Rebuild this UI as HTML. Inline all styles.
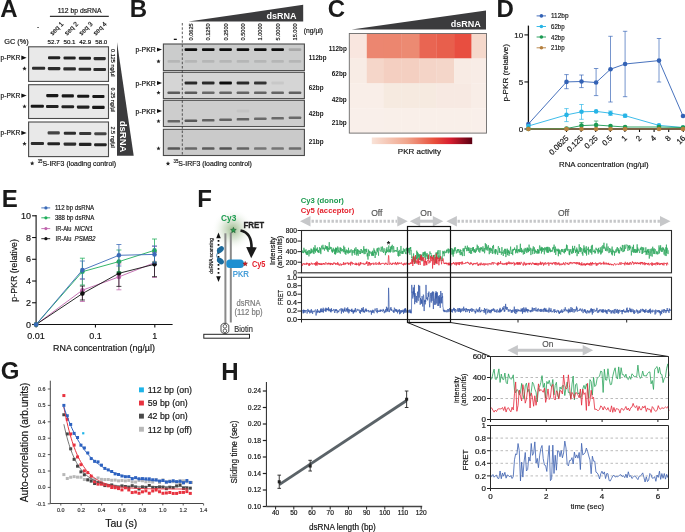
<!DOCTYPE html>
<html><head><meta charset="utf-8"><style>
html,body{margin:0;padding:0;background:#fff;}
svg{display:block;font-family:"Liberation Sans",sans-serif;will-change:transform;}
</style></head><body>
<svg width="685" height="532" viewBox="0 0 685 532">
<defs><filter id="bl" x="-20%" y="-100%" width="140%" height="300%"><feGaussianBlur stdDeviation="0.6"/></filter></defs>
<rect width="685" height="532" fill="#fff"/>
<text x="0.30" y="16.90" font-size="24" text-anchor="start" font-weight="bold" fill="#1a1a1a">A</text>
<text x="129.70" y="16.70" font-size="24" text-anchor="start" font-weight="bold" fill="#1a1a1a">B</text>
<text x="327.80" y="17.00" font-size="24" text-anchor="start" font-weight="bold" fill="#1a1a1a">C</text>
<text x="496.50" y="16.70" font-size="24" text-anchor="start" font-weight="bold" fill="#1a1a1a">D</text>
<text x="1.70" y="206.80" font-size="24" text-anchor="start" font-weight="bold" fill="#1a1a1a">E</text>
<text x="197.30" y="206.80" font-size="24" text-anchor="start" font-weight="bold" fill="#1a1a1a">F</text>
<text x="0.80" y="379.40" font-size="24" text-anchor="start" font-weight="bold" fill="#1a1a1a">G</text>
<text x="221.30" y="379.70" font-size="24" text-anchor="start" font-weight="bold" fill="#1a1a1a">H</text>
<text x="79.60" y="13.40" font-size="6.8" text-anchor="middle" font-weight="normal" fill="#151515" stroke="#151515" stroke-width="0.18">112 bp dsRNA</text>
<line x1="49.90" y1="16.40" x2="108.80" y2="16.40" stroke="#333" stroke-width="1.2"/>
<text x="38.10" y="28.50" font-size="6.5" text-anchor="middle" font-weight="normal" fill="#151515" stroke="#151515" stroke-width="0.18">-</text>
<text x="58.10" y="30.00" font-size="6.6" text-anchor="middle" font-weight="normal" fill="#151515" stroke="#151515" stroke-width="0.18" transform="rotate(-45 58.1 30.0)">seq 1</text>
<text x="72.80" y="30.00" font-size="6.6" text-anchor="middle" font-weight="normal" fill="#151515" stroke="#151515" stroke-width="0.18" transform="rotate(-45 72.8 30.0)">seq 2</text>
<text x="87.30" y="30.00" font-size="6.6" text-anchor="middle" font-weight="normal" fill="#151515" stroke="#151515" stroke-width="0.18" transform="rotate(-45 87.3 30.0)">seq 3</text>
<text x="101.50" y="30.00" font-size="6.6" text-anchor="middle" font-weight="normal" fill="#151515" stroke="#151515" stroke-width="0.18" transform="rotate(-45 101.5 30.0)">seq 4</text>
<text x="4.30" y="44.20" font-size="7.3" text-anchor="start" font-weight="normal" fill="#151515" stroke="#151515" stroke-width="0.18">GC (%)</text>
<text x="53.60" y="44.00" font-size="6.2" text-anchor="middle" font-weight="normal" fill="#151515" stroke="#151515" stroke-width="0.18">52.7</text>
<text x="69.50" y="44.00" font-size="6.2" text-anchor="middle" font-weight="normal" fill="#151515" stroke="#151515" stroke-width="0.18">50.1</text>
<text x="85.20" y="44.00" font-size="6.2" text-anchor="middle" font-weight="normal" fill="#151515" stroke="#151515" stroke-width="0.18">42.9</text>
<text x="101.30" y="44.00" font-size="6.2" text-anchor="middle" font-weight="normal" fill="#151515" stroke="#151515" stroke-width="0.18">58.0</text>
<rect x="28.60" y="46.80" width="79.90" height="34.60" fill="#e9e9e9" stroke="#4a4a4a" stroke-width="1.1"/>
<rect x="32.00" y="66.75" width="13.20" height="3.10" rx="1.03" fill="#111" opacity="0.85" filter="url(#bl)"/>
<rect x="48.00" y="56.15" width="12.20" height="3.10" rx="1.03" fill="#111" opacity="0.90" filter="url(#bl)"/>
<rect x="47.80" y="67.05" width="12.60" height="3.10" rx="1.03" fill="#111" opacity="0.85" filter="url(#bl)"/>
<rect x="63.50" y="56.45" width="12.20" height="3.10" rx="1.03" fill="#111" opacity="0.90" filter="url(#bl)"/>
<rect x="63.30" y="67.35" width="12.60" height="3.10" rx="1.03" fill="#111" opacity="0.85" filter="url(#bl)"/>
<rect x="78.80" y="56.75" width="12.20" height="3.10" rx="1.03" fill="#111" opacity="0.90" filter="url(#bl)"/>
<rect x="78.60" y="67.65" width="12.60" height="3.10" rx="1.03" fill="#111" opacity="0.85" filter="url(#bl)"/>
<rect x="93.60" y="57.05" width="12.20" height="3.10" rx="1.03" fill="#111" opacity="0.85" filter="url(#bl)"/>
<rect x="93.40" y="67.95" width="12.60" height="3.10" rx="1.03" fill="#111" opacity="0.85" filter="url(#bl)"/>
<text x="0.60" y="60.20" font-size="7.0" text-anchor="start" font-weight="normal" fill="#111" stroke="#111" stroke-width="0.18" textLength="19.6" lengthAdjust="spacingAndGlyphs">p-PKR</text>
<polygon points="21.30,55.50 21.30,59.90 26.60,57.70" fill="#111" stroke="none" stroke-width="1"/>
<polygon points="24.50,66.30 25.11,67.76 26.69,67.89 25.48,68.92 25.85,70.46 24.50,69.63 23.15,70.46 23.52,68.92 22.31,67.89 23.89,67.76" fill="#222" stroke="none" stroke-width="0.5"/>
<text x="111.10" y="62.80" font-size="5.5" text-anchor="middle" font-weight="normal" fill="#151515" stroke="#151515" stroke-width="0.18" transform="rotate(90 111.1 62.8)">0.125 ng/µl</text>
<rect x="28.60" y="84.70" width="79.90" height="33.80" fill="#e9e9e9" stroke="#4a4a4a" stroke-width="1.1"/>
<rect x="30.70" y="104.65" width="13.20" height="3.10" rx="1.03" fill="#111" opacity="0.95" filter="url(#bl)"/>
<rect x="46.20" y="94.05" width="12.20" height="3.10" rx="1.03" fill="#111" opacity="0.95" filter="url(#bl)"/>
<rect x="46.00" y="104.95" width="12.60" height="3.10" rx="1.03" fill="#111" opacity="0.90" filter="url(#bl)"/>
<rect x="61.70" y="94.35" width="12.20" height="3.10" rx="1.03" fill="#111" opacity="0.95" filter="url(#bl)"/>
<rect x="61.50" y="105.25" width="12.60" height="3.10" rx="1.03" fill="#111" opacity="0.90" filter="url(#bl)"/>
<rect x="77.10" y="94.65" width="12.20" height="3.10" rx="1.03" fill="#111" opacity="0.95" filter="url(#bl)"/>
<rect x="76.90" y="105.55" width="12.60" height="3.10" rx="1.03" fill="#111" opacity="0.90" filter="url(#bl)"/>
<rect x="92.30" y="94.95" width="12.20" height="3.10" rx="1.03" fill="#111" opacity="0.95" filter="url(#bl)"/>
<rect x="92.10" y="105.85" width="12.60" height="3.10" rx="1.03" fill="#111" opacity="0.95" filter="url(#bl)"/>
<text x="0.60" y="98.10" font-size="7.0" text-anchor="start" font-weight="normal" fill="#111" stroke="#111" stroke-width="0.18" textLength="19.6" lengthAdjust="spacingAndGlyphs">p-PKR</text>
<polygon points="21.30,93.40 21.30,97.80 26.60,95.60" fill="#111" stroke="none" stroke-width="1"/>
<polygon points="24.50,104.20 25.11,105.66 26.69,105.79 25.48,106.82 25.85,108.36 24.50,107.53 23.15,108.36 23.52,106.82 22.31,105.79 23.89,105.66" fill="#222" stroke="none" stroke-width="0.5"/>
<text x="111.10" y="99.70" font-size="5.5" text-anchor="middle" font-weight="normal" fill="#151515" stroke="#151515" stroke-width="0.18" transform="rotate(90 111.1 99.69999999999999)">0.25 ng/µl</text>
<rect x="28.60" y="122.00" width="79.90" height="34.60" fill="#e9e9e9" stroke="#4a4a4a" stroke-width="1.1"/>
<rect x="30.80" y="141.95" width="13.20" height="3.10" rx="1.03" fill="#111" opacity="0.85" filter="url(#bl)"/>
<rect x="47.60" y="131.35" width="12.20" height="3.10" rx="1.03" fill="#111" opacity="0.75" filter="url(#bl)"/>
<rect x="47.40" y="142.25" width="12.60" height="3.10" rx="1.03" fill="#111" opacity="0.90" filter="url(#bl)"/>
<rect x="63.80" y="131.65" width="12.20" height="3.10" rx="1.03" fill="#111" opacity="0.85" filter="url(#bl)"/>
<rect x="63.60" y="142.55" width="12.60" height="3.10" rx="1.03" fill="#111" opacity="0.85" filter="url(#bl)"/>
<rect x="79.10" y="131.95" width="12.20" height="3.10" rx="1.03" fill="#111" opacity="0.80" filter="url(#bl)"/>
<rect x="78.90" y="142.85" width="12.60" height="3.10" rx="1.03" fill="#111" opacity="0.90" filter="url(#bl)"/>
<rect x="94.30" y="132.25" width="12.20" height="3.10" rx="1.03" fill="#111" opacity="0.75" filter="url(#bl)"/>
<rect x="94.10" y="143.15" width="12.60" height="3.10" rx="1.03" fill="#111" opacity="0.90" filter="url(#bl)"/>
<text x="0.60" y="135.40" font-size="7.0" text-anchor="start" font-weight="normal" fill="#111" stroke="#111" stroke-width="0.18" textLength="19.6" lengthAdjust="spacingAndGlyphs">p-PKR</text>
<polygon points="21.30,130.70 21.30,135.10 26.60,132.90" fill="#111" stroke="none" stroke-width="1"/>
<polygon points="24.50,141.50 25.11,142.96 26.69,143.09 25.48,144.12 25.85,145.66 24.50,144.84 23.15,145.66 23.52,144.12 22.31,143.09 23.89,142.96" fill="#222" stroke="none" stroke-width="0.5"/>
<text x="111.10" y="137.10" font-size="5.5" text-anchor="middle" font-weight="normal" fill="#151515" stroke="#151515" stroke-width="0.18" transform="rotate(90 111.1 137.10000000000002)">2.5 ng/µl</text>
<polygon points="117.00,42.20 117.00,155.80 133.70,155.80" fill="#3b3b3d" stroke="none" stroke-width="1"/>
<text x="120.00" y="136.60" font-size="9.5" text-anchor="middle" font-weight="bold" fill="#fff" transform="rotate(90 120.0 136.6)">dsRNA</text>
<polygon points="32.20,161.10 32.81,162.56 34.39,162.69 33.18,163.72 33.55,165.26 32.20,164.44 30.85,165.26 31.22,163.72 30.01,162.69 31.59,162.56" fill="#222" stroke="none" stroke-width="0.5"/>
<text x="37.70" y="162.70" font-size="5.0" text-anchor="start" font-weight="normal" fill="#151515" stroke="#151515" stroke-width="0.18" textLength="4.8" lengthAdjust="spacingAndGlyphs">35</text>
<text x="42.50" y="166.00" font-size="6.9" text-anchor="start" font-weight="normal" fill="#151515" stroke="#151515" stroke-width="0.18" textLength="73.6" lengthAdjust="spacingAndGlyphs">S-IRF3 (loading control)</text>
<polygon points="188.40,21.40 303.20,4.80 303.20,21.40" fill="#3b3b3d" stroke="none" stroke-width="1"/>
<text x="296.50" y="18.50" font-size="9" text-anchor="end" font-weight="bold" fill="#fff">dsRNA</text>
<text x="192.90" y="23.30" font-size="5.6" text-anchor="end" font-weight="normal" fill="#151515" stroke="#151515" stroke-width="0.18" transform="rotate(-90 192.9 23.3)">0.0625</text>
<text x="210.25" y="23.30" font-size="5.6" text-anchor="end" font-weight="normal" fill="#151515" stroke="#151515" stroke-width="0.18" transform="rotate(-90 210.25 23.3)">0.1250</text>
<text x="227.60" y="23.30" font-size="5.6" text-anchor="end" font-weight="normal" fill="#151515" stroke="#151515" stroke-width="0.18" transform="rotate(-90 227.60000000000002 23.3)">0.2500</text>
<text x="244.95" y="23.30" font-size="5.6" text-anchor="end" font-weight="normal" fill="#151515" stroke="#151515" stroke-width="0.18" transform="rotate(-90 244.95000000000002 23.3)">0.5000</text>
<text x="262.30" y="23.30" font-size="5.6" text-anchor="end" font-weight="normal" fill="#151515" stroke="#151515" stroke-width="0.18" transform="rotate(-90 262.3 23.3)">1.0000</text>
<text x="279.65" y="23.30" font-size="5.6" text-anchor="end" font-weight="normal" fill="#151515" stroke="#151515" stroke-width="0.18" transform="rotate(-90 279.65 23.3)">5.0000</text>
<text x="297.00" y="23.30" font-size="5.6" text-anchor="end" font-weight="normal" fill="#151515" stroke="#151515" stroke-width="0.18" transform="rotate(-90 297.0 23.3)">15.000</text>
<text x="303.80" y="33.40" font-size="6.6" text-anchor="start" font-weight="normal" fill="#151515" stroke="#151515" stroke-width="0.18" textLength="19.3" lengthAdjust="spacingAndGlyphs">(ng/µl)</text>
<rect x="173.80" y="38.70" width="3.00" height="1.30" fill="#151515" stroke="none" stroke-width="1"/>
<rect x="163.40" y="44.00" width="141.00" height="26.60" fill="#cbcccc" stroke="#4a4a4a" stroke-width="1.1"/>
<rect x="167.55" y="60.10" width="12.50" height="2.60" rx="0.87" fill="#222" opacity="0.12" filter="url(#bl)"/>
<rect x="184.60" y="48.15" width="12.60" height="2.90" rx="0.97" fill="#111" opacity="1.00" filter="url(#bl)"/>
<rect x="184.65" y="60.10" width="12.50" height="2.60" rx="0.87" fill="#222" opacity="0.12" filter="url(#bl)"/>
<rect x="201.95" y="48.15" width="12.60" height="2.90" rx="0.97" fill="#111" opacity="1.00" filter="url(#bl)"/>
<rect x="202.00" y="60.10" width="12.50" height="2.60" rx="0.87" fill="#222" opacity="0.12" filter="url(#bl)"/>
<rect x="219.30" y="48.15" width="12.60" height="2.90" rx="0.97" fill="#111" opacity="1.00" filter="url(#bl)"/>
<rect x="219.35" y="60.10" width="12.50" height="2.60" rx="0.87" fill="#222" opacity="0.12" filter="url(#bl)"/>
<rect x="236.65" y="48.15" width="12.60" height="2.90" rx="0.97" fill="#111" opacity="1.00" filter="url(#bl)"/>
<rect x="236.70" y="60.10" width="12.50" height="2.60" rx="0.87" fill="#222" opacity="0.12" filter="url(#bl)"/>
<rect x="254.00" y="48.15" width="12.60" height="2.90" rx="0.97" fill="#111" opacity="1.00" filter="url(#bl)"/>
<rect x="254.05" y="60.10" width="12.50" height="2.60" rx="0.87" fill="#222" opacity="0.12" filter="url(#bl)"/>
<rect x="271.35" y="48.15" width="12.60" height="2.90" rx="0.97" fill="#111" opacity="1.00" filter="url(#bl)"/>
<rect x="271.40" y="60.10" width="12.50" height="2.60" rx="0.87" fill="#222" opacity="0.12" filter="url(#bl)"/>
<rect x="288.70" y="48.15" width="12.60" height="2.90" rx="0.97" fill="#111" opacity="0.18" filter="url(#bl)"/>
<rect x="288.75" y="60.10" width="12.50" height="2.60" rx="0.87" fill="#222" opacity="0.12" filter="url(#bl)"/>
<text x="135.50" y="52.10" font-size="7.0" text-anchor="start" font-weight="normal" fill="#111" stroke="#111" stroke-width="0.18" textLength="20.2" lengthAdjust="spacingAndGlyphs">p-PKR</text>
<polygon points="157.00,47.70 157.00,51.50 162.00,49.60" fill="#111" stroke="none" stroke-width="1"/>
<polygon points="158.50,59.20 159.08,60.60 160.59,60.72 159.44,61.71 159.79,63.18 158.50,62.39 157.21,63.18 157.56,61.71 156.41,60.72 157.92,60.60" fill="#222" stroke="none" stroke-width="0.5"/>
<text x="308.80" y="60.20" font-size="7.2" text-anchor="start" font-weight="bold" fill="#151515" textLength="17.7" lengthAdjust="spacingAndGlyphs">112bp</text>
<rect x="163.40" y="72.30" width="141.00" height="26.30" fill="#d5d5d5" stroke="#4a4a4a" stroke-width="1.1"/>
<rect x="167.55" y="91.40" width="12.50" height="2.60" rx="0.87" fill="#222" opacity="0.68" filter="url(#bl)"/>
<rect x="184.60" y="81.55" width="12.60" height="2.90" rx="0.97" fill="#111" opacity="0.85" filter="url(#bl)"/>
<rect x="184.65" y="91.40" width="12.50" height="2.60" rx="0.87" fill="#222" opacity="0.68" filter="url(#bl)"/>
<rect x="201.95" y="81.55" width="12.60" height="2.90" rx="0.97" fill="#111" opacity="0.85" filter="url(#bl)"/>
<rect x="202.00" y="91.40" width="12.50" height="2.60" rx="0.87" fill="#222" opacity="0.60" filter="url(#bl)"/>
<rect x="219.30" y="81.55" width="12.60" height="2.90" rx="0.97" fill="#111" opacity="1.00" filter="url(#bl)"/>
<rect x="219.35" y="91.40" width="12.50" height="2.60" rx="0.87" fill="#222" opacity="0.62" filter="url(#bl)"/>
<rect x="236.65" y="81.55" width="12.60" height="2.90" rx="0.97" fill="#111" opacity="0.85" filter="url(#bl)"/>
<rect x="236.70" y="91.40" width="12.50" height="2.60" rx="0.87" fill="#222" opacity="0.62" filter="url(#bl)"/>
<rect x="254.00" y="81.55" width="12.60" height="2.90" rx="0.97" fill="#111" opacity="0.80" filter="url(#bl)"/>
<rect x="254.05" y="91.40" width="12.50" height="2.60" rx="0.87" fill="#222" opacity="0.62" filter="url(#bl)"/>
<rect x="271.35" y="81.55" width="12.60" height="2.90" rx="0.97" fill="#111" opacity="0.06" filter="url(#bl)"/>
<rect x="271.40" y="91.40" width="12.50" height="2.60" rx="0.87" fill="#222" opacity="0.62" filter="url(#bl)"/>
<rect x="288.75" y="91.40" width="12.50" height="2.60" rx="0.87" fill="#222" opacity="0.65" filter="url(#bl)"/>
<text x="135.50" y="85.50" font-size="7.0" text-anchor="start" font-weight="normal" fill="#111" stroke="#111" stroke-width="0.18" textLength="20.2" lengthAdjust="spacingAndGlyphs">p-PKR</text>
<polygon points="157.00,81.10 157.00,84.90 162.00,83.00" fill="#111" stroke="none" stroke-width="1"/>
<polygon points="158.50,90.50 159.08,91.90 160.59,92.02 159.44,93.01 159.79,94.48 158.50,93.69 157.21,94.48 157.56,93.01 156.41,92.02 157.92,91.90" fill="#222" stroke="none" stroke-width="0.5"/>
<text x="308.80" y="89.50" font-size="7.2" text-anchor="start" font-weight="bold" fill="#151515" textLength="14.8" lengthAdjust="spacingAndGlyphs">62bp</text>
<rect x="163.40" y="100.30" width="141.00" height="26.30" fill="#cdcdcd" stroke="#4a4a4a" stroke-width="1.1"/>
<rect x="167.55" y="119.90" width="12.50" height="2.60" rx="0.87" fill="#222" opacity="0.60" filter="url(#bl)"/>
<rect x="184.65" y="119.40" width="12.50" height="2.60" rx="0.87" fill="#222" opacity="0.68" filter="url(#bl)"/>
<rect x="202.00" y="118.90" width="12.50" height="2.60" rx="0.87" fill="#222" opacity="0.62" filter="url(#bl)"/>
<rect x="219.35" y="118.40" width="12.50" height="2.60" rx="0.87" fill="#222" opacity="0.62" filter="url(#bl)"/>
<rect x="236.65" y="109.55" width="12.60" height="2.90" rx="0.97" fill="#111" opacity="0.04" filter="url(#bl)"/>
<rect x="236.70" y="117.90" width="12.50" height="2.60" rx="0.87" fill="#222" opacity="0.62" filter="url(#bl)"/>
<rect x="254.05" y="117.40" width="12.50" height="2.60" rx="0.87" fill="#222" opacity="0.58" filter="url(#bl)"/>
<rect x="271.40" y="116.90" width="12.50" height="2.60" rx="0.87" fill="#222" opacity="0.58" filter="url(#bl)"/>
<rect x="288.75" y="116.40" width="12.50" height="2.60" rx="0.87" fill="#222" opacity="0.58" filter="url(#bl)"/>
<text x="135.50" y="113.50" font-size="7.0" text-anchor="start" font-weight="normal" fill="#111" stroke="#111" stroke-width="0.18" textLength="20.2" lengthAdjust="spacingAndGlyphs">p-PKR</text>
<polygon points="157.00,109.10 157.00,112.90 162.00,111.00" fill="#111" stroke="none" stroke-width="1"/>
<polygon points="158.50,119.00 159.08,120.40 160.59,120.52 159.44,121.51 159.79,122.98 158.50,122.19 157.21,122.98 157.56,121.51 156.41,120.52 157.92,120.40" fill="#222" stroke="none" stroke-width="0.5"/>
<text x="308.80" y="115.70" font-size="7.2" text-anchor="start" font-weight="bold" fill="#151515" textLength="14.8" lengthAdjust="spacingAndGlyphs">42bp</text>
<rect x="163.40" y="129.30" width="141.00" height="26.20" fill="#cacaca" stroke="#4a4a4a" stroke-width="1.1"/>
<rect x="167.55" y="147.20" width="12.50" height="2.60" rx="0.87" fill="#222" opacity="0.68" filter="url(#bl)"/>
<rect x="184.65" y="147.20" width="12.50" height="2.60" rx="0.87" fill="#222" opacity="0.58" filter="url(#bl)"/>
<rect x="202.00" y="147.20" width="12.50" height="2.60" rx="0.87" fill="#222" opacity="0.66" filter="url(#bl)"/>
<rect x="219.35" y="147.20" width="12.50" height="2.60" rx="0.87" fill="#222" opacity="0.70" filter="url(#bl)"/>
<rect x="236.70" y="147.20" width="12.50" height="2.60" rx="0.87" fill="#222" opacity="0.60" filter="url(#bl)"/>
<rect x="254.05" y="147.20" width="12.50" height="2.60" rx="0.87" fill="#222" opacity="0.50" filter="url(#bl)"/>
<rect x="271.40" y="147.20" width="12.50" height="2.60" rx="0.87" fill="#222" opacity="0.50" filter="url(#bl)"/>
<rect x="288.75" y="147.20" width="12.50" height="2.60" rx="0.87" fill="#222" opacity="0.55" filter="url(#bl)"/>
<polygon points="158.50,146.30 159.08,147.70 160.59,147.82 159.44,148.81 159.79,150.28 158.50,149.49 157.21,150.28 157.56,148.81 156.41,147.82 157.92,147.70" fill="#222" stroke="none" stroke-width="0.5"/>
<text x="308.80" y="143.90" font-size="7.2" text-anchor="start" font-weight="bold" fill="#151515" textLength="14.8" lengthAdjust="spacingAndGlyphs">21bp</text>
<line x1="182.30" y1="23.00" x2="182.30" y2="156.00" stroke="#333" stroke-width="0.8" stroke-dasharray="2.5,1.8"/>
<polygon points="168.00,161.30 168.61,162.76 170.19,162.89 168.98,163.92 169.35,165.46 168.00,164.63 166.65,165.46 167.02,163.92 165.81,162.89 167.39,162.76" fill="#222" stroke="none" stroke-width="0.5"/>
<text x="173.50" y="162.90" font-size="5.0" text-anchor="start" font-weight="normal" fill="#151515" stroke="#151515" stroke-width="0.18" textLength="4.8" lengthAdjust="spacingAndGlyphs">35</text>
<text x="178.30" y="166.20" font-size="6.9" text-anchor="start" font-weight="normal" fill="#151515" stroke="#151515" stroke-width="0.18" textLength="73.6" lengthAdjust="spacingAndGlyphs">S-IRF3 (loading control)</text>
<polygon points="351.60,29.60 486.00,10.50 486.00,29.60" fill="#3b3b3d" stroke="none" stroke-width="1"/>
<text x="480.80" y="27.40" font-size="9" text-anchor="end" font-weight="bold" fill="#fff">dsRNA</text>
<rect x="349.30" y="33.50" width="17.80" height="25.20" fill="#f9e6df" stroke="none" stroke-width="1"/>
<rect x="366.80" y="33.50" width="17.30" height="25.20" fill="#ec8670" stroke="none" stroke-width="1"/>
<rect x="383.80" y="33.50" width="18.00" height="25.20" fill="#ec866f" stroke="none" stroke-width="1"/>
<rect x="401.50" y="33.50" width="18.00" height="25.20" fill="#ec8a72" stroke="none" stroke-width="1"/>
<rect x="419.20" y="33.50" width="17.40" height="25.20" fill="#e96552" stroke="none" stroke-width="1"/>
<rect x="436.30" y="33.50" width="18.10" height="25.20" fill="#e85f4c" stroke="none" stroke-width="1"/>
<rect x="454.10" y="33.50" width="17.70" height="25.20" fill="#e84e40" stroke="none" stroke-width="1"/>
<rect x="471.50" y="33.50" width="15.30" height="25.20" fill="#f5d8cb" stroke="none" stroke-width="1"/>
<rect x="349.30" y="58.40" width="17.80" height="25.20" fill="#f8ece5" stroke="none" stroke-width="1"/>
<rect x="366.80" y="58.40" width="17.30" height="25.20" fill="#f5d6c9" stroke="none" stroke-width="1"/>
<rect x="383.80" y="58.40" width="18.00" height="25.20" fill="#f4cfc1" stroke="none" stroke-width="1"/>
<rect x="401.50" y="58.40" width="18.00" height="25.20" fill="#f4cfc1" stroke="none" stroke-width="1"/>
<rect x="419.20" y="58.40" width="17.40" height="25.20" fill="#f4d4c7" stroke="none" stroke-width="1"/>
<rect x="436.30" y="58.40" width="18.10" height="25.20" fill="#f4d6c9" stroke="none" stroke-width="1"/>
<rect x="454.10" y="58.40" width="17.70" height="25.20" fill="#f8ebe4" stroke="none" stroke-width="1"/>
<rect x="471.50" y="58.40" width="15.30" height="25.20" fill="#f8ece6" stroke="none" stroke-width="1"/>
<rect x="349.30" y="83.30" width="17.80" height="25.20" fill="#f9eee8" stroke="none" stroke-width="1"/>
<rect x="366.80" y="83.30" width="17.30" height="25.20" fill="#f9eee8" stroke="none" stroke-width="1"/>
<rect x="383.80" y="83.30" width="18.00" height="25.20" fill="#f6eae0" stroke="none" stroke-width="1"/>
<rect x="401.50" y="83.30" width="18.00" height="25.20" fill="#f6eae0" stroke="none" stroke-width="1"/>
<rect x="419.20" y="83.30" width="17.40" height="25.20" fill="#f6eae0" stroke="none" stroke-width="1"/>
<rect x="436.30" y="83.30" width="18.10" height="25.20" fill="#f7e9e2" stroke="none" stroke-width="1"/>
<rect x="454.10" y="83.30" width="17.70" height="25.20" fill="#f7e9e2" stroke="none" stroke-width="1"/>
<rect x="471.50" y="83.30" width="15.30" height="25.20" fill="#f8ede7" stroke="none" stroke-width="1"/>
<rect x="349.30" y="108.20" width="17.80" height="25.20" fill="#f9efea" stroke="none" stroke-width="1"/>
<rect x="366.80" y="108.20" width="17.30" height="25.20" fill="#f9efea" stroke="none" stroke-width="1"/>
<rect x="383.80" y="108.20" width="18.00" height="25.20" fill="#f9efe9" stroke="none" stroke-width="1"/>
<rect x="401.50" y="108.20" width="18.00" height="25.20" fill="#f9efe9" stroke="none" stroke-width="1"/>
<rect x="419.20" y="108.20" width="17.40" height="25.20" fill="#f9efe9" stroke="none" stroke-width="1"/>
<rect x="436.30" y="108.20" width="18.10" height="25.20" fill="#f9efe9" stroke="none" stroke-width="1"/>
<rect x="454.10" y="108.20" width="17.70" height="25.20" fill="#f9efe9" stroke="none" stroke-width="1"/>
<rect x="471.50" y="108.20" width="15.30" height="25.20" fill="#f9efea" stroke="none" stroke-width="1"/>
<rect x="349.30" y="33.50" width="137.20" height="99.60" fill="none" stroke="#6a6a6a" stroke-width="0.9"/>
<text x="346.80" y="50.80" font-size="7.0" text-anchor="end" font-weight="bold" fill="#151515" textLength="18.1" lengthAdjust="spacingAndGlyphs">112bp</text>
<text x="346.80" y="75.70" font-size="7.0" text-anchor="end" font-weight="bold" fill="#151515" textLength="15.0" lengthAdjust="spacingAndGlyphs">62bp</text>
<text x="346.80" y="101.60" font-size="7.0" text-anchor="end" font-weight="bold" fill="#151515" textLength="15.0" lengthAdjust="spacingAndGlyphs">42bp</text>
<text x="346.80" y="124.90" font-size="7.0" text-anchor="end" font-weight="bold" fill="#151515" textLength="15.0" lengthAdjust="spacingAndGlyphs">21bp</text>
<defs><linearGradient id="cb" x1="0" x2="1" y1="0" y2="0"><stop offset="0" stop-color="#f9e3d8"/><stop offset="0.35" stop-color="#f0a58c"/><stop offset="0.62" stop-color="#e8503c"/><stop offset="0.78" stop-color="#d81e30"/><stop offset="1" stop-color="#5a0012"/></linearGradient></defs>
<rect x="371.80" y="137.50" width="100.40" height="6.60" fill="url(#cb)" stroke="none" stroke-width="1"/>
<text x="419.40" y="153.90" font-size="8" text-anchor="middle" font-weight="normal" fill="#151515" stroke="#151515" stroke-width="0.18">PKR activity</text>
<line x1="528.40" y1="25.60" x2="528.40" y2="129.60" stroke="#111" stroke-width="1.3"/>
<line x1="527.80" y1="129.00" x2="685.00" y2="129.00" stroke="#111" stroke-width="1.3"/>
<line x1="524.40" y1="129.00" x2="528.40" y2="129.00" stroke="#111" stroke-width="1.1"/>
<text x="523.10" y="131.90" font-size="8" text-anchor="end" font-weight="normal" fill="#151515" stroke="#151515" stroke-width="0.18">0</text>
<line x1="524.40" y1="81.95" x2="528.40" y2="81.95" stroke="#111" stroke-width="1.1"/>
<text x="523.10" y="84.85" font-size="8" text-anchor="end" font-weight="normal" fill="#151515" stroke="#151515" stroke-width="0.18">5</text>
<line x1="524.40" y1="34.90" x2="528.40" y2="34.90" stroke="#111" stroke-width="1.1"/>
<text x="523.10" y="37.80" font-size="8" text-anchor="end" font-weight="normal" fill="#151515" stroke="#151515" stroke-width="0.18">10</text>
<line x1="566.50" y1="129.00" x2="566.50" y2="132.00" stroke="#111" stroke-width="1.1"/>
<text x="569.10" y="138.60" font-size="7.8" text-anchor="end" font-weight="normal" fill="#151515" stroke="#151515" stroke-width="0.18" transform="rotate(-45 569.1 138.6)">0.0625</text>
<line x1="581.10" y1="129.00" x2="581.10" y2="132.00" stroke="#111" stroke-width="1.1"/>
<text x="583.70" y="138.60" font-size="7.8" text-anchor="end" font-weight="normal" fill="#151515" stroke="#151515" stroke-width="0.18" transform="rotate(-45 583.7 138.6)">0.125</text>
<line x1="595.70" y1="129.00" x2="595.70" y2="132.00" stroke="#111" stroke-width="1.1"/>
<text x="598.30" y="138.60" font-size="7.8" text-anchor="end" font-weight="normal" fill="#151515" stroke="#151515" stroke-width="0.18" transform="rotate(-45 598.3000000000001 138.6)">0.25</text>
<line x1="610.30" y1="129.00" x2="610.30" y2="132.00" stroke="#111" stroke-width="1.1"/>
<text x="612.90" y="138.60" font-size="7.8" text-anchor="end" font-weight="normal" fill="#151515" stroke="#151515" stroke-width="0.18" transform="rotate(-45 612.9 138.6)">0.5</text>
<line x1="624.90" y1="129.00" x2="624.90" y2="132.00" stroke="#111" stroke-width="1.1"/>
<text x="627.50" y="138.60" font-size="7.8" text-anchor="end" font-weight="normal" fill="#151515" stroke="#151515" stroke-width="0.18" transform="rotate(-45 627.5 138.6)">1</text>
<line x1="639.50" y1="129.00" x2="639.50" y2="132.00" stroke="#111" stroke-width="1.1"/>
<text x="642.10" y="138.60" font-size="7.8" text-anchor="end" font-weight="normal" fill="#151515" stroke="#151515" stroke-width="0.18" transform="rotate(-45 642.1 138.6)">2</text>
<line x1="654.10" y1="129.00" x2="654.10" y2="132.00" stroke="#111" stroke-width="1.1"/>
<text x="656.70" y="138.60" font-size="7.8" text-anchor="end" font-weight="normal" fill="#151515" stroke="#151515" stroke-width="0.18" transform="rotate(-45 656.7 138.6)">4</text>
<line x1="668.70" y1="129.00" x2="668.70" y2="132.00" stroke="#111" stroke-width="1.1"/>
<text x="671.30" y="138.60" font-size="7.8" text-anchor="end" font-weight="normal" fill="#151515" stroke="#151515" stroke-width="0.18" transform="rotate(-45 671.3000000000001 138.6)">8</text>
<line x1="683.30" y1="129.00" x2="683.30" y2="132.00" stroke="#111" stroke-width="1.1"/>
<text x="685.90" y="138.60" font-size="7.8" text-anchor="end" font-weight="normal" fill="#151515" stroke="#151515" stroke-width="0.18" transform="rotate(-45 685.9 138.6)">16</text>
<text x="603.80" y="166.70" font-size="7.8" text-anchor="middle" font-weight="normal" fill="#151515" stroke="#151515" stroke-width="0.18">RNA concentration (ng/µl)</text>
<text x="508.40" y="72.80" font-size="8" text-anchor="middle" font-weight="normal" fill="#151515" stroke="#151515" stroke-width="0.18" transform="rotate(-90 508.4 72.8)" textLength="57.6" lengthAdjust="spacingAndGlyphs">p-PKR (relative)</text>
<line x1="536.60" y1="15.90" x2="546.00" y2="15.90" stroke="#3362b5" stroke-width="0.9"/>
<circle cx="541.40" cy="15.90" r="1.8" fill="#3362b5"/>
<text x="551.00" y="18.40" font-size="7.2" text-anchor="start" font-weight="normal" fill="#151515" stroke="#151515" stroke-width="0.18" textLength="17.5" lengthAdjust="spacingAndGlyphs">112bp</text>
<line x1="536.60" y1="26.50" x2="546.00" y2="26.50" stroke="#27b4e6" stroke-width="0.9"/>
<circle cx="541.40" cy="26.50" r="1.8" fill="#27b4e6"/>
<text x="551.00" y="29.00" font-size="7.2" text-anchor="start" font-weight="normal" fill="#151515" stroke="#151515" stroke-width="0.18" textLength="13.6" lengthAdjust="spacingAndGlyphs">62bp</text>
<line x1="536.60" y1="37.00" x2="546.00" y2="37.00" stroke="#1b9a52" stroke-width="0.9"/>
<circle cx="541.40" cy="37.00" r="1.8" fill="#1b9a52"/>
<text x="551.00" y="39.50" font-size="7.2" text-anchor="start" font-weight="normal" fill="#151515" stroke="#151515" stroke-width="0.18" textLength="13.6" lengthAdjust="spacingAndGlyphs">42bp</text>
<line x1="536.60" y1="47.80" x2="546.00" y2="47.80" stroke="#b5803f" stroke-width="0.9"/>
<circle cx="541.40" cy="47.80" r="1.8" fill="#b5803f"/>
<text x="551.00" y="50.30" font-size="7.2" text-anchor="start" font-weight="normal" fill="#151515" stroke="#151515" stroke-width="0.18" textLength="13.6" lengthAdjust="spacingAndGlyphs">21bp</text>
<line x1="566.50" y1="74.60" x2="566.50" y2="88.70" stroke="#3362b5" stroke-width="0.9" opacity="0.75"/>
<line x1="564.30" y1="74.60" x2="568.70" y2="74.60" stroke="#3362b5" stroke-width="0.9" opacity="0.75"/>
<line x1="564.30" y1="88.70" x2="568.70" y2="88.70" stroke="#3362b5" stroke-width="0.9" opacity="0.75"/>
<line x1="581.50" y1="75.00" x2="581.50" y2="87.60" stroke="#3362b5" stroke-width="0.9" opacity="0.75"/>
<line x1="579.30" y1="75.00" x2="583.70" y2="75.00" stroke="#3362b5" stroke-width="0.9" opacity="0.75"/>
<line x1="579.30" y1="87.60" x2="583.70" y2="87.60" stroke="#3362b5" stroke-width="0.9" opacity="0.75"/>
<line x1="596.10" y1="68.50" x2="596.10" y2="95.60" stroke="#3362b5" stroke-width="0.9" opacity="0.75"/>
<line x1="593.90" y1="68.50" x2="598.30" y2="68.50" stroke="#3362b5" stroke-width="0.9" opacity="0.75"/>
<line x1="593.90" y1="95.60" x2="598.30" y2="95.60" stroke="#3362b5" stroke-width="0.9" opacity="0.75"/>
<line x1="610.50" y1="36.30" x2="610.50" y2="102.00" stroke="#3362b5" stroke-width="0.9" opacity="0.75"/>
<line x1="608.30" y1="36.30" x2="612.70" y2="36.30" stroke="#3362b5" stroke-width="0.9" opacity="0.75"/>
<line x1="608.30" y1="102.00" x2="612.70" y2="102.00" stroke="#3362b5" stroke-width="0.9" opacity="0.75"/>
<line x1="625.10" y1="31.30" x2="625.10" y2="96.70" stroke="#3362b5" stroke-width="0.9" opacity="0.75"/>
<line x1="622.90" y1="31.30" x2="627.30" y2="31.30" stroke="#3362b5" stroke-width="0.9" opacity="0.75"/>
<line x1="622.90" y1="96.70" x2="627.30" y2="96.70" stroke="#3362b5" stroke-width="0.9" opacity="0.75"/>
<line x1="659.00" y1="38.50" x2="659.00" y2="82.00" stroke="#3362b5" stroke-width="0.9" opacity="0.75"/>
<line x1="656.80" y1="38.50" x2="661.20" y2="38.50" stroke="#3362b5" stroke-width="0.9" opacity="0.75"/>
<line x1="656.80" y1="82.00" x2="661.20" y2="82.00" stroke="#3362b5" stroke-width="0.9" opacity="0.75"/>
<polyline points="528.40,124.00 566.50,81.90 581.50,81.50 596.10,82.50 610.50,69.20 625.10,64.00 659.00,60.60 683.00,116.00" fill="none" stroke="#3362b5" stroke-width="0.9" stroke-linejoin="round"/>
<circle cx="528.40" cy="124.00" r="2.3" fill="#3362b5"/>
<circle cx="566.50" cy="81.90" r="2.3" fill="#3362b5"/>
<circle cx="581.50" cy="81.50" r="2.3" fill="#3362b5"/>
<circle cx="596.10" cy="82.50" r="2.3" fill="#3362b5"/>
<circle cx="610.50" cy="69.20" r="2.3" fill="#3362b5"/>
<circle cx="625.10" cy="64.00" r="2.3" fill="#3362b5"/>
<circle cx="659.00" cy="60.60" r="2.3" fill="#3362b5"/>
<circle cx="683.00" cy="116.00" r="2.3" fill="#3362b5"/>
<line x1="566.50" y1="108.60" x2="566.50" y2="121.60" stroke="#27b4e6" stroke-width="0.9" opacity="0.75"/>
<line x1="564.30" y1="108.60" x2="568.70" y2="108.60" stroke="#27b4e6" stroke-width="0.9" opacity="0.75"/>
<line x1="564.30" y1="121.60" x2="568.70" y2="121.60" stroke="#27b4e6" stroke-width="0.9" opacity="0.75"/>
<line x1="581.50" y1="104.50" x2="581.50" y2="119.30" stroke="#27b4e6" stroke-width="0.9" opacity="0.75"/>
<line x1="579.30" y1="104.50" x2="583.70" y2="104.50" stroke="#27b4e6" stroke-width="0.9" opacity="0.75"/>
<line x1="579.30" y1="119.30" x2="583.70" y2="119.30" stroke="#27b4e6" stroke-width="0.9" opacity="0.75"/>
<line x1="610.50" y1="111.00" x2="610.50" y2="115.40" stroke="#27b4e6" stroke-width="0.9" opacity="0.75"/>
<line x1="608.30" y1="111.00" x2="612.70" y2="111.00" stroke="#27b4e6" stroke-width="0.9" opacity="0.75"/>
<line x1="608.30" y1="115.40" x2="612.70" y2="115.40" stroke="#27b4e6" stroke-width="0.9" opacity="0.75"/>
<line x1="625.10" y1="114.20" x2="625.10" y2="117.20" stroke="#27b4e6" stroke-width="0.9" opacity="0.75"/>
<line x1="622.90" y1="114.20" x2="627.30" y2="114.20" stroke="#27b4e6" stroke-width="0.9" opacity="0.75"/>
<line x1="622.90" y1="117.20" x2="627.30" y2="117.20" stroke="#27b4e6" stroke-width="0.9" opacity="0.75"/>
<polyline points="528.40,126.00 566.50,114.90 581.50,111.80 596.10,111.40 610.50,113.20 625.10,115.70 659.00,125.40 683.00,127.50" fill="none" stroke="#27b4e6" stroke-width="0.9" stroke-linejoin="round"/>
<circle cx="528.40" cy="126.00" r="2.3" fill="#27b4e6"/>
<circle cx="566.50" cy="114.90" r="2.3" fill="#27b4e6"/>
<circle cx="581.50" cy="111.80" r="2.3" fill="#27b4e6"/>
<circle cx="596.10" cy="111.40" r="2.3" fill="#27b4e6"/>
<circle cx="610.50" cy="113.20" r="2.3" fill="#27b4e6"/>
<circle cx="625.10" cy="115.70" r="2.3" fill="#27b4e6"/>
<circle cx="659.00" cy="125.40" r="2.3" fill="#27b4e6"/>
<circle cx="683.00" cy="127.50" r="2.3" fill="#27b4e6"/>
<line x1="581.50" y1="122.50" x2="581.50" y2="128.80" stroke="#1b9a52" stroke-width="0.9" opacity="0.75"/>
<line x1="579.30" y1="122.50" x2="583.70" y2="122.50" stroke="#1b9a52" stroke-width="0.9" opacity="0.75"/>
<line x1="579.30" y1="128.80" x2="583.70" y2="128.80" stroke="#1b9a52" stroke-width="0.9" opacity="0.75"/>
<line x1="596.10" y1="121.00" x2="596.10" y2="128.80" stroke="#1b9a52" stroke-width="0.9" opacity="0.75"/>
<line x1="593.90" y1="121.00" x2="598.30" y2="121.00" stroke="#1b9a52" stroke-width="0.9" opacity="0.75"/>
<line x1="593.90" y1="128.80" x2="598.30" y2="128.80" stroke="#1b9a52" stroke-width="0.9" opacity="0.75"/>
<polyline points="528.40,128.90 566.50,128.50 581.50,125.60 596.10,125.00 610.50,126.00 625.10,127.00 659.00,127.00 683.00,127.50" fill="none" stroke="#1b9a52" stroke-width="0.9" stroke-linejoin="round"/>
<circle cx="528.40" cy="128.90" r="2.3" fill="#1b9a52"/>
<circle cx="566.50" cy="128.50" r="2.3" fill="#1b9a52"/>
<circle cx="581.50" cy="125.60" r="2.3" fill="#1b9a52"/>
<circle cx="596.10" cy="125.00" r="2.3" fill="#1b9a52"/>
<circle cx="610.50" cy="126.00" r="2.3" fill="#1b9a52"/>
<circle cx="625.10" cy="127.00" r="2.3" fill="#1b9a52"/>
<circle cx="659.00" cy="127.00" r="2.3" fill="#1b9a52"/>
<circle cx="683.00" cy="127.50" r="2.3" fill="#1b9a52"/>
<polyline points="528.40,129.00 566.50,129.00 581.50,129.00 596.10,129.00 610.50,129.00 625.10,129.00 659.00,129.00 683.00,129.00" fill="none" stroke="#b5803f" stroke-width="0.9" stroke-linejoin="round"/>
<circle cx="528.40" cy="129.00" r="2.3" fill="#b5803f"/>
<circle cx="566.50" cy="129.00" r="2.3" fill="#b5803f"/>
<circle cx="581.50" cy="129.00" r="2.3" fill="#b5803f"/>
<circle cx="596.10" cy="129.00" r="2.3" fill="#b5803f"/>
<circle cx="610.50" cy="129.00" r="2.3" fill="#b5803f"/>
<circle cx="625.10" cy="129.00" r="2.3" fill="#b5803f"/>
<circle cx="659.00" cy="129.00" r="2.3" fill="#b5803f"/>
<circle cx="683.00" cy="129.00" r="2.3" fill="#b5803f"/>
<line x1="36.10" y1="215.00" x2="36.10" y2="325.00" stroke="#111" stroke-width="1.1"/>
<line x1="35.60" y1="324.50" x2="172.60" y2="324.50" stroke="#111" stroke-width="1.1"/>
<line x1="32.10" y1="324.50" x2="36.10" y2="324.50" stroke="#111" stroke-width="1.1"/>
<text x="30.90" y="327.70" font-size="9" text-anchor="end" font-weight="normal" fill="#151515" stroke="#151515" stroke-width="0.18">0</text>
<line x1="32.10" y1="302.76" x2="36.10" y2="302.76" stroke="#111" stroke-width="1.1"/>
<text x="30.90" y="305.96" font-size="9" text-anchor="end" font-weight="normal" fill="#151515" stroke="#151515" stroke-width="0.18">2</text>
<line x1="32.10" y1="281.02" x2="36.10" y2="281.02" stroke="#111" stroke-width="1.1"/>
<text x="30.90" y="284.22" font-size="9" text-anchor="end" font-weight="normal" fill="#151515" stroke="#151515" stroke-width="0.18">4</text>
<line x1="32.10" y1="259.28" x2="36.10" y2="259.28" stroke="#111" stroke-width="1.1"/>
<text x="30.90" y="262.48" font-size="9" text-anchor="end" font-weight="normal" fill="#151515" stroke="#151515" stroke-width="0.18">6</text>
<line x1="32.10" y1="237.54" x2="36.10" y2="237.54" stroke="#111" stroke-width="1.1"/>
<text x="30.90" y="240.74" font-size="9" text-anchor="end" font-weight="normal" fill="#151515" stroke="#151515" stroke-width="0.18">8</text>
<line x1="32.10" y1="215.80" x2="36.10" y2="215.80" stroke="#111" stroke-width="1.1"/>
<text x="30.90" y="219.00" font-size="9" text-anchor="end" font-weight="normal" fill="#151515" stroke="#151515" stroke-width="0.18">10</text>
<line x1="36.10" y1="324.50" x2="36.10" y2="327.50" stroke="#111" stroke-width="1.1"/>
<text x="36.10" y="338.80" font-size="9" text-anchor="middle" font-weight="normal" fill="#151515" stroke="#151515" stroke-width="0.18">0.01</text>
<line x1="95.45" y1="324.50" x2="95.45" y2="327.50" stroke="#111" stroke-width="1.1"/>
<text x="95.45" y="338.80" font-size="9" text-anchor="middle" font-weight="normal" fill="#151515" stroke="#151515" stroke-width="0.18">0.1</text>
<line x1="154.80" y1="324.50" x2="154.80" y2="327.50" stroke="#111" stroke-width="1.1"/>
<text x="154.80" y="338.80" font-size="9" text-anchor="middle" font-weight="normal" fill="#151515" stroke="#151515" stroke-width="0.18">1</text>
<text x="104.00" y="351.40" font-size="8.9" text-anchor="middle" font-weight="normal" fill="#151515" stroke="#151515" stroke-width="0.18">RNA concentration (ng/µl)</text>
<text x="16.90" y="270.40" font-size="8.8" text-anchor="middle" font-weight="normal" fill="#151515" stroke="#151515" stroke-width="0.18" transform="rotate(-90 16.9 270.4)">p-PKR (relative)</text>
<line x1="41.30" y1="207.90" x2="50.20" y2="207.90" stroke="#3a6ab8" stroke-width="0.9"/>
<circle cx="45.90" cy="207.90" r="1.6" fill="#3a6ab8"/>
<text x="54.90" y="210.40" font-size="7.0" text-anchor="start" font-weight="normal" fill="#151515" stroke="#151515" stroke-width="0.18" textLength="39.3" lengthAdjust="spacingAndGlyphs">112 bp dsRNA</text>
<line x1="41.30" y1="217.80" x2="50.20" y2="217.80" stroke="#1fae5a" stroke-width="0.9"/>
<circle cx="45.90" cy="217.80" r="1.6" fill="#1fae5a"/>
<text x="54.90" y="220.30" font-size="7.0" text-anchor="start" font-weight="normal" fill="#151515" stroke="#151515" stroke-width="0.18" textLength="39.3" lengthAdjust="spacingAndGlyphs">388 bp dsRNA</text>
<line x1="41.30" y1="228.60" x2="50.20" y2="228.60" stroke="#c065ad" stroke-width="0.9"/>
<circle cx="45.90" cy="228.60" r="1.6" fill="#c065ad"/>
<text x="55.60" y="231.10" font-size="7.0" text-anchor="start" font-weight="normal" fill="#151515" stroke="#151515" stroke-width="0.18" textLength="15.8" lengthAdjust="spacingAndGlyphs">IR-Alu</text>
<text x="74.50" y="231.10" font-size="7.0" text-anchor="start" font-weight="normal" fill="#151515" stroke="#151515" stroke-width="0.18" font-style="italic" textLength="18.3" lengthAdjust="spacingAndGlyphs">NICN1</text>
<line x1="41.30" y1="238.70" x2="50.20" y2="238.70" stroke="#111111" stroke-width="0.9"/>
<circle cx="45.90" cy="238.70" r="1.6" fill="#111111"/>
<text x="55.60" y="241.20" font-size="7.0" text-anchor="start" font-weight="normal" fill="#151515" stroke="#151515" stroke-width="0.18" textLength="15.8" lengthAdjust="spacingAndGlyphs">IR-Alu</text>
<text x="74.50" y="241.20" font-size="7.0" text-anchor="start" font-weight="normal" fill="#151515" stroke="#151515" stroke-width="0.18" font-style="italic" textLength="21.0" lengthAdjust="spacingAndGlyphs">PSMB2</text>
<line x1="82.40" y1="279.00" x2="82.40" y2="301.50" stroke="#c065ad" stroke-width="0.9" opacity="0.85"/>
<line x1="79.90" y1="279.00" x2="84.90" y2="279.00" stroke="#c065ad" stroke-width="0.9" opacity="0.85"/>
<line x1="79.90" y1="301.50" x2="84.90" y2="301.50" stroke="#c065ad" stroke-width="0.9" opacity="0.85"/>
<line x1="118.90" y1="264.00" x2="118.90" y2="289.80" stroke="#c065ad" stroke-width="0.9" opacity="0.85"/>
<line x1="116.40" y1="264.00" x2="121.40" y2="264.00" stroke="#c065ad" stroke-width="0.9" opacity="0.85"/>
<line x1="116.40" y1="289.80" x2="121.40" y2="289.80" stroke="#c065ad" stroke-width="0.9" opacity="0.85"/>
<line x1="154.50" y1="246.30" x2="154.50" y2="277.40" stroke="#c065ad" stroke-width="0.9" opacity="0.85"/>
<line x1="152.00" y1="246.30" x2="157.00" y2="246.30" stroke="#c065ad" stroke-width="0.9" opacity="0.85"/>
<line x1="152.00" y1="277.40" x2="157.00" y2="277.40" stroke="#c065ad" stroke-width="0.9" opacity="0.85"/>
<polyline points="36.10,324.50 82.40,290.20 118.90,276.90 154.50,262.70" fill="none" stroke="#c065ad" stroke-width="0.9" stroke-linejoin="round"/>
<circle cx="36.10" cy="324.50" r="2.3" fill="#c065ad"/>
<circle cx="82.40" cy="290.20" r="2.3" fill="#c065ad"/>
<circle cx="118.90" cy="276.90" r="2.3" fill="#c065ad"/>
<circle cx="154.50" cy="262.70" r="2.3" fill="#c065ad"/>
<line x1="82.40" y1="286.00" x2="82.40" y2="300.00" stroke="#111111" stroke-width="0.9" opacity="0.85"/>
<line x1="79.90" y1="286.00" x2="84.90" y2="286.00" stroke="#111111" stroke-width="0.9" opacity="0.85"/>
<line x1="79.90" y1="300.00" x2="84.90" y2="300.00" stroke="#111111" stroke-width="0.9" opacity="0.85"/>
<line x1="118.90" y1="262.00" x2="118.90" y2="286.40" stroke="#111111" stroke-width="0.9" opacity="0.85"/>
<line x1="116.40" y1="262.00" x2="121.40" y2="262.00" stroke="#111111" stroke-width="0.9" opacity="0.85"/>
<line x1="116.40" y1="286.40" x2="121.40" y2="286.40" stroke="#111111" stroke-width="0.9" opacity="0.85"/>
<line x1="154.50" y1="252.00" x2="154.50" y2="276.70" stroke="#111111" stroke-width="0.9" opacity="0.85"/>
<line x1="152.00" y1="252.00" x2="157.00" y2="252.00" stroke="#111111" stroke-width="0.9" opacity="0.85"/>
<line x1="152.00" y1="276.70" x2="157.00" y2="276.70" stroke="#111111" stroke-width="0.9" opacity="0.85"/>
<polyline points="36.10,324.50 82.40,293.60 118.90,273.30 154.50,264.30" fill="none" stroke="#111111" stroke-width="0.9" stroke-linejoin="round"/>
<circle cx="36.10" cy="324.50" r="2.3" fill="#111111"/>
<circle cx="82.40" cy="293.60" r="2.3" fill="#111111"/>
<circle cx="118.90" cy="273.30" r="2.3" fill="#111111"/>
<circle cx="154.50" cy="264.30" r="2.3" fill="#111111"/>
<line x1="82.40" y1="258.20" x2="82.40" y2="285.00" stroke="#1fae5a" stroke-width="0.9" opacity="0.85"/>
<line x1="79.90" y1="258.20" x2="84.90" y2="258.20" stroke="#1fae5a" stroke-width="0.9" opacity="0.85"/>
<line x1="79.90" y1="285.00" x2="84.90" y2="285.00" stroke="#1fae5a" stroke-width="0.9" opacity="0.85"/>
<line x1="118.90" y1="250.00" x2="118.90" y2="272.00" stroke="#1fae5a" stroke-width="0.9" opacity="0.85"/>
<line x1="116.40" y1="250.00" x2="121.40" y2="250.00" stroke="#1fae5a" stroke-width="0.9" opacity="0.85"/>
<line x1="116.40" y1="272.00" x2="121.40" y2="272.00" stroke="#1fae5a" stroke-width="0.9" opacity="0.85"/>
<line x1="154.50" y1="239.00" x2="154.50" y2="262.00" stroke="#1fae5a" stroke-width="0.9" opacity="0.85"/>
<line x1="152.00" y1="239.00" x2="157.00" y2="239.00" stroke="#1fae5a" stroke-width="0.9" opacity="0.85"/>
<line x1="152.00" y1="262.00" x2="157.00" y2="262.00" stroke="#1fae5a" stroke-width="0.9" opacity="0.85"/>
<polyline points="36.10,324.50 82.40,271.70 118.90,261.60 154.50,250.30" fill="none" stroke="#1fae5a" stroke-width="0.9" stroke-linejoin="round"/>
<circle cx="36.10" cy="324.50" r="2.3" fill="#1fae5a"/>
<circle cx="82.40" cy="271.70" r="2.3" fill="#1fae5a"/>
<circle cx="118.90" cy="261.60" r="2.3" fill="#1fae5a"/>
<circle cx="154.50" cy="250.30" r="2.3" fill="#1fae5a"/>
<line x1="82.40" y1="261.00" x2="82.40" y2="279.00" stroke="#3a6ab8" stroke-width="0.9" opacity="0.85"/>
<line x1="79.90" y1="261.00" x2="84.90" y2="261.00" stroke="#3a6ab8" stroke-width="0.9" opacity="0.85"/>
<line x1="79.90" y1="279.00" x2="84.90" y2="279.00" stroke="#3a6ab8" stroke-width="0.9" opacity="0.85"/>
<line x1="118.90" y1="244.50" x2="118.90" y2="266.00" stroke="#3a6ab8" stroke-width="0.9" opacity="0.85"/>
<line x1="116.40" y1="244.50" x2="121.40" y2="244.50" stroke="#3a6ab8" stroke-width="0.9" opacity="0.85"/>
<line x1="116.40" y1="266.00" x2="121.40" y2="266.00" stroke="#3a6ab8" stroke-width="0.9" opacity="0.85"/>
<line x1="154.50" y1="246.00" x2="154.50" y2="263.00" stroke="#3a6ab8" stroke-width="0.9" opacity="0.85"/>
<line x1="152.00" y1="246.00" x2="157.00" y2="246.00" stroke="#3a6ab8" stroke-width="0.9" opacity="0.85"/>
<line x1="152.00" y1="263.00" x2="157.00" y2="263.00" stroke="#3a6ab8" stroke-width="0.9" opacity="0.85"/>
<polyline points="36.10,324.50 82.40,270.00 118.90,255.30 154.50,254.40" fill="none" stroke="#3a6ab8" stroke-width="0.9" stroke-linejoin="round"/>
<circle cx="36.10" cy="324.50" r="2.3" fill="#3a6ab8"/>
<circle cx="82.40" cy="270.00" r="2.3" fill="#3a6ab8"/>
<circle cx="118.90" cy="255.30" r="2.3" fill="#3a6ab8"/>
<circle cx="154.50" cy="254.40" r="2.3" fill="#3a6ab8"/>
<defs><radialGradient id="glow"><stop offset="0" stop-color="#98b888" stop-opacity="0.95"/><stop offset="0.45" stop-color="#c4d6bb" stop-opacity="0.6"/><stop offset="1" stop-color="#ffffff" stop-opacity="0"/></radialGradient></defs>
<circle cx="232.80" cy="229.50" r="21" fill="url(#glow)"/>
<text x="228.70" y="221.20" font-size="8.3" text-anchor="middle" font-weight="bold" fill="#1a9a4e">Cy3</text>
<text x="243.40" y="227.50" font-size="9.0" text-anchor="start" font-weight="bold" fill="#222" stroke="#222" stroke-width="0.3" textLength="20.8" lengthAdjust="spacingAndGlyphs">FRET</text>
<line x1="225.40" y1="233.30" x2="225.40" y2="323.60" stroke="#8a8a8a" stroke-width="2.0"/>
<line x1="230.80" y1="232.50" x2="230.80" y2="322.50" stroke="#8a8a8a" stroke-width="2.0"/>
<path d="M240.5,230.5 C248,232 252,238 251.5,249" fill="none" stroke="#1a1a1a" stroke-width="2.6"/>
<polygon points="246.20,247.00 256.80,247.40 251.20,258.30" fill="#1a1a1a" stroke="none" stroke-width="1"/>
<polygon points="233.40,227.30 234.19,229.21 236.25,229.37 234.68,230.72 235.16,232.73 233.40,231.65 231.64,232.73 232.12,230.72 230.55,229.37 232.61,229.21" fill="#2aa050" stroke="#1a4a2a" stroke-width="0.5"/>
<rect x="226.3" y="259.6" width="17.5" height="8.4" rx="3.5" fill="#1e8fd0"/>
<polygon points="245.20,261.40 245.83,262.93 247.48,263.06 246.23,264.13 246.61,265.74 245.20,264.88 243.79,265.74 244.17,264.13 242.92,263.06 244.57,262.93" fill="#d8202a" stroke="#6a1010" stroke-width="0.5"/>
<text x="251.90" y="267.20" font-size="8.6" text-anchor="start" font-weight="bold" fill="#e4202c" textLength="13.5" lengthAdjust="spacingAndGlyphs">Cy5</text>
<text x="232.80" y="277.20" font-size="8.8" text-anchor="start" font-weight="normal" fill="#2a8fd2" stroke="#2a8fd2" stroke-width="0.18" textLength="16.1" lengthAdjust="spacingAndGlyphs">PKR</text>
<line x1="218.50" y1="240.00" x2="218.50" y2="275.50" stroke="#111" stroke-width="1.7" stroke-dasharray="1.7,2.3"/>
<polygon points="216.20,238.30 220.80,238.30 218.50,232.40" fill="#111" stroke="none" stroke-width="1"/>
<polygon points="216.20,276.30 220.80,276.30 218.50,282.00" fill="#111" stroke="none" stroke-width="1"/>
<path d="M218.0,251.5 Q215.2,255.5 218.0,259.5" fill="none" stroke="#1a6a9c" stroke-width="0.8"/>
<ellipse cx="220.4" cy="249.6" rx="4.0" ry="2.7" fill="#1a6a9c" transform="rotate(-45 220.4 249.6)"/>
<ellipse cx="220.4" cy="261.0" rx="4.0" ry="2.7" fill="#1a6a9c" transform="rotate(45 220.4 261.0)"/>
<text x="213.20" y="255.90" font-size="4.7" text-anchor="middle" font-weight="normal" fill="#151515" stroke="#151515" stroke-width="0.18" transform="rotate(-90 213.2 255.9)" textLength="35.5" lengthAdjust="spacingAndGlyphs">dsRNA scanning</text>
<text x="248.60" y="305.90" font-size="8.2" text-anchor="middle" font-weight="normal" fill="#7a7a7a" stroke="#7a7a7a" stroke-width="0.18" textLength="24.0" lengthAdjust="spacingAndGlyphs">dsRNA</text>
<text x="248.60" y="315.00" font-size="8.2" text-anchor="middle" font-weight="normal" fill="#7a7a7a" stroke="#7a7a7a" stroke-width="0.18" textLength="28.2" lengthAdjust="spacingAndGlyphs">(112 bp)</text>
<path d="M221.0,325.2 L223.2,323.4 L226.6,323.4 L228.8,325.2 L228.8,331.6 L226.6,333.4 L223.2,333.4 L221.0,331.6 Z" fill="#fff" stroke="#222" stroke-width="0.8"/>
<circle cx="224.9" cy="326.3" r="1.8" fill="#fff" stroke="#222" stroke-width="0.7"/>
<circle cx="224.9" cy="330.8" r="1.8" fill="#fff" stroke="#222" stroke-width="0.7"/>
<text x="234.20" y="332.40" font-size="8.6" text-anchor="start" font-weight="normal" fill="#333" stroke="#333" stroke-width="0.18" textLength="18.6" lengthAdjust="spacingAndGlyphs">Biotin</text>
<rect x="203.80" y="334.30" width="45.70" height="3.90" fill="#fff" stroke="#222" stroke-width="1.0"/>
<text x="300.80" y="203.00" font-size="7.7" text-anchor="start" font-weight="bold" fill="#1a9a4e">Cy3 (donor)</text>
<text x="300.80" y="212.90" font-size="7.7" text-anchor="start" font-weight="bold" fill="#e4202c">Cy5 (acceptor)</text>
<rect x="301.50" y="230.50" width="370.00" height="42.30" fill="none" stroke="#2a2a2a" stroke-width="1.1"/>
<rect x="301.50" y="277.30" width="370.00" height="42.20" fill="none" stroke="#2a2a2a" stroke-width="1.1"/>
<line x1="297.50" y1="272.80" x2="301.50" y2="272.80" stroke="#222" stroke-width="1.0"/>
<text x="296.90" y="275.10" font-size="6.4" text-anchor="end" font-weight="normal" fill="#151515" stroke="#151515" stroke-width="0.18">0</text>
<line x1="297.50" y1="262.23" x2="301.50" y2="262.23" stroke="#222" stroke-width="1.0"/>
<text x="296.90" y="264.53" font-size="6.4" text-anchor="end" font-weight="normal" fill="#151515" stroke="#151515" stroke-width="0.18" textLength="11.1" lengthAdjust="spacingAndGlyphs">200</text>
<line x1="297.50" y1="251.65" x2="301.50" y2="251.65" stroke="#222" stroke-width="1.0"/>
<text x="296.90" y="253.95" font-size="6.4" text-anchor="end" font-weight="normal" fill="#151515" stroke="#151515" stroke-width="0.18" textLength="11.1" lengthAdjust="spacingAndGlyphs">400</text>
<line x1="297.50" y1="241.07" x2="301.50" y2="241.07" stroke="#222" stroke-width="1.0"/>
<text x="296.90" y="243.38" font-size="6.4" text-anchor="end" font-weight="normal" fill="#151515" stroke="#151515" stroke-width="0.18" textLength="11.1" lengthAdjust="spacingAndGlyphs">600</text>
<line x1="297.50" y1="230.50" x2="301.50" y2="230.50" stroke="#222" stroke-width="1.0"/>
<text x="296.90" y="232.80" font-size="6.4" text-anchor="end" font-weight="normal" fill="#151515" stroke="#151515" stroke-width="0.18" textLength="11.1" lengthAdjust="spacingAndGlyphs">800</text>
<line x1="297.50" y1="319.50" x2="301.50" y2="319.50" stroke="#222" stroke-width="1.0"/>
<text x="296.90" y="321.80" font-size="6.4" text-anchor="end" font-weight="normal" fill="#151515" stroke="#151515" stroke-width="0.18" textLength="10.0" lengthAdjust="spacingAndGlyphs">0.0</text>
<line x1="297.50" y1="311.06" x2="301.50" y2="311.06" stroke="#222" stroke-width="1.0"/>
<text x="296.90" y="313.36" font-size="6.4" text-anchor="end" font-weight="normal" fill="#151515" stroke="#151515" stroke-width="0.18" textLength="10.0" lengthAdjust="spacingAndGlyphs">0.2</text>
<line x1="297.50" y1="302.62" x2="301.50" y2="302.62" stroke="#222" stroke-width="1.0"/>
<text x="296.90" y="304.92" font-size="6.4" text-anchor="end" font-weight="normal" fill="#151515" stroke="#151515" stroke-width="0.18" textLength="10.0" lengthAdjust="spacingAndGlyphs">0.4</text>
<line x1="297.50" y1="294.18" x2="301.50" y2="294.18" stroke="#222" stroke-width="1.0"/>
<text x="296.90" y="296.48" font-size="6.4" text-anchor="end" font-weight="normal" fill="#151515" stroke="#151515" stroke-width="0.18" textLength="10.0" lengthAdjust="spacingAndGlyphs">0.6</text>
<line x1="297.50" y1="285.74" x2="301.50" y2="285.74" stroke="#222" stroke-width="1.0"/>
<text x="296.90" y="288.04" font-size="6.4" text-anchor="end" font-weight="normal" fill="#151515" stroke="#151515" stroke-width="0.18" textLength="10.0" lengthAdjust="spacingAndGlyphs">0.8</text>
<line x1="297.50" y1="277.30" x2="301.50" y2="277.30" stroke="#222" stroke-width="1.0"/>
<text x="296.90" y="279.60" font-size="6.4" text-anchor="end" font-weight="normal" fill="#151515" stroke="#151515" stroke-width="0.18" textLength="10.0" lengthAdjust="spacingAndGlyphs">1.0</text>
<line x1="301.50" y1="319.50" x2="301.50" y2="322.50" stroke="#222" stroke-width="1.0"/>
<line x1="409.20" y1="319.50" x2="409.20" y2="322.50" stroke="#222" stroke-width="1.0"/>
<line x1="518.00" y1="319.50" x2="518.00" y2="322.50" stroke="#222" stroke-width="1.0"/>
<line x1="626.70" y1="319.50" x2="626.70" y2="322.50" stroke="#222" stroke-width="1.0"/>
<text x="275.10" y="251.00" font-size="7.5" text-anchor="middle" font-weight="normal" fill="#151515" stroke="#151515" stroke-width="0.18" transform="rotate(-90 275.1 251.0)" textLength="28.2" lengthAdjust="spacingAndGlyphs">Intensity</text>
<text x="282.40" y="252.00" font-size="7.5" text-anchor="middle" font-weight="normal" fill="#151515" stroke="#151515" stroke-width="0.18" transform="rotate(-90 282.4 252.0)" textLength="32.3" lengthAdjust="spacingAndGlyphs">(arb.units)</text>
<text x="282.90" y="297.40" font-size="8.0" text-anchor="middle" font-weight="normal" fill="#151515" stroke="#151515" stroke-width="0.18" transform="rotate(-90 282.9 297.4)" textLength="15.0" lengthAdjust="spacingAndGlyphs">FRET</text>
<polyline points="302.10,251.43 302.36,250.53 302.63,252.02 302.89,253.01 303.15,251.59 303.42,253.13 303.68,250.64 303.95,247.81 304.21,251.91 304.47,252.26 304.74,249.76 305.00,250.12 305.26,250.66 305.53,253.21 305.79,250.77 306.05,249.38 306.32,254.41 306.58,251.80 306.85,254.60 307.11,253.40 307.37,254.96 307.64,251.12 307.90,253.55 308.16,250.08 308.43,250.26 308.69,250.73 308.95,256.39 309.22,252.00 309.48,250.94 309.74,249.98 310.01,254.08 310.27,251.51 310.54,253.20 310.80,253.09 311.06,248.54 311.33,253.19 311.59,251.17 311.85,248.97 312.12,252.26 312.38,251.14 312.64,250.46 312.91,250.63 313.17,253.30 313.44,250.17 313.70,247.38 313.96,254.05 314.23,248.24 314.49,249.80 314.75,251.52 315.02,245.19 315.28,248.07 315.54,252.58 315.81,249.92 316.07,248.63 316.34,250.87 316.60,248.91 316.86,250.20 317.13,249.07 317.39,247.44 317.65,252.24 317.92,250.26 318.18,252.00 318.44,250.34 318.71,253.02 318.97,251.13 319.24,250.18 319.50,247.39 319.76,247.09 320.03,252.72 320.29,251.42 320.55,248.16 320.82,254.13 321.08,249.88 321.34,248.71 321.61,245.67 321.87,246.57 322.13,249.16 322.40,249.17 322.66,248.86 322.93,244.80 323.19,249.36 323.45,249.01 323.72,247.60 323.98,248.73 324.24,249.08 324.51,250.65 324.77,247.92 325.03,248.76 325.30,245.28 325.56,247.00 325.83,248.63 326.09,246.93 326.35,249.57 326.62,246.02 326.88,247.75 327.14,246.54 327.41,250.64 327.67,246.67 327.93,251.57 328.20,252.04 328.46,248.20 328.73,249.32 328.99,246.88 329.25,242.17 329.52,249.75 329.78,249.39 330.04,247.83 330.31,246.82 330.57,248.69 330.83,249.10 331.10,247.00 331.36,247.51 331.63,251.47 331.89,249.83 332.15,249.71 332.42,252.70 332.68,249.60 332.94,251.98 333.21,247.77 333.47,249.66 333.73,249.50 334.00,251.03 334.26,249.66 334.52,254.06 334.79,251.94 335.05,248.86 335.32,254.64 335.58,247.68 335.84,253.64 336.11,247.79 336.37,251.65 336.63,248.06 336.90,248.86 337.16,252.89 337.42,247.19 337.69,246.48 337.95,250.04 338.22,250.47 338.48,250.21 338.74,252.50 339.01,247.44 339.27,251.62 339.53,251.02 339.80,252.55 340.06,252.17 340.32,253.64 340.59,247.41 340.85,250.87 341.12,248.09 341.38,250.06 341.64,251.33 341.91,250.67 342.17,251.05 342.43,249.15 342.70,250.21 342.96,249.81 343.22,252.26 343.49,251.62 343.75,245.71 344.02,250.97 344.28,252.22 344.54,249.33 344.81,247.21 345.07,253.94 345.33,250.85 345.60,252.04 345.86,254.78 346.12,249.40 346.39,251.21 346.65,250.74 346.91,252.77 347.18,249.95 347.44,252.43 347.71,251.58 347.97,253.67 348.23,253.78 348.50,247.78 348.76,252.62 349.02,250.90 349.29,251.72 349.55,252.89 349.81,252.88 350.08,250.14 350.34,252.41 350.61,252.14 350.87,251.78 351.13,249.26 351.40,250.68 351.66,251.35 351.92,253.65 352.19,255.62 352.45,250.25 352.71,250.37 352.98,253.20 353.24,251.40 353.51,250.68 353.77,250.70 354.03,250.14 354.30,253.10 354.56,248.55 354.82,254.86 355.09,249.83 355.35,250.77 355.61,249.98 355.88,247.25 356.14,248.02 356.41,254.37 356.67,255.50 356.93,249.66 357.20,254.05 357.46,251.55 357.72,249.07 357.99,255.02 358.25,255.76 358.51,250.13 358.78,250.56 359.04,251.72 359.30,250.65 359.57,252.59 359.83,253.96 360.10,251.02 360.36,252.56 360.62,254.04 360.89,249.18 361.15,250.37 361.41,249.35 361.68,252.60 361.94,251.93 362.20,252.92 362.47,252.93 362.73,250.44 363.00,252.67 363.26,250.11 363.52,250.13 363.79,246.27 364.05,254.17 364.31,248.91 364.58,250.85 364.84,250.73 365.10,254.06 365.37,251.64 365.63,248.92 365.90,251.02 366.16,250.78 366.42,252.14 366.69,248.76 366.95,251.49 367.21,256.43 367.48,253.30 367.74,256.30 368.00,259.59 368.27,253.77 368.53,249.56 368.80,253.04 369.06,256.19 369.32,255.96 369.59,250.87 369.85,253.00 370.11,253.13 370.38,253.51 370.64,253.04 370.90,251.60 371.17,252.03 371.43,253.11 371.69,255.76 371.96,252.19 372.22,255.20 372.49,250.76 372.75,255.89 373.01,253.24 373.28,252.76 373.54,255.73 373.80,248.30 374.07,248.51 374.33,253.00 374.59,250.08 374.86,250.76 375.12,257.99 375.39,251.66 375.65,252.36 375.91,252.02 376.18,254.69 376.44,252.36 376.70,251.84 376.97,248.53 377.23,250.87 377.49,251.59 377.76,247.91 378.02,252.50 378.29,252.19 378.55,255.69 378.81,247.56 379.08,249.02 379.34,248.74 379.60,249.41 379.87,250.39 380.13,250.19 380.39,251.23 380.66,251.40 380.92,250.73 381.19,246.76 381.45,248.97 381.71,250.62 381.98,251.50 382.24,252.06 382.50,246.53 382.77,248.61 383.03,249.83 383.29,251.31 383.56,252.93 383.82,250.49 384.08,248.17 384.35,251.13 384.61,251.15 384.88,251.15 385.14,250.92 385.40,255.18 385.67,251.85 385.93,253.24 386.19,248.71 386.46,252.69 386.72,249.43 386.98,247.20 387.25,251.20 387.51,251.83 387.78,249.80 388.04,250.16 388.30,252.33 388.57,248.89 388.83,245.44 389.09,250.08 389.36,250.06 389.62,252.10 389.88,249.16 390.15,252.60 390.41,252.35 390.68,246.73 390.94,251.75 391.20,246.82 391.47,245.96 391.73,249.26 391.99,248.24 392.26,244.77 392.52,249.52 392.78,250.35 393.05,252.53 393.31,249.43 393.58,246.16 393.84,247.45 394.10,251.90 394.37,252.05 394.63,251.44 394.89,250.08 395.16,251.32 395.42,250.53 395.68,250.15 395.95,251.19 396.21,251.21 396.47,250.37 396.74,251.70 397.00,250.55 397.27,247.12 397.53,250.26 397.79,252.14 398.06,255.94 398.32,251.04 398.58,256.50 398.85,255.47 399.11,249.84 399.37,250.13 399.64,252.12 399.90,255.92 400.17,252.38 400.43,253.17 400.69,250.03 400.96,245.96 401.22,250.67 401.48,253.18 401.75,253.80 402.01,250.84 402.27,251.36 402.54,253.66 402.80,251.02 403.07,253.95 403.33,248.35 403.59,248.39 403.86,248.64 404.12,252.03 404.38,249.31 404.65,251.20 404.91,251.55 405.17,251.76 405.44,253.82 405.70,253.98 405.97,248.60 406.23,250.77 406.49,250.12 406.76,247.75 407.02,254.29 407.28,251.98 407.55,249.80 407.81,249.65 408.07,251.36 408.34,247.98 408.60,250.22 408.86,253.17 409.13,252.36 409.39,248.07 409.66,249.18 409.92,254.80 410.18,247.25 410.45,248.79 410.71,247.06 410.97,250.93 411.24,250.43 411.50,252.56 411.76,258.11 412.03,256.75 412.29,258.88 412.56,261.27 412.82,258.90 413.08,258.38 413.35,256.89 413.61,253.49 413.87,261.85 414.14,256.56 414.40,263.37 414.66,259.98 414.93,258.41 415.19,263.49 415.46,262.34 415.72,256.49 415.98,256.71 416.25,257.27 416.51,259.27 416.77,250.67 417.04,257.41 417.30,259.44 417.56,252.06 417.83,255.15 418.09,258.02 418.36,253.47 418.62,256.48 418.88,255.07 419.15,256.25 419.41,259.93 419.67,254.11 419.94,256.47 420.20,259.87 420.46,259.16 420.73,254.16 420.99,258.01 421.25,256.80 421.52,255.03 421.78,256.56 422.05,261.38 422.31,255.08 422.57,254.21 422.84,254.42 423.10,252.24 423.36,255.88 423.63,254.68 423.89,252.32 424.15,257.78 424.42,251.89 424.68,251.89 424.95,254.66 425.21,251.59 425.47,254.46 425.74,259.50 426.00,253.63 426.26,255.99 426.53,255.74 426.79,256.49 427.05,252.98 427.32,255.33 427.58,258.96 427.85,255.52 428.11,254.82 428.37,259.05 428.64,258.20 428.90,258.05 429.16,258.70 429.43,255.92 429.69,253.98 429.95,251.43 430.22,253.46 430.48,253.97 430.75,253.61 431.01,253.05 431.27,258.03 431.54,254.92 431.80,256.00 432.06,257.31 432.33,258.26 432.59,258.41 432.85,257.72 433.12,260.53 433.38,255.42 433.64,257.00 433.91,256.63 434.17,255.95 434.44,254.83 434.70,258.66 434.96,257.25 435.23,261.62 435.49,263.39 435.75,262.58 436.02,252.47 436.28,262.25 436.54,255.56 436.81,252.64 437.07,258.27 437.34,252.20 437.60,251.57 437.86,254.19 438.13,250.04 438.39,255.13 438.65,259.06 438.92,255.41 439.18,258.22 439.44,260.72 439.71,260.64 439.97,250.20 440.24,258.50 440.50,256.99 440.76,258.85 441.03,256.52 441.29,257.61 441.55,258.10 441.82,260.43 442.08,261.02 442.34,259.07 442.61,256.05 442.87,250.86 443.14,253.84 443.40,251.60 443.66,252.93 443.93,252.11 444.19,256.18 444.45,251.15 444.72,250.78 444.98,251.66 445.24,252.13 445.51,251.98 445.77,253.17 446.03,251.53 446.30,251.66 446.56,249.87 446.83,252.79 447.09,249.59 447.35,250.07 447.62,250.65 447.88,251.39 448.14,248.52 448.41,253.37 448.67,248.93 448.93,249.62 449.20,249.48 449.46,249.67 449.73,252.48 449.99,251.42 450.25,249.12 450.52,249.93 450.78,250.89 451.04,254.60 451.31,249.71 451.57,248.21 451.83,248.75 452.10,250.40 452.36,254.45 452.63,248.70 452.89,251.02 453.15,256.61 453.42,249.78 453.68,254.07 453.94,253.95 454.21,252.31 454.47,247.60 454.73,251.39 455.00,250.07 455.26,247.17 455.53,247.46 455.79,250.88 456.05,251.14 456.32,253.41 456.58,252.30 456.84,250.08 457.11,250.41 457.37,250.89 457.63,249.10 457.90,252.79 458.16,250.92 458.42,249.34 458.69,250.45 458.95,249.27 459.22,250.57 459.48,252.53 459.74,250.84 460.01,253.74 460.27,255.15 460.53,249.52 460.80,251.03 461.06,250.30 461.32,254.78 461.59,252.03 461.85,252.61 462.12,253.06 462.38,256.14 462.64,251.61 462.91,248.55 463.17,249.28 463.43,251.40 463.70,250.07 463.96,248.11 464.22,256.06 464.49,249.72 464.75,248.07 465.02,248.13 465.28,245.86 465.54,247.10 465.81,248.88 466.07,248.99 466.33,247.91 466.60,251.18 466.86,250.26 467.12,248.01 467.39,245.67 467.65,250.82 467.92,250.63 468.18,250.09 468.44,247.59 468.71,251.03 468.97,247.45 469.23,253.05 469.50,251.56 469.76,251.11 470.02,248.62 470.29,247.88 470.55,253.74 470.81,252.34 471.08,250.04 471.34,252.19 471.61,253.73 471.87,247.96 472.13,249.09 472.40,248.75 472.66,251.01 472.92,247.03 473.19,250.00 473.45,247.11 473.71,252.18 473.98,251.80 474.24,249.58 474.51,252.20 474.77,249.29 475.03,250.28 475.30,253.02 475.56,250.59 475.82,251.53 476.09,248.21 476.35,251.44 476.61,251.10 476.88,247.34 477.14,244.73 477.41,245.34 477.67,249.76 477.93,249.25 478.20,246.14 478.46,249.78 478.72,251.70 478.99,248.95 479.25,248.00 479.51,250.87 479.78,252.73 480.04,252.02 480.31,247.39 480.57,250.31 480.83,249.12 481.10,248.22 481.36,247.31 481.62,249.26 481.89,247.82 482.15,251.23 482.41,249.80 482.68,251.36 482.94,246.33 483.20,248.95 483.47,251.53 483.73,250.51 484.00,250.58 484.26,248.00 484.52,253.27 484.79,251.93 485.05,249.96 485.31,243.21 485.58,246.79 485.84,249.51 486.10,247.29 486.37,244.34 486.63,249.49 486.90,250.27 487.16,246.54 487.42,248.18 487.69,247.74 487.95,250.60 488.21,245.09 488.48,245.68 488.74,248.18 489.00,247.92 489.27,254.21 489.53,248.14 489.80,250.14 490.06,248.56 490.32,247.74 490.59,249.80 490.85,252.93 491.11,248.12 491.38,250.65 491.64,249.54 491.90,250.43 492.17,249.62 492.43,253.95 492.69,245.95 492.96,248.40 493.22,246.68 493.49,244.95 493.75,249.77 494.01,253.39 494.28,251.56 494.54,251.74 494.80,250.25 495.07,249.42 495.33,254.30 495.59,249.01 495.86,253.48 496.12,249.45 496.39,250.52 496.65,251.27 496.91,250.79 497.18,252.22 497.44,252.39 497.70,254.90 497.97,250.92 498.23,246.57 498.49,246.14 498.76,247.85 499.02,249.46 499.29,252.99 499.55,248.14 499.81,251.52 500.08,251.63 500.34,252.38 500.60,251.58 500.87,252.63 501.13,252.23 501.39,254.71 501.66,253.38 501.92,247.14 502.19,253.14 502.45,253.39 502.71,252.10 502.98,251.91 503.24,256.01 503.50,253.23 503.77,250.44 504.03,251.70 504.29,251.87 504.56,248.84 504.82,253.80 505.08,252.35 505.35,253.93 505.61,248.84 505.88,257.08 506.14,253.88 506.40,253.27 506.67,250.50 506.93,250.61 507.19,248.57 507.46,255.18 507.72,249.65 507.98,251.77 508.25,253.05 508.51,250.32 508.78,253.41 509.04,255.85 509.30,251.38 509.57,254.00 509.83,251.73 510.09,249.65 510.36,249.75 510.62,246.62 510.88,250.81 511.15,253.95 511.41,252.77 511.68,253.05 511.94,253.66 512.20,249.80 512.47,252.61 512.73,255.16 512.99,248.95 513.26,250.77 513.52,249.57 513.78,250.01 514.05,248.88 514.31,250.01 514.58,247.54 514.84,249.55 515.10,249.22 515.37,249.30 515.63,253.32 515.89,249.91 516.16,250.49 516.42,248.92 516.68,252.49 516.95,245.30 517.21,248.94 517.47,251.81 517.74,253.21 518.00,250.06 518.27,249.67 518.53,251.31 518.79,249.22 519.06,251.51 519.32,249.35 519.58,252.23 519.85,250.45 520.11,247.70 520.37,243.74 520.64,252.01 520.90,250.65 521.17,251.66 521.43,247.93 521.69,252.59 521.96,250.66 522.22,249.64 522.48,252.06 522.75,251.81 523.01,250.60 523.27,254.54 523.54,252.79 523.80,250.25 524.07,248.76 524.33,249.80 524.59,254.02 524.86,251.11 525.12,247.90 525.38,248.26 525.65,249.69 525.91,251.72 526.17,248.54 526.44,251.70 526.70,253.06 526.97,252.41 527.23,247.41 527.49,250.42 527.76,248.00 528.02,252.26 528.28,248.64 528.55,251.88 528.81,250.98 529.07,244.63 529.34,248.58 529.60,251.01 529.86,249.91 530.13,249.38 530.39,247.77 530.66,251.99 530.92,255.09 531.18,251.56 531.45,250.85 531.71,250.79 531.97,248.47 532.24,250.59 532.50,249.82 532.76,254.16 533.03,249.17 533.29,246.33 533.56,249.43 533.82,250.87 534.08,251.12 534.35,247.37 534.61,253.82 534.87,252.07 535.14,250.38 535.40,249.65 535.66,252.36 535.93,250.80 536.19,252.39 536.46,251.17 536.72,251.60 536.98,253.71 537.25,251.09 537.51,249.04 537.77,253.39 538.04,251.53 538.30,249.51 538.56,253.38 538.83,250.44 539.09,253.32 539.36,248.00 539.62,245.49 539.88,245.58 540.15,250.93 540.41,248.56 540.67,249.88 540.94,250.12 541.20,246.86 541.46,253.49 541.73,247.93 541.99,250.55 542.25,247.28 542.52,249.70 542.78,251.78 543.05,249.48 543.31,248.29 543.57,249.92 543.84,248.38 544.10,250.49 544.36,254.32 544.63,247.40 544.89,248.42 545.15,249.70 545.42,249.74 545.68,247.53 545.95,250.89 546.21,251.54 546.47,250.25 546.74,246.93 547.00,252.62 547.26,246.91 547.53,251.41 547.79,252.79 548.05,246.87 548.32,249.63 548.58,252.60 548.85,250.58 549.11,247.50 549.37,247.21 549.64,251.17 549.90,249.37 550.16,248.48 550.43,252.16 550.69,249.75 550.95,250.70 551.22,251.90 551.48,251.55 551.75,250.08 552.01,250.09 552.27,251.60 552.54,251.17 552.80,247.44 553.06,249.55 553.33,247.75 553.59,246.94 553.85,248.41 554.12,244.63 554.38,252.69 554.64,249.23 554.91,251.84 555.17,246.77 555.44,246.70 555.70,254.95 555.96,252.67 556.23,248.98 556.49,248.89 556.75,249.06 557.02,251.12 557.28,250.03 557.54,249.73 557.81,251.22 558.07,248.65 558.34,256.24 558.60,249.79 558.86,253.85 559.13,249.40 559.39,252.08 559.65,253.55 559.92,250.10 560.18,253.16 560.44,253.06 560.71,254.61 560.97,251.44 561.24,250.36 561.50,249.32 561.76,251.71 562.03,248.97 562.29,251.43 562.55,251.88 562.82,250.25 563.08,249.28 563.34,252.48 563.61,252.22 563.87,252.24 564.14,251.33 564.40,253.37 564.66,248.83 564.93,251.79 565.19,249.38 565.45,252.08 565.72,248.86 565.98,248.35 566.24,250.40 566.51,244.63 566.77,248.51 567.03,245.10 567.30,247.02 567.56,250.80 567.83,250.54 568.09,248.87 568.35,250.14 568.62,250.07 568.88,250.64 569.14,254.53 569.41,250.78 569.67,255.21 569.93,249.02 570.20,251.36 570.46,251.45 570.73,250.47 570.99,249.19 571.25,253.14 571.52,253.31 571.78,251.57 572.04,253.84 572.31,251.72 572.57,245.87 572.83,252.03 573.10,248.03 573.36,253.05 573.63,249.25 573.89,250.57 574.15,249.72 574.42,248.15 574.68,245.89 574.94,250.04 575.21,250.45 575.47,253.05 575.73,249.76 576.00,251.71 576.26,249.53 576.53,251.77 576.79,247.59 577.05,256.17 577.32,252.37 577.58,249.47 577.84,252.29 578.11,253.14 578.37,251.51 578.63,253.87 578.90,249.81 579.16,244.24 579.42,247.18 579.69,251.94 579.95,251.50 580.22,250.34 580.48,247.08 580.74,252.04 581.01,251.84 581.27,247.92 581.53,248.39 581.80,251.39 582.06,253.37 582.32,254.15 582.59,251.94 582.85,255.69 583.12,248.50 583.38,251.64 583.64,248.67 583.91,245.37 584.17,247.22 584.43,252.72 584.70,248.07 584.96,247.55 585.22,252.03 585.49,252.28 585.75,249.90 586.02,253.74 586.28,246.26 586.54,255.56 586.81,252.08 587.07,250.05 587.33,249.99 587.60,249.00 587.86,248.57 588.12,250.02 588.39,246.83 588.65,254.58 588.92,249.95 589.18,251.33 589.44,249.61 589.71,249.70 589.97,252.35 590.23,252.18 590.50,249.12 590.76,250.49 591.02,252.98 591.29,246.24 591.55,245.65 591.81,254.54 592.08,250.12 592.34,244.83 592.61,248.88 592.87,250.55 593.13,251.82 593.40,252.09 593.66,251.35 593.92,252.06 594.19,249.66 594.45,252.10 594.71,251.92 594.98,253.56 595.24,250.84 595.51,252.88 595.77,250.64 596.03,247.74 596.30,249.74 596.56,248.84 596.82,249.46 597.09,250.10 597.35,250.96 597.61,251.60 597.88,249.17 598.14,253.70 598.41,247.87 598.67,250.51 598.93,252.51 599.20,251.51 599.46,251.61 599.72,249.98 599.99,251.79 600.25,247.29 600.51,251.37 600.78,254.50 601.04,250.88 601.31,253.51 601.57,248.91 601.83,246.42 602.10,248.16 602.36,252.50 602.62,251.10 602.89,245.15 603.15,248.16 603.41,248.61 603.68,245.99 603.94,242.77 604.20,245.69 604.47,248.45 604.73,247.49 605.00,246.83 605.26,249.80 605.52,250.90 605.79,248.33 606.05,250.66 606.31,248.69 606.58,248.54 606.84,243.50 607.10,251.36 607.37,249.27 607.63,249.59 607.90,248.18 608.16,246.50 608.42,249.87 608.69,250.84 608.95,253.10 609.21,251.70 609.48,248.09 609.74,249.66 610.00,252.34 610.27,250.73 610.53,249.75 610.80,248.63 611.06,251.76 611.32,250.93 611.59,254.33 611.85,252.87 612.11,246.58 612.38,255.36 612.64,250.52 612.90,249.62 613.17,251.12 613.43,252.27 613.70,250.80 613.96,250.91 614.22,251.35 614.49,255.72 614.75,251.47 615.01,252.99 615.28,252.28 615.54,250.78 615.80,249.85 616.07,249.27 616.33,252.39 616.59,248.53 616.86,247.92 617.12,248.09 617.39,247.05 617.65,250.57 617.91,251.26 618.18,248.15 618.44,253.23 618.70,249.54 618.97,251.28 619.23,250.33 619.49,253.40 619.76,251.22 620.02,249.54 620.29,247.57 620.55,246.84 620.81,249.24 621.08,249.61 621.34,251.13 621.60,248.11 621.87,249.83 622.13,247.58 622.39,244.94 622.66,248.76 622.92,252.12 623.19,250.41 623.45,251.49 623.71,250.79 623.98,245.19 624.24,247.53 624.50,251.25 624.77,246.02 625.03,244.63 625.29,248.31 625.56,248.92 625.82,248.21 626.09,246.85 626.35,245.64 626.61,244.65 626.88,244.82 627.14,245.18 627.40,244.94 627.67,246.25 627.93,250.91 628.19,247.34 628.46,245.89 628.72,248.18 628.98,245.35 629.25,248.64 629.51,250.17 629.78,245.21 630.04,247.19 630.30,248.50 630.57,246.85 630.83,246.54 631.09,248.75 631.36,255.46 631.62,251.40 631.88,250.73 632.15,251.79 632.41,248.98 632.68,246.83 632.94,251.13 633.20,252.31 633.47,244.79 633.73,250.80 633.99,252.93 634.26,249.58 634.52,249.28 634.78,252.15 635.05,248.95 635.31,251.81 635.58,252.89 635.84,250.32 636.10,249.32 636.37,252.65 636.63,250.19 636.89,251.43 637.16,244.33 637.42,252.59 637.68,247.46 637.95,250.86 638.21,250.81 638.48,249.64 638.74,249.27 639.00,248.77 639.27,251.03 639.53,253.04 639.79,252.57 640.06,250.27 640.32,249.67 640.58,247.80 640.85,250.01 641.11,248.26 641.37,246.81 641.64,250.04 641.90,253.66 642.17,252.85 642.43,253.73 642.69,247.07 642.96,253.00 643.22,248.55 643.48,249.68 643.75,247.55 644.01,249.65 644.27,252.28 644.54,251.99 644.80,251.46 645.07,251.01 645.33,252.24 645.59,251.14 645.86,247.33 646.12,255.05 646.38,250.97 646.65,253.70 646.91,251.30 647.17,249.73 647.44,251.59 647.70,249.64 647.97,254.91 648.23,248.95 648.49,253.01 648.76,250.95 649.02,251.86 649.28,258.60 649.55,254.24 649.81,251.76 650.07,248.93 650.34,252.21 650.60,252.06 650.87,256.15 651.13,249.50 651.39,248.56 651.66,252.81 651.92,253.70 652.18,256.60 652.45,250.73 652.71,246.73 652.97,251.05 653.24,249.32 653.50,250.40 653.76,253.85 654.03,248.17 654.29,254.06 654.56,251.51 654.82,250.32 655.08,249.09 655.35,250.11 655.61,250.10 655.87,252.78 656.14,254.24 656.40,251.30 656.66,252.83 656.93,253.79 657.19,253.26 657.46,251.57 657.72,254.49 657.98,253.29 658.25,253.73 658.51,249.79 658.77,249.26 659.04,245.40 659.30,253.45 659.56,251.58 659.83,247.48 660.09,250.08 660.36,250.42 660.62,245.28 660.88,249.64 661.15,251.34 661.41,251.89 661.67,247.93 661.94,247.90 662.20,251.88 662.46,250.93 662.73,247.25 662.99,247.21 663.26,250.14 663.52,247.91 663.78,248.56 664.05,254.52 664.31,250.96 664.57,249.54 664.84,251.89 665.10,255.62 665.36,251.22 665.63,249.11 665.89,247.20 666.15,256.07 666.42,244.62 666.68,253.03 666.95,248.15 667.21,247.84 667.47,248.64 667.74,251.10 668.00,254.09 668.26,250.27" fill="none" stroke="#2aa55a" stroke-width="0.7" stroke-linejoin="round"/>
<polyline points="302.10,264.09 302.36,265.74 302.63,265.28 302.89,263.63 303.15,263.18 303.42,264.02 303.68,263.58 303.95,264.46 304.21,264.42 304.47,264.75 304.74,263.36 305.00,263.82 305.26,264.22 305.53,264.36 305.79,263.64 306.05,263.95 306.32,264.85 306.58,262.80 306.85,263.90 307.11,264.09 307.37,262.89 307.64,263.23 307.90,264.19 308.16,263.64 308.43,264.88 308.69,264.61 308.95,265.88 309.22,263.07 309.48,265.51 309.74,263.46 310.01,264.64 310.27,264.71 310.54,264.11 310.80,263.87 311.06,263.64 311.33,262.66 311.59,263.73 311.85,263.34 312.12,264.56 312.38,263.47 312.64,263.91 312.91,264.38 313.17,263.92 313.44,263.83 313.70,263.57 313.96,263.41 314.23,264.13 314.49,264.27 314.75,263.04 315.02,264.91 315.28,264.12 315.54,262.38 315.81,265.79 316.07,264.12 316.34,262.96 316.60,264.72 316.86,261.40 317.13,265.54 317.39,262.45 317.65,262.40 317.92,262.88 318.18,263.80 318.44,263.38 318.71,264.39 318.97,263.11 319.24,264.71 319.50,264.09 319.76,263.14 320.03,264.72 320.29,264.21 320.55,263.79 320.82,264.96 321.08,262.96 321.34,263.56 321.61,265.06 321.87,263.89 322.13,264.49 322.40,264.37 322.66,263.73 322.93,264.33 323.19,262.97 323.45,264.27 323.72,263.02 323.98,263.89 324.24,263.26 324.51,264.36 324.77,264.27 325.03,264.85 325.30,263.38 325.56,263.15 325.83,262.23 326.09,262.88 326.35,263.79 326.62,264.21 326.88,263.87 327.14,264.27 327.41,263.01 327.67,263.36 327.93,264.65 328.20,264.45 328.46,262.79 328.73,263.62 328.99,264.04 329.25,262.88 329.52,264.11 329.78,263.99 330.04,263.99 330.31,265.10 330.57,262.92 330.83,264.46 331.10,263.97 331.36,264.24 331.63,263.07 331.89,263.76 332.15,263.66 332.42,265.03 332.68,263.74 332.94,264.81 333.21,263.49 333.47,263.50 333.73,263.88 334.00,262.26 334.26,263.43 334.52,263.38 334.79,263.78 335.05,264.08 335.32,263.15 335.58,262.98 335.84,264.94 336.11,263.09 336.37,263.45 336.63,263.14 336.90,263.43 337.16,264.73 337.42,264.56 337.69,262.17 337.95,263.40 338.22,264.80 338.48,263.52 338.74,264.09 339.01,265.33 339.27,265.79 339.53,265.26 339.80,263.83 340.06,263.98 340.32,264.06 340.59,263.67 340.85,263.55 341.12,265.71 341.38,264.29 341.64,264.73 341.91,264.97 342.17,264.43 342.43,263.95 342.70,264.00 342.96,264.92 343.22,264.26 343.49,262.20 343.75,264.63 344.02,265.07 344.28,263.36 344.54,263.16 344.81,263.27 345.07,264.56 345.33,262.76 345.60,264.14 345.86,264.35 346.12,263.92 346.39,263.58 346.65,262.81 346.91,262.92 347.18,263.42 347.44,262.57 347.71,263.30 347.97,262.71 348.23,264.51 348.50,264.70 348.76,262.88 349.02,264.48 349.29,263.68 349.55,263.54 349.81,263.79 350.08,263.77 350.34,262.36 350.61,265.54 350.87,262.77 351.13,261.65 351.40,263.33 351.66,263.43 351.92,262.86 352.19,262.07 352.45,264.44 352.71,263.43 352.98,263.73 353.24,263.21 353.51,263.56 353.77,263.19 354.03,264.11 354.30,263.78 354.56,264.47 354.82,264.57 355.09,264.14 355.35,264.14 355.61,264.90 355.88,262.73 356.14,264.09 356.41,265.18 356.67,263.19 356.93,264.75 357.20,263.79 357.46,264.24 357.72,264.07 357.99,264.24 358.25,264.81 358.51,264.27 358.78,262.64 359.04,266.08 359.30,264.16 359.57,263.82 359.83,264.92 360.10,265.08 360.36,262.26 360.62,264.29 360.89,262.34 361.15,263.54 361.41,263.98 361.68,263.73 361.94,263.65 362.20,263.14 362.47,263.81 362.73,264.00 363.00,263.93 363.26,262.88 363.52,263.32 363.79,264.67 364.05,264.37 364.31,263.57 364.58,264.46 364.84,264.16 365.10,264.58 365.37,263.90 365.63,263.30 365.90,262.85 366.16,263.77 366.42,262.07 366.69,263.81 366.95,261.22 367.21,263.11 367.48,263.38 367.74,264.13 368.00,265.96 368.27,263.78 368.53,263.50 368.80,262.05 369.06,264.69 369.32,262.06 369.59,263.67 369.85,262.92 370.11,265.62 370.38,263.66 370.64,264.16 370.90,263.30 371.17,263.68 371.43,264.65 371.69,263.01 371.96,263.35 372.22,263.41 372.49,263.04 372.75,262.95 373.01,263.79 373.28,264.79 373.54,264.80 373.80,262.76 374.07,263.22 374.33,263.87 374.59,264.36 374.86,263.92 375.12,263.82 375.39,264.14 375.65,264.44 375.91,262.29 376.18,263.81 376.44,264.39 376.70,264.87 376.97,264.56 377.23,263.34 377.49,263.27 377.76,263.91 378.02,263.73 378.29,263.94 378.55,264.55 378.81,262.62 379.08,263.46 379.34,261.87 379.60,264.47 379.87,264.06 380.13,263.22 380.39,264.13 380.66,264.93 380.92,264.51 381.19,263.66 381.45,263.50 381.71,263.92 381.98,262.98 382.24,262.98 382.50,263.43 382.77,263.55 383.03,263.80 383.29,263.18 383.56,262.90 383.82,263.70 384.08,263.51 384.35,264.12 384.61,265.04 384.88,264.60 385.14,263.22 385.40,263.56 385.67,262.74 385.93,263.91 386.19,263.26 386.46,262.91 386.72,263.26 386.98,264.57 387.25,264.25 387.51,263.91 387.78,264.95 388.04,263.77 388.30,259.05 388.57,255.35 388.83,256.41 389.09,260.64 389.36,264.40 389.62,264.30 389.88,264.63 390.15,263.71 390.41,264.02 390.68,262.76 390.94,263.53 391.20,263.62 391.47,264.17 391.73,265.00 391.99,264.04 392.26,264.59 392.52,263.11 392.78,263.94 393.05,262.66 393.31,263.42 393.58,263.32 393.84,263.87 394.10,263.80 394.37,263.42 394.63,263.24 394.89,264.53 395.16,263.57 395.42,261.97 395.68,264.03 395.95,264.15 396.21,264.41 396.47,265.07 396.74,262.92 397.00,263.81 397.27,263.63 397.53,262.51 397.79,261.98 398.06,264.61 398.32,262.93 398.58,263.36 398.85,263.51 399.11,263.53 399.37,263.93 399.64,262.66 399.90,263.39 400.17,263.61 400.43,262.93 400.69,263.18 400.96,263.58 401.22,263.66 401.48,262.51 401.75,263.35 402.01,263.79 402.27,264.48 402.54,264.05 402.80,264.55 403.07,263.79 403.33,263.69 403.59,265.43 403.86,263.91 404.12,263.36 404.38,263.64 404.65,264.59 404.91,262.80 405.17,264.36 405.44,264.84 405.70,264.68 405.97,263.75 406.23,262.93 406.49,262.72 406.76,263.51 407.02,264.60 407.28,264.29 407.55,264.45 407.81,263.75 408.07,264.89 408.34,263.40 408.60,263.07 408.86,263.67 409.13,263.07 409.39,264.30 409.66,264.67 409.92,264.06 410.18,262.56 410.45,262.74 410.71,263.92 410.97,262.60 411.24,263.71 411.50,262.19 411.76,259.05 412.03,260.57 412.29,263.84 412.56,260.33 412.82,266.00 413.08,261.12 413.35,256.02 413.61,259.46 413.87,257.34 414.14,261.33 414.40,263.96 414.66,261.59 414.93,261.37 415.19,257.13 415.46,255.10 415.72,262.27 415.98,261.27 416.25,260.70 416.51,261.24 416.77,263.60 417.04,260.07 417.30,259.35 417.56,259.29 417.83,263.50 418.09,260.61 418.36,264.91 418.62,257.89 418.88,263.00 419.15,261.03 419.41,261.49 419.67,261.84 419.94,263.10 420.20,264.97 420.46,255.72 420.73,259.62 420.99,259.60 421.25,254.75 421.52,260.56 421.78,258.83 422.05,260.24 422.31,257.16 422.57,258.97 422.84,259.46 423.10,260.97 423.36,259.55 423.63,257.21 423.89,265.78 424.15,260.63 424.42,261.39 424.68,261.08 424.95,265.51 425.21,258.36 425.47,262.52 425.74,260.89 426.00,261.62 426.26,264.70 426.53,261.47 426.79,265.16 427.05,262.78 427.32,261.12 427.58,260.30 427.85,260.14 428.11,260.65 428.37,254.64 428.64,259.14 428.90,263.52 429.16,261.91 429.43,262.02 429.69,260.76 429.95,261.88 430.22,262.55 430.48,255.93 430.75,260.17 431.01,261.18 431.27,260.95 431.54,260.86 431.80,256.60 432.06,259.02 432.33,257.32 432.59,268.53 432.85,259.42 433.12,257.48 433.38,255.07 433.64,260.21 433.91,264.82 434.17,258.73 434.44,261.87 434.70,265.02 434.96,261.92 435.23,257.49 435.49,257.10 435.75,258.37 436.02,263.05 436.28,253.63 436.54,263.37 436.81,260.48 437.07,264.10 437.34,256.79 437.60,259.10 437.86,257.93 438.13,260.04 438.39,260.45 438.65,259.81 438.92,265.26 439.18,257.64 439.44,257.86 439.71,261.31 439.97,260.30 440.24,259.48 440.50,256.12 440.76,259.13 441.03,260.15 441.29,261.61 441.55,264.24 441.82,261.84 442.08,260.07 442.34,260.93 442.61,260.06 442.87,258.29 443.14,259.11 443.40,259.53 443.66,263.15 443.93,263.47 444.19,263.08 444.45,264.05 444.72,262.76 444.98,263.87 445.24,263.02 445.51,263.44 445.77,262.68 446.03,263.63 446.30,262.77 446.56,264.28 446.83,263.12 447.09,263.71 447.35,263.49 447.62,263.49 447.88,262.85 448.14,265.28 448.41,263.33 448.67,264.73 448.93,262.69 449.20,265.32 449.46,264.47 449.73,265.15 449.99,262.60 450.25,264.97 450.52,263.92 450.78,264.44 451.04,265.43 451.31,264.28 451.57,263.44 451.83,264.08 452.10,263.22 452.36,264.23 452.63,263.77 452.89,264.03 453.15,263.41 453.42,262.08 453.68,263.31 453.94,263.39 454.21,264.11 454.47,264.35 454.73,262.69 455.00,264.72 455.26,264.47 455.53,263.92 455.79,264.01 456.05,262.01 456.32,265.48 456.58,263.23 456.84,262.90 457.11,264.33 457.37,263.97 457.63,263.15 457.90,262.20 458.16,264.23 458.42,264.70 458.69,262.66 458.95,262.20 459.22,263.66 459.48,265.10 459.74,262.12 460.01,263.50 460.27,262.38 460.53,263.25 460.80,263.52 461.06,263.39 461.32,261.88 461.59,261.91 461.85,264.65 462.12,263.75 462.38,261.63 462.64,263.40 462.91,264.17 463.17,263.09 463.43,263.18 463.70,263.24 463.96,263.64 464.22,263.45 464.49,263.54 464.75,263.06 465.02,263.85 465.28,263.40 465.54,263.30 465.81,262.17 466.07,262.84 466.33,263.24 466.60,262.80 466.86,262.88 467.12,262.32 467.39,262.90 467.65,261.88 467.92,262.12 468.18,263.27 468.44,263.66 468.71,262.59 468.97,262.91 469.23,263.37 469.50,264.47 469.76,264.76 470.02,263.11 470.29,262.76 470.55,262.67 470.81,264.32 471.08,262.50 471.34,263.72 471.61,263.14 471.87,263.13 472.13,264.07 472.40,264.00 472.66,265.27 472.92,264.29 473.19,264.99 473.45,263.24 473.71,263.59 473.98,262.94 474.24,263.37 474.51,264.17 474.77,263.48 475.03,264.05 475.30,263.14 475.56,263.28 475.82,264.37 476.09,263.63 476.35,263.55 476.61,263.89 476.88,262.99 477.14,262.32 477.41,264.02 477.67,264.09 477.93,265.67 478.20,264.03 478.46,264.38 478.72,265.74 478.99,263.65 479.25,263.47 479.51,264.43 479.78,264.17 480.04,264.79 480.31,263.55 480.57,265.27 480.83,264.37 481.10,262.62 481.36,264.17 481.62,263.91 481.89,264.34 482.15,265.14 482.41,264.13 482.68,263.79 482.94,264.99 483.20,263.81 483.47,263.17 483.73,263.31 484.00,265.34 484.26,264.86 484.52,265.32 484.79,263.19 485.05,263.59 485.31,263.46 485.58,264.78 485.84,264.92 486.10,263.94 486.37,263.82 486.63,264.50 486.90,263.73 487.16,263.34 487.42,263.59 487.69,264.63 487.95,265.40 488.21,263.98 488.48,263.53 488.74,263.82 489.00,263.96 489.27,264.22 489.53,263.17 489.80,263.70 490.06,263.68 490.32,264.49 490.59,264.04 490.85,263.29 491.11,264.37 491.38,264.56 491.64,263.74 491.90,262.50 492.17,263.20 492.43,262.23 492.69,263.46 492.96,263.70 493.22,264.58 493.49,263.83 493.75,262.27 494.01,263.11 494.28,262.75 494.54,262.86 494.80,263.41 495.07,263.61 495.33,263.43 495.59,262.99 495.86,263.22 496.12,263.17 496.39,263.51 496.65,264.30 496.91,263.95 497.18,264.48 497.44,262.95 497.70,265.48 497.97,264.03 498.23,262.01 498.49,264.12 498.76,264.72 499.02,263.86 499.29,262.84 499.55,263.96 499.81,263.33 500.08,263.63 500.34,264.03 500.60,261.16 500.87,263.57 501.13,264.17 501.39,264.07 501.66,263.27 501.92,263.20 502.19,263.01 502.45,263.45 502.71,264.73 502.98,263.23 503.24,263.81 503.50,263.75 503.77,264.68 504.03,263.94 504.29,264.02 504.56,263.44 504.82,264.56 505.08,263.29 505.35,263.17 505.61,264.23 505.88,263.78 506.14,263.98 506.40,262.53 506.67,265.18 506.93,263.40 507.19,264.48 507.46,263.48 507.72,262.45 507.98,263.66 508.25,262.97 508.51,263.74 508.78,261.56 509.04,262.42 509.30,262.21 509.57,264.11 509.83,263.98 510.09,262.28 510.36,263.32 510.62,263.43 510.88,262.97 511.15,264.26 511.41,262.62 511.68,263.11 511.94,262.86 512.20,263.84 512.47,262.86 512.73,263.80 512.99,262.46 513.26,262.26 513.52,262.43 513.78,262.87 514.05,262.80 514.31,265.48 514.58,262.73 514.84,263.67 515.10,263.39 515.37,263.74 515.63,264.69 515.89,264.11 516.16,263.16 516.42,262.47 516.68,264.15 516.95,264.41 517.21,262.59 517.47,264.54 517.74,262.11 518.00,263.64 518.27,264.47 518.53,262.96 518.79,262.44 519.06,264.91 519.32,262.45 519.58,263.93 519.85,262.48 520.11,263.97 520.37,264.81 520.64,263.09 520.90,262.78 521.17,261.85 521.43,262.13 521.69,263.02 521.96,263.78 522.22,264.07 522.48,263.83 522.75,264.27 523.01,263.91 523.27,265.68 523.54,263.60 523.80,263.84 524.07,261.86 524.33,263.21 524.59,264.25 524.86,263.49 525.12,264.91 525.38,264.44 525.65,265.45 525.91,262.86 526.17,263.50 526.44,264.93 526.70,263.87 526.97,263.12 527.23,263.27 527.49,263.38 527.76,264.35 528.02,264.16 528.28,263.58 528.55,262.95 528.81,264.37 529.07,264.67 529.34,262.88 529.60,264.62 529.86,263.07 530.13,263.79 530.39,263.42 530.66,262.75 530.92,263.63 531.18,263.65 531.45,264.96 531.71,264.80 531.97,263.77 532.24,263.03 532.50,263.17 532.76,262.40 533.03,263.97 533.29,264.03 533.56,263.30 533.82,264.01 534.08,264.08 534.35,264.87 534.61,263.10 534.87,264.84 535.14,263.51 535.40,264.93 535.66,262.92 535.93,264.58 536.19,263.20 536.46,265.11 536.72,264.31 536.98,262.87 537.25,264.48 537.51,263.75 537.77,264.27 538.04,265.62 538.30,263.52 538.56,263.32 538.83,264.53 539.09,263.27 539.36,264.26 539.62,264.40 539.88,263.60 540.15,264.13 540.41,261.71 540.67,264.67 540.94,262.84 541.20,262.57 541.46,264.88 541.73,264.64 541.99,262.81 542.25,263.64 542.52,262.90 542.78,262.29 543.05,263.58 543.31,264.15 543.57,265.61 543.84,263.26 544.10,264.20 544.36,263.29 544.63,263.29 544.89,264.55 545.15,262.10 545.42,262.57 545.68,262.81 545.95,264.44 546.21,263.79 546.47,263.83 546.74,263.57 547.00,264.09 547.26,262.79 547.53,263.10 547.79,263.08 548.05,263.76 548.32,262.34 548.58,263.26 548.85,265.68 549.11,264.02 549.37,263.59 549.64,262.74 549.90,263.76 550.16,263.61 550.43,263.89 550.69,262.70 550.95,263.55 551.22,263.72 551.48,263.72 551.75,262.78 552.01,263.76 552.27,264.66 552.54,262.85 552.80,263.88 553.06,263.08 553.33,263.03 553.59,262.27 553.85,262.57 554.12,263.74 554.38,263.51 554.64,264.45 554.91,262.15 555.17,263.16 555.44,262.37 555.70,263.84 555.96,265.21 556.23,262.34 556.49,263.56 556.75,263.49 557.02,263.61 557.28,263.25 557.54,263.39 557.81,264.88 558.07,262.74 558.34,264.10 558.60,264.17 558.86,262.46 559.13,263.12 559.39,264.08 559.65,265.38 559.92,263.77 560.18,263.49 560.44,264.05 560.71,265.09 560.97,264.74 561.24,265.15 561.50,264.02 561.76,263.56 562.03,263.44 562.29,264.82 562.55,263.91 562.82,263.68 563.08,264.46 563.34,264.16 563.61,262.40 563.87,263.94 564.14,263.44 564.40,264.35 564.66,263.96 564.93,265.22 565.19,263.83 565.45,262.83 565.72,262.11 565.98,262.78 566.24,263.15 566.51,263.66 566.77,264.13 567.03,263.68 567.30,263.07 567.56,264.17 567.83,262.74 568.09,264.17 568.35,264.96 568.62,264.33 568.88,264.76 569.14,264.50 569.41,262.50 569.67,263.59 569.93,263.22 570.20,262.34 570.46,262.21 570.73,263.52 570.99,262.05 571.25,262.68 571.52,263.00 571.78,262.70 572.04,264.11 572.31,263.64 572.57,263.06 572.83,262.49 573.10,263.38 573.36,263.19 573.63,262.33 573.89,262.03 574.15,262.45 574.42,262.00 574.68,263.40 574.94,263.33 575.21,262.87 575.47,263.47 575.73,263.74 576.00,262.02 576.26,263.51 576.53,264.31 576.79,263.13 577.05,262.04 577.32,263.54 577.58,262.67 577.84,263.95 578.11,263.94 578.37,264.21 578.63,263.91 578.90,262.31 579.16,264.75 579.42,262.54 579.69,264.64 579.95,264.00 580.22,263.22 580.48,263.53 580.74,263.94 581.01,265.51 581.27,263.98 581.53,265.12 581.80,262.32 582.06,264.46 582.32,264.15 582.59,265.31 582.85,264.71 583.12,265.33 583.38,263.54 583.64,264.49 583.91,263.80 584.17,264.82 584.43,264.70 584.70,263.32 584.96,265.19 585.22,265.79 585.49,263.97 585.75,265.16 586.02,264.50 586.28,263.45 586.54,264.80 586.81,263.47 587.07,264.67 587.33,262.96 587.60,263.06 587.86,264.39 588.12,264.17 588.39,264.79 588.65,264.04 588.92,263.23 589.18,265.14 589.44,263.36 589.71,265.17 589.97,264.80 590.23,265.51 590.50,262.45 590.76,263.91 591.02,263.56 591.29,264.24 591.55,262.94 591.81,265.53 592.08,263.74 592.34,262.00 592.61,264.10 592.87,263.71 593.13,263.18 593.40,264.30 593.66,263.68 593.92,262.99 594.19,263.66 594.45,263.59 594.71,264.23 594.98,263.64 595.24,263.82 595.51,262.60 595.77,263.17 596.03,264.00 596.30,265.82 596.56,263.31 596.82,263.18 597.09,264.56 597.35,265.36 597.61,264.61 597.88,263.02 598.14,264.62 598.41,264.18 598.67,263.62 598.93,262.79 599.20,263.69 599.46,263.66 599.72,264.01 599.99,262.26 600.25,262.66 600.51,263.52 600.78,264.61 601.04,264.17 601.31,263.21 601.57,264.25 601.83,262.90 602.10,263.28 602.36,263.24 602.62,262.98 602.89,263.16 603.15,264.20 603.41,263.87 603.68,261.70 603.94,264.61 604.20,264.08 604.47,262.75 604.73,263.70 605.00,264.11 605.26,264.45 605.52,263.10 605.79,262.73 606.05,262.59 606.31,263.60 606.58,262.88 606.84,264.57 607.10,263.65 607.37,264.31 607.63,263.61 607.90,263.24 608.16,262.97 608.42,264.58 608.69,262.85 608.95,264.28 609.21,264.72 609.48,263.98 609.74,265.12 610.00,264.00 610.27,263.83 610.53,264.24 610.80,263.68 611.06,264.42 611.32,264.14 611.59,265.23 611.85,264.06 612.11,264.83 612.38,264.53 612.64,264.27 612.90,264.12 613.17,265.56 613.43,265.50 613.70,264.50 613.96,263.86 614.22,263.97 614.49,263.55 614.75,263.11 615.01,263.92 615.28,264.38 615.54,265.18 615.80,265.17 616.07,264.64 616.33,264.14 616.59,264.11 616.86,264.38 617.12,264.45 617.39,263.73 617.65,264.09 617.91,264.05 618.18,263.95 618.44,264.57 618.70,265.04 618.97,263.72 619.23,263.71 619.49,264.12 619.76,264.17 620.02,262.12 620.29,264.45 620.55,263.99 620.81,263.64 621.08,264.67 621.34,263.75 621.60,262.43 621.87,263.00 622.13,263.34 622.39,263.31 622.66,263.71 622.92,263.04 623.19,263.84 623.45,264.07 623.71,263.65 623.98,262.95 624.24,263.50 624.50,263.22 624.77,265.30 625.03,262.67 625.29,261.80 625.56,262.61 625.82,263.88 626.09,264.31 626.35,263.36 626.61,264.40 626.88,262.83 627.14,263.84 627.40,262.66 627.67,262.31 627.93,265.03 628.19,263.19 628.46,263.97 628.72,264.60 628.98,263.96 629.25,263.65 629.51,262.71 629.78,264.75 630.04,262.80 630.30,262.06 630.57,263.10 630.83,263.24 631.09,263.73 631.36,264.55 631.62,263.13 631.88,263.11 632.15,262.76 632.41,261.42 632.68,262.87 632.94,263.05 633.20,262.16 633.47,264.46 633.73,264.38 633.99,263.67 634.26,263.92 634.52,262.87 634.78,263.57 635.05,261.94 635.31,262.17 635.58,262.91 635.84,263.89 636.10,262.90 636.37,262.65 636.63,264.15 636.89,263.02 637.16,262.79 637.42,263.31 637.68,262.19 637.95,262.50 638.21,264.10 638.48,263.31 638.74,264.03 639.00,262.96 639.27,264.12 639.53,262.78 639.79,263.08 640.06,262.60 640.32,263.57 640.58,264.52 640.85,261.96 641.11,263.57 641.37,262.19 641.64,263.00 641.90,262.89 642.17,261.99 642.43,263.28 642.69,262.43 642.96,264.69 643.22,262.75 643.48,263.71 643.75,263.62 644.01,263.59 644.27,263.37 644.54,262.37 644.80,265.18 645.07,263.63 645.33,264.33 645.59,262.87 645.86,264.19 646.12,263.41 646.38,264.01 646.65,263.19 646.91,263.02 647.17,264.17 647.44,263.81 647.70,264.87 647.97,263.49 648.23,263.11 648.49,264.26 648.76,262.85 649.02,265.37 649.28,265.20 649.55,264.76 649.81,264.09 650.07,263.67 650.34,263.84 650.60,263.84 650.87,263.19 651.13,264.27 651.39,264.97 651.66,264.90 651.92,262.37 652.18,265.86 652.45,264.25 652.71,263.02 652.97,263.69 653.24,264.84 653.50,264.26 653.76,263.55 654.03,263.27 654.29,264.93 654.56,263.58 654.82,263.91 655.08,263.23 655.35,263.01 655.61,264.47 655.87,265.30 656.14,263.77 656.40,262.68 656.66,263.56 656.93,263.92 657.19,262.18 657.46,264.86 657.72,263.25 657.98,264.40 658.25,263.91 658.51,263.87 658.77,262.69 659.04,264.53 659.30,264.31 659.56,265.08 659.83,263.44 660.09,264.22 660.36,263.52 660.62,264.66 660.88,264.06 661.15,263.00 661.41,264.02 661.67,263.30 661.94,263.44 662.20,264.16 662.46,265.08 662.73,263.01 662.99,263.48 663.26,262.80 663.52,265.20 663.78,264.92 664.05,265.26 664.31,264.27 664.57,262.81 664.84,263.21 665.10,263.66 665.36,263.53 665.63,263.03 665.89,263.80 666.15,263.28 666.42,263.48 666.68,265.45 666.95,263.99 667.21,262.51 667.47,263.94 667.74,263.78 668.00,264.23 668.26,264.11" fill="none" stroke="#e6283a" stroke-width="0.7" stroke-linejoin="round"/>
<polyline points="302.10,310.15 302.36,310.82 302.63,311.12 302.89,310.36 303.15,313.35 303.42,309.69 303.68,313.09 303.95,310.38 304.21,311.34 304.47,309.95 304.74,311.51 305.00,312.86 305.26,310.14 305.53,311.22 305.79,311.44 306.05,311.36 306.32,310.06 306.58,310.37 306.85,311.15 307.11,313.55 307.37,311.90 307.64,311.28 307.90,308.95 308.16,310.89 308.43,311.72 308.69,310.15 308.95,311.76 309.22,311.44 309.48,311.15 309.74,313.34 310.01,310.08 310.27,310.77 310.54,311.76 310.80,312.82 311.06,310.94 311.33,309.15 311.59,311.92 311.85,312.48 312.12,310.58 312.38,313.26 312.64,313.96 312.91,311.66 313.17,311.97 313.44,311.39 313.70,311.70 313.96,310.71 314.23,311.42 314.49,312.13 314.75,311.73 315.02,310.12 315.28,309.61 315.54,309.69 315.81,310.09 316.07,315.47 316.34,312.17 316.60,311.30 316.86,310.71 317.13,313.14 317.39,309.03 317.65,310.68 317.92,312.07 318.18,310.90 318.44,311.71 318.71,312.33 318.97,310.52 319.24,311.71 319.50,313.01 319.76,311.86 320.03,311.04 320.29,312.34 320.55,309.18 320.82,312.19 321.08,308.29 321.34,309.55 321.61,312.07 321.87,310.40 322.13,309.05 322.40,310.63 322.66,312.18 322.93,310.35 323.19,307.76 323.45,312.51 323.72,309.55 323.98,310.30 324.24,310.36 324.51,310.61 324.77,310.53 325.03,308.70 325.30,309.39 325.56,311.42 325.83,307.74 326.09,311.61 326.35,308.87 326.62,309.64 326.88,308.36 327.14,309.75 327.41,308.78 327.67,310.29 327.93,309.02 328.20,309.92 328.46,307.24 328.73,311.18 328.99,308.60 329.25,309.61 329.52,309.81 329.78,310.85 330.04,309.33 330.31,312.08 330.57,311.88 330.83,309.23 331.10,312.31 331.36,308.19 331.63,310.67 331.89,309.88 332.15,310.34 332.42,310.00 332.68,310.87 332.94,311.21 333.21,310.77 333.47,309.24 333.73,309.24 334.00,309.01 334.26,310.21 334.52,310.94 334.79,313.00 335.05,309.68 335.32,309.40 335.58,311.13 335.84,309.62 336.11,309.00 336.37,310.93 336.63,309.55 336.90,310.52 337.16,313.18 337.42,311.48 337.69,311.38 337.95,310.23 338.22,312.06 338.48,311.34 338.74,312.19 339.01,311.00 339.27,310.79 339.53,309.48 339.80,309.55 340.06,310.20 340.32,309.94 340.59,310.27 340.85,310.05 341.12,308.21 341.38,313.62 341.64,310.40 341.91,309.80 342.17,308.69 342.43,311.50 342.70,309.45 342.96,308.80 343.22,310.80 343.49,312.67 343.75,310.42 344.02,311.48 344.28,308.97 344.54,311.00 344.81,307.56 345.07,309.73 345.33,311.22 345.60,310.87 345.86,311.63 346.12,309.71 346.39,308.39 346.65,310.47 346.91,309.07 347.18,311.54 347.44,309.91 347.71,307.37 347.97,312.46 348.23,309.00 348.50,309.04 348.76,313.36 349.02,312.78 349.29,312.23 349.55,309.48 349.81,311.23 350.08,311.05 350.34,309.94 350.61,310.81 350.87,310.71 351.13,311.24 351.40,309.31 351.66,312.02 351.92,308.72 352.19,311.38 352.45,312.14 352.71,310.10 352.98,310.44 353.24,313.69 353.51,310.71 353.77,312.81 354.03,311.90 354.30,309.69 354.56,312.03 354.82,310.21 355.09,311.27 355.35,308.05 355.61,310.73 355.88,312.29 356.14,312.16 356.41,311.90 356.67,310.43 356.93,310.38 357.20,308.92 357.46,310.29 357.72,310.40 357.99,310.06 358.25,310.65 358.51,310.09 358.78,309.41 359.04,309.44 359.30,311.26 359.57,312.86 359.83,311.56 360.10,310.12 360.36,313.73 360.62,311.12 360.89,309.87 361.15,311.19 361.41,311.91 361.68,307.99 361.94,308.68 362.20,310.96 362.47,308.82 362.73,308.87 363.00,312.21 363.26,307.11 363.52,312.06 363.79,311.21 364.05,312.28 364.31,310.71 364.58,312.54 364.84,310.96 365.10,309.50 365.37,310.46 365.63,310.99 365.90,308.48 366.16,311.92 366.42,309.45 366.69,311.10 366.95,310.27 367.21,310.52 367.48,310.45 367.74,310.65 368.00,311.60 368.27,311.35 368.53,309.96 368.80,310.92 369.06,312.38 369.32,311.63 369.59,311.66 369.85,310.88 370.11,310.53 370.38,310.74 370.64,311.62 370.90,310.66 371.17,312.64 371.43,314.65 371.69,310.76 371.96,312.91 372.22,311.89 372.49,312.32 372.75,309.78 373.01,312.45 373.28,310.39 373.54,311.57 373.80,312.69 374.07,313.26 374.33,310.33 374.59,310.36 374.86,310.09 375.12,308.55 375.39,310.59 375.65,310.62 375.91,311.20 376.18,310.92 376.44,311.35 376.70,311.85 376.97,308.07 377.23,313.18 377.49,310.27 377.76,309.92 378.02,310.35 378.29,311.77 378.55,310.90 378.81,311.25 379.08,311.95 379.34,310.69 379.60,311.18 379.87,311.35 380.13,309.69 380.39,311.75 380.66,309.86 380.92,311.09 381.19,309.80 381.45,310.36 381.71,309.92 381.98,311.40 382.24,311.35 382.50,311.61 382.77,310.02 383.03,309.50 383.29,308.95 383.56,311.00 383.82,310.23 384.08,312.39 384.35,313.17 384.61,311.31 384.88,310.87 385.14,312.08 385.40,312.33 385.67,309.21 385.93,311.00 386.19,312.12 386.46,306.77 386.72,309.83 386.98,310.43 387.25,309.03 387.51,310.89 387.78,307.68 388.04,311.94 388.30,306.84 388.57,287.85 388.83,294.18 389.09,306.84 389.36,312.12 389.62,311.07 389.88,309.66 390.15,309.21 390.41,308.58 390.68,309.68 390.94,307.08 391.20,310.86 391.47,309.93 391.73,308.93 391.99,310.58 392.26,310.54 392.52,310.70 392.78,310.89 393.05,311.77 393.31,311.25 393.58,312.51 393.84,309.93 394.10,312.62 394.37,307.69 394.63,308.20 394.89,308.95 395.16,310.82 395.42,311.40 395.68,309.03 395.95,310.53 396.21,309.94 396.47,311.60 396.74,309.19 397.00,311.78 397.27,310.67 397.53,313.31 397.79,311.85 398.06,310.23 398.32,311.59 398.58,311.54 398.85,309.82 399.11,310.79 399.37,309.25 399.64,314.29 399.90,310.47 400.17,310.65 400.43,313.52 400.69,313.06 400.96,310.08 401.22,312.61 401.48,312.09 401.75,310.33 402.01,311.66 402.27,310.49 402.54,312.13 402.80,310.74 403.07,309.66 403.33,310.53 403.59,313.80 403.86,309.87 404.12,310.71 404.38,311.93 404.65,308.87 404.91,313.01 405.17,308.21 405.44,311.44 405.70,308.60 405.97,310.82 406.23,312.55 406.49,310.69 406.76,310.54 407.02,310.47 407.28,309.61 407.55,312.23 407.81,310.29 408.07,309.96 408.34,311.28 408.60,312.44 408.86,312.51 409.13,310.12 409.39,309.96 409.66,312.30 409.92,312.82 410.18,309.42 410.45,313.10 410.71,310.83 410.97,311.97 411.24,313.30 411.50,311.03 411.76,284.90 412.03,292.60 412.29,291.72 412.56,294.95 412.82,298.52 413.08,293.71 413.35,287.48 413.61,294.36 413.87,290.94 414.14,296.74 414.40,284.90 414.66,304.19 414.93,292.99 415.19,293.33 415.46,294.83 415.72,301.93 415.98,302.14 416.25,297.67 416.51,296.06 416.77,302.80 417.04,302.14 417.30,293.98 417.56,291.67 417.83,299.81 418.09,300.58 418.36,300.79 418.62,284.90 418.88,294.75 419.15,297.62 419.41,292.25 419.67,285.77 419.94,291.52 420.20,304.73 420.46,297.98 420.73,299.64 420.99,299.38 421.25,303.85 421.52,299.71 421.78,303.26 422.05,296.08 422.31,297.61 422.57,305.04 422.84,306.56 423.10,300.36 423.36,294.66 423.63,295.48 423.89,298.35 424.15,311.06 424.42,300.58 424.68,301.85 424.95,299.81 425.21,304.33 425.47,300.35 425.74,301.55 426.00,284.90 426.26,294.64 426.53,299.21 426.79,298.49 427.05,298.86 427.32,297.32 427.58,300.35 427.85,298.39 428.11,293.10 428.37,294.11 428.64,296.77 428.90,291.59 429.16,297.22 429.43,303.36 429.69,307.26 429.95,301.92 430.22,298.72 430.48,296.39 430.75,292.95 431.01,301.34 431.27,302.52 431.54,294.52 431.80,292.47 432.06,300.88 432.33,296.75 432.59,291.48 432.85,296.84 433.12,298.76 433.38,309.04 433.64,291.76 433.91,295.22 434.17,297.86 434.44,300.86 434.70,304.84 434.96,299.02 435.23,299.06 435.49,292.95 435.75,304.68 436.02,291.21 436.28,298.35 436.54,292.51 436.81,303.46 437.07,296.78 437.34,292.34 437.60,297.96 437.86,306.01 438.13,300.22 438.39,295.83 438.65,305.66 438.92,305.89 439.18,297.36 439.44,303.38 439.71,295.11 439.97,304.53 440.24,307.88 440.50,302.51 440.76,290.99 441.03,302.95 441.29,298.60 441.55,297.32 441.82,303.39 442.08,293.03 442.34,297.67 442.61,296.31 442.87,307.11 443.14,307.45 443.40,311.06 443.66,311.16 443.93,309.70 444.19,312.10 444.45,310.44 444.72,310.01 444.98,311.85 445.24,311.96 445.51,310.62 445.77,311.10 446.03,311.41 446.30,310.54 446.56,310.57 446.83,312.27 447.09,312.12 447.35,310.24 447.62,309.43 447.88,309.18 448.14,312.15 448.41,309.24 448.67,309.71 448.93,310.67 449.20,309.86 449.46,309.48 449.73,308.04 449.99,312.01 450.25,309.85 450.52,310.76 450.78,310.69 451.04,308.89 451.31,309.30 451.57,311.95 451.83,310.97 452.10,310.40 452.36,312.46 452.63,309.12 452.89,310.36 453.15,310.11 453.42,310.03 453.68,307.87 453.94,310.33 454.21,311.06 454.47,308.32 454.73,311.16 455.00,311.20 455.26,312.48 455.53,309.07 455.79,310.06 456.05,309.79 456.32,310.24 456.58,310.67 456.84,311.51 457.11,311.47 457.37,309.82 457.63,310.25 457.90,308.17 458.16,311.41 458.42,310.90 458.69,311.56 458.95,308.39 459.22,311.83 459.48,309.03 459.74,308.04 460.01,310.09 460.27,308.82 460.53,312.55 460.80,310.13 461.06,311.93 461.32,309.22 461.59,309.53 461.85,310.62 462.12,308.24 462.38,309.07 462.64,310.26 462.91,310.00 463.17,311.37 463.43,309.68 463.70,306.71 463.96,310.54 464.22,309.20 464.49,310.33 464.75,308.63 465.02,309.15 465.28,310.13 465.54,312.17 465.81,310.45 466.07,308.06 466.33,309.95 466.60,308.89 466.86,310.18 467.12,312.09 467.39,309.01 467.65,309.27 467.92,310.43 468.18,310.14 468.44,309.36 468.71,310.54 468.97,309.12 469.23,310.03 469.50,312.87 469.76,309.69 470.02,310.41 470.29,310.76 470.55,309.17 470.81,310.57 471.08,308.98 471.34,308.33 471.61,309.63 471.87,312.01 472.13,310.77 472.40,308.68 472.66,310.33 472.92,311.14 473.19,310.25 473.45,309.44 473.71,309.90 473.98,309.45 474.24,311.60 474.51,311.00 474.77,310.91 475.03,310.82 475.30,313.50 475.56,311.10 475.82,312.63 476.09,308.89 476.35,308.85 476.61,308.88 476.88,309.97 477.14,311.58 477.41,309.73 477.67,311.40 477.93,310.36 478.20,312.21 478.46,311.67 478.72,310.24 478.99,308.65 479.25,310.94 479.51,307.72 479.78,307.04 480.04,312.43 480.31,310.75 480.57,311.96 480.83,310.91 481.10,311.42 481.36,311.07 481.62,309.77 481.89,309.86 482.15,310.69 482.41,310.80 482.68,310.84 482.94,310.66 483.20,310.13 483.47,310.70 483.73,310.05 484.00,312.68 484.26,309.51 484.52,308.14 484.79,310.39 485.05,312.69 485.31,308.91 485.58,311.17 485.84,314.46 486.10,310.80 486.37,309.77 486.63,309.94 486.90,308.66 487.16,309.72 487.42,310.42 487.69,313.17 487.95,312.05 488.21,310.30 488.48,309.62 488.74,311.89 489.00,311.49 489.27,309.84 489.53,312.83 489.80,312.90 490.06,310.63 490.32,309.88 490.59,310.78 490.85,313.22 491.11,310.03 491.38,311.98 491.64,309.33 491.90,310.39 492.17,310.09 492.43,309.49 492.69,310.95 492.96,309.06 493.22,308.56 493.49,309.66 493.75,308.62 494.01,311.21 494.28,309.28 494.54,310.30 494.80,312.12 495.07,310.88 495.33,311.59 495.59,311.64 495.86,310.86 496.12,309.58 496.39,311.43 496.65,310.83 496.91,312.73 497.18,310.69 497.44,309.38 497.70,309.62 497.97,309.99 498.23,311.52 498.49,312.07 498.76,310.83 499.02,312.67 499.29,312.45 499.55,309.29 499.81,311.64 500.08,307.90 500.34,312.31 500.60,309.82 500.87,311.70 501.13,309.85 501.39,311.38 501.66,309.79 501.92,309.99 502.19,310.18 502.45,308.81 502.71,307.43 502.98,310.21 503.24,308.03 503.50,309.06 503.77,309.12 504.03,305.97 504.29,311.81 504.56,309.80 504.82,311.39 505.08,309.37 505.35,309.21 505.61,303.89 505.88,308.62 506.14,306.74 506.40,307.52 506.67,309.88 506.93,308.68 507.19,307.01 507.46,309.19 507.72,309.22 507.98,309.02 508.25,311.63 508.51,310.87 508.78,309.52 509.04,309.27 509.30,311.38 509.57,310.77 509.83,310.62 510.09,310.62 510.36,309.53 510.62,310.38 510.88,310.16 511.15,312.48 511.41,311.93 511.68,310.21 511.94,312.99 512.20,310.16 512.47,311.41 512.73,311.57 512.99,309.60 513.26,311.25 513.52,311.65 513.78,311.37 514.05,310.34 514.31,306.65 514.58,313.14 514.84,310.33 515.10,310.79 515.37,309.47 515.63,311.17 515.89,314.01 516.16,309.00 516.42,311.98 516.68,310.65 516.95,312.36 517.21,311.96 517.47,311.02 517.74,309.14 518.00,309.39 518.27,311.18 518.53,309.71 518.79,311.09 519.06,310.50 519.32,310.49 519.58,309.86 519.85,311.35 520.11,310.93 520.37,310.27 520.64,310.47 520.90,311.62 521.17,308.48 521.43,311.34 521.69,309.72 521.96,310.42 522.22,309.12 522.48,313.71 522.75,308.04 523.01,311.04 523.27,312.16 523.54,310.38 523.80,307.33 524.07,309.56 524.33,311.93 524.59,311.03 524.86,308.71 525.12,312.38 525.38,310.86 525.65,310.93 525.91,307.51 526.17,310.94 526.44,308.75 526.70,311.19 526.97,311.36 527.23,309.01 527.49,309.35 527.76,312.53 528.02,309.30 528.28,309.45 528.55,311.01 528.81,310.00 529.07,309.87 529.34,310.85 529.60,311.22 529.86,311.34 530.13,310.71 530.39,312.12 530.66,310.36 530.92,312.17 531.18,310.09 531.45,310.27 531.71,311.41 531.97,308.90 532.24,307.47 532.50,308.09 532.76,311.63 533.03,308.05 533.29,309.40 533.56,309.76 533.82,310.70 534.08,309.92 534.35,308.01 534.61,309.32 534.87,310.59 535.14,310.96 535.40,310.66 535.66,309.29 535.93,307.57 536.19,311.48 536.46,310.19 536.72,310.63 536.98,310.99 537.25,309.33 537.51,309.07 537.77,311.72 538.04,311.45 538.30,308.41 538.56,309.52 538.83,309.30 539.09,310.59 539.36,310.48 539.62,309.61 539.88,310.92 540.15,311.72 540.41,310.28 540.67,309.09 540.94,311.82 541.20,308.92 541.46,309.54 541.73,311.56 541.99,310.41 542.25,310.61 542.52,309.65 542.78,309.49 543.05,311.99 543.31,311.96 543.57,308.73 543.84,310.16 544.10,309.76 544.36,309.67 544.63,307.89 544.89,311.73 545.15,308.91 545.42,311.23 545.68,309.22 545.95,308.33 546.21,312.00 546.47,309.72 546.74,310.88 547.00,310.97 547.26,310.55 547.53,311.90 547.79,311.73 548.05,309.65 548.32,309.41 548.58,311.36 548.85,312.59 549.11,307.69 549.37,309.18 549.64,310.05 549.90,311.69 550.16,311.03 550.43,310.06 550.69,311.71 550.95,308.26 551.22,310.45 551.48,310.38 551.75,312.19 552.01,312.00 552.27,312.08 552.54,310.89 552.80,311.55 553.06,311.56 553.33,310.92 553.59,311.00 553.85,309.27 554.12,311.60 554.38,312.84 554.64,311.16 554.91,309.28 555.17,311.98 555.44,311.34 555.70,311.93 555.96,311.07 556.23,311.23 556.49,312.61 556.75,311.61 557.02,310.12 557.28,310.06 557.54,310.37 557.81,310.44 558.07,312.15 558.34,312.01 558.60,310.42 558.86,313.28 559.13,311.64 559.39,313.87 559.65,311.90 559.92,312.37 560.18,312.99 560.44,310.61 560.71,312.43 560.97,311.87 561.24,311.68 561.50,312.35 561.76,309.39 562.03,311.84 562.29,310.65 562.55,312.71 562.82,311.73 563.08,311.48 563.34,311.36 563.61,311.77 563.87,310.79 564.14,308.87 564.40,311.00 564.66,311.00 564.93,311.24 565.19,307.25 565.45,308.37 565.72,309.80 565.98,309.37 566.24,311.26 566.51,310.45 566.77,309.98 567.03,310.14 567.30,311.49 567.56,311.35 567.83,309.72 568.09,310.01 568.35,313.16 568.62,310.15 568.88,308.58 569.14,311.24 569.41,309.97 569.67,312.28 569.93,309.30 570.20,311.88 570.46,312.14 570.73,310.75 570.99,307.06 571.25,311.04 571.52,311.81 571.78,309.25 572.04,309.66 572.31,307.86 572.57,311.90 572.83,312.23 573.10,310.63 573.36,309.89 573.63,309.96 573.89,309.02 574.15,312.53 574.42,311.55 574.68,310.63 574.94,309.12 575.21,309.41 575.47,310.71 575.73,311.47 576.00,308.96 576.26,308.89 576.53,306.50 576.79,310.24 577.05,307.67 577.32,311.62 577.58,310.81 577.84,310.85 578.11,310.50 578.37,311.08 578.63,310.59 578.90,310.14 579.16,310.62 579.42,309.38 579.69,310.45 579.95,310.35 580.22,308.39 580.48,310.07 580.74,310.36 581.01,310.44 581.27,310.43 581.53,309.74 581.80,311.60 582.06,309.01 582.32,308.69 582.59,309.15 582.85,311.55 583.12,313.10 583.38,311.55 583.64,310.81 583.91,309.77 584.17,311.20 584.43,311.29 584.70,309.08 584.96,312.07 585.22,309.77 585.49,309.80 585.75,313.04 586.02,311.11 586.28,312.14 586.54,312.63 586.81,313.61 587.07,313.08 587.33,310.26 587.60,311.34 587.86,310.56 588.12,312.42 588.39,311.25 588.65,311.22 588.92,313.14 589.18,313.18 589.44,310.61 589.71,310.94 589.97,312.27 590.23,311.06 590.50,310.18 590.76,308.63 591.02,312.34 591.29,310.35 591.55,308.44 591.81,311.18 592.08,309.15 592.34,314.56 592.61,309.04 592.87,310.85 593.13,313.02 593.40,309.60 593.66,309.20 593.92,308.99 594.19,308.99 594.45,310.55 594.71,311.62 594.98,311.33 595.24,310.80 595.51,310.41 595.77,311.49 596.03,310.87 596.30,309.78 596.56,310.61 596.82,307.88 597.09,307.99 597.35,312.47 597.61,311.73 597.88,312.68 598.14,312.58 598.41,310.28 598.67,312.28 598.93,312.32 599.20,311.19 599.46,309.60 599.72,311.10 599.99,311.17 600.25,309.53 600.51,310.12 600.78,310.10 601.04,309.61 601.31,312.26 601.57,310.59 601.83,311.66 602.10,309.57 602.36,309.93 602.62,312.45 602.89,309.37 603.15,312.71 603.41,309.46 603.68,310.54 603.94,311.71 604.20,312.05 604.47,310.82 604.73,310.48 605.00,311.39 605.26,309.55 605.52,312.28 605.79,310.62 606.05,310.70 606.31,313.18 606.58,310.25 606.84,312.39 607.10,314.06 607.37,311.61 607.63,311.17 607.90,309.76 608.16,311.61 608.42,309.06 608.69,309.39 608.95,309.85 609.21,309.52 609.48,310.97 609.74,312.08 610.00,310.43 610.27,310.01 610.53,310.96 610.80,311.64 611.06,313.49 611.32,310.56 611.59,311.17 611.85,313.28 612.11,311.20 612.38,310.46 612.64,311.57 612.90,310.35 613.17,310.31 613.43,313.29 613.70,311.70 613.96,310.26 614.22,309.61 614.49,309.20 614.75,313.71 615.01,311.36 615.28,310.26 615.54,309.56 615.80,308.91 616.07,312.52 616.33,311.75 616.59,312.39 616.86,309.92 617.12,312.80 617.39,309.19 617.65,309.58 617.91,310.28 618.18,313.84 618.44,311.99 618.70,309.97 618.97,312.72 619.23,311.20 619.49,310.96 619.76,309.72 620.02,310.89 620.29,310.87 620.55,311.64 620.81,311.22 621.08,311.47 621.34,310.38 621.60,311.51 621.87,310.28 622.13,314.17 622.39,310.21 622.66,311.87 622.92,310.03 623.19,311.41 623.45,310.32 623.71,309.38 623.98,311.90 624.24,311.16 624.50,311.56 624.77,310.77 625.03,312.96 625.29,311.01 625.56,311.04 625.82,311.57 626.09,310.82 626.35,312.33 626.61,308.53 626.88,309.85 627.14,307.64 627.40,311.53 627.67,312.00 627.93,310.03 628.19,312.68 628.46,310.31 628.72,311.44 628.98,310.92 629.25,310.08 629.51,310.36 629.78,307.83 630.04,309.36 630.30,312.00 630.57,308.92 630.83,312.17 631.09,310.24 631.36,312.16 631.62,311.69 631.88,308.79 632.15,311.19 632.41,311.47 632.68,311.60 632.94,311.73 633.20,309.45 633.47,313.04 633.73,313.34 633.99,310.87 634.26,313.98 634.52,312.12 634.78,310.16 635.05,311.69 635.31,312.01 635.58,312.41 635.84,312.61 636.10,311.99 636.37,311.03 636.63,309.50 636.89,309.91 637.16,312.00 637.42,312.25 637.68,310.32 637.95,313.78 638.21,311.84 638.48,311.59 638.74,312.37 639.00,312.29 639.27,310.45 639.53,313.05 639.79,312.04 640.06,311.67 640.32,310.57 640.58,312.59 640.85,308.94 641.11,310.59 641.37,310.55 641.64,310.75 641.90,311.10 642.17,311.49 642.43,308.82 642.69,309.93 642.96,310.52 643.22,309.29 643.48,311.69 643.75,309.84 644.01,310.87 644.27,312.05 644.54,309.98 644.80,313.00 645.07,310.16 645.33,312.21 645.59,310.44 645.86,308.95 646.12,309.89 646.38,311.63 646.65,311.09 646.91,311.36 647.17,312.41 647.44,312.31 647.70,310.85 647.97,310.09 648.23,313.02 648.49,310.67 648.76,309.93 649.02,310.78 649.28,312.26 649.55,309.37 649.81,312.43 650.07,309.94 650.34,308.66 650.60,313.61 650.87,310.61 651.13,310.56 651.39,310.42 651.66,311.68 651.92,311.05 652.18,312.47 652.45,310.29 652.71,309.72 652.97,311.35 653.24,311.77 653.50,311.18 653.76,310.47 654.03,310.58 654.29,310.82 654.56,310.61 654.82,312.67 655.08,314.55 655.35,310.36 655.61,309.61 655.87,313.45 656.14,312.54 656.40,311.38 656.66,310.49 656.93,310.73 657.19,310.03 657.46,311.80 657.72,311.09 657.98,311.16 658.25,312.33 658.51,310.08 658.77,310.84 659.04,310.33 659.30,312.28 659.56,310.57 659.83,313.20 660.09,311.49 660.36,315.42 660.62,313.45 660.88,310.97 661.15,312.56 661.41,311.71 661.67,314.14 661.94,309.77 662.20,310.87 662.46,311.60 662.73,310.96 662.99,311.09 663.26,309.41 663.52,310.77 663.78,312.96 664.05,311.32 664.31,309.13 664.57,310.12 664.84,311.45 665.10,309.97 665.36,310.64 665.63,310.21 665.89,313.08 666.15,312.15 666.42,310.10 666.68,311.37 666.95,310.20 667.21,308.02 667.47,310.78 667.74,310.01 668.00,311.14 668.26,311.34 668.53,310.33 668.79,312.38 669.05,313.03 669.32,308.51 669.58,310.58 669.85,309.04 670.11,310.66 670.37,310.60 670.64,309.98 670.90,310.01" fill="none" stroke="#3558a8" stroke-width="0.7" stroke-linejoin="round"/>
<text x="388.50" y="247.00" font-size="9" text-anchor="middle" font-weight="bold" fill="#151515">*</text>
<line x1="311.50" y1="221.20" x2="397.00" y2="221.20" stroke="#c6c7c9" stroke-width="3.0" stroke-dasharray="2.4,1.6"/>
<polygon points="300.00,221.20 310.50,215.90 310.50,226.50" fill="#c6c7c9" stroke="none" stroke-width="1"/>
<polygon points="407.80,221.20 397.30,215.90 397.30,226.50" fill="#c6c7c9" stroke="none" stroke-width="1"/>
<line x1="419.50" y1="221.20" x2="433.50" y2="221.20" stroke="#c6c7c9" stroke-width="3.0"/>
<polygon points="409.70,221.20 420.20,215.90 420.20,226.50" fill="#c6c7c9" stroke="none" stroke-width="1"/>
<polygon points="443.30,221.20 432.80,215.90 432.80,226.50" fill="#c6c7c9" stroke="none" stroke-width="1"/>
<line x1="457.50" y1="221.20" x2="660.00" y2="221.20" stroke="#c6c7c9" stroke-width="3.0" stroke-dasharray="2.4,1.6"/>
<polygon points="446.40,221.20 456.90,215.90 456.90,226.50" fill="#c6c7c9" stroke="none" stroke-width="1"/>
<polygon points="670.50,221.20 660.00,215.90 660.00,226.50" fill="#c6c7c9" stroke="none" stroke-width="1"/>
<text x="376.80" y="215.70" font-size="8.5" text-anchor="middle" font-weight="normal" fill="#555" stroke="#555" stroke-width="0.18">Off</text>
<text x="426.00" y="215.70" font-size="8.5" text-anchor="middle" font-weight="normal" fill="#555" stroke="#555" stroke-width="0.18">On</text>
<text x="563.50" y="215.70" font-size="8.5" text-anchor="middle" font-weight="normal" fill="#555" stroke="#555" stroke-width="0.18">Off</text>
<rect x="407.50" y="226.50" width="43.00" height="96.00" fill="none" stroke="#111" stroke-width="1.2"/>
<line x1="407.50" y1="322.50" x2="490.50" y2="356.50" stroke="#222" stroke-width="1.0"/>
<line x1="450.50" y1="322.50" x2="668.50" y2="356.50" stroke="#222" stroke-width="1.0"/>
<line x1="490.50" y1="398.50" x2="668.50" y2="398.50" stroke="#aaa" stroke-width="0.8" stroke-dasharray="2.5,2.5"/>
<line x1="490.50" y1="377.50" x2="668.50" y2="377.50" stroke="#aaa" stroke-width="0.8" stroke-dasharray="2.5,2.5"/>
<line x1="490.50" y1="475.90" x2="668.50" y2="475.90" stroke="#aaa" stroke-width="0.8" stroke-dasharray="2.5,2.5"/>
<line x1="490.50" y1="463.30" x2="668.50" y2="463.30" stroke="#aaa" stroke-width="0.8" stroke-dasharray="2.5,2.5"/>
<line x1="490.50" y1="450.70" x2="668.50" y2="450.70" stroke="#aaa" stroke-width="0.8" stroke-dasharray="2.5,2.5"/>
<line x1="490.50" y1="438.10" x2="668.50" y2="438.10" stroke="#aaa" stroke-width="0.8" stroke-dasharray="2.5,2.5"/>
<polyline points="490.50,378.82 491.70,379.05 492.90,373.54 494.10,369.13 495.29,379.19 496.49,379.27 497.69,375.11 498.89,368.88 500.09,382.48 501.29,374.10 502.48,379.15 503.68,379.65 504.88,373.00 506.08,382.29 507.28,383.89 508.48,373.87 509.67,377.86 510.87,379.24 512.07,378.48 513.27,374.84 514.47,389.76 515.67,392.78 516.86,389.44 518.06,390.49 519.26,394.79 520.46,392.72 521.66,383.35 522.86,394.18 524.05,399.17 525.25,385.89 526.45,383.16 527.65,392.12 528.85,389.25 530.05,396.21 531.25,391.62 532.44,382.17 533.64,384.37 534.84,389.08 536.04,392.13 537.24,401.88 538.44,387.87 539.63,386.83 540.83,382.53 542.03,375.61 543.23,387.41 544.43,383.23 545.63,398.16 546.82,381.44 548.02,383.87 549.22,380.30 550.42,385.25 551.62,386.85 552.82,379.47 554.01,394.87 555.21,385.46 556.41,382.30 557.61,395.73 558.81,398.36 560.01,386.96 561.20,389.18 562.40,385.70 563.60,385.44 564.80,395.56 566.00,387.63 567.20,381.96 568.40,392.59 569.59,392.08 570.79,398.12 571.99,384.17 573.19,376.04 574.39,399.84 575.59,384.56 576.78,383.55 577.98,394.03 579.18,392.68 580.38,397.50 581.58,395.62 582.78,388.82 583.97,385.33 585.17,389.16 586.37,383.87 587.57,388.52 588.77,398.36 589.97,379.59 591.16,381.50 592.36,395.07 593.56,377.28 594.76,386.61 595.96,385.11 597.16,378.18 598.36,377.29 599.55,376.25 600.75,371.03 601.95,371.74 603.15,392.48 604.35,369.22 605.55,379.91 606.74,380.20 607.94,368.72 609.14,378.37 610.34,384.67 611.54,384.34 612.74,376.29 613.93,371.31 615.13,367.81 616.33,377.40 617.53,379.04 618.73,366.90 619.93,378.84 621.12,367.71 622.32,374.71 623.52,374.62 624.72,377.28 625.92,374.14 627.12,378.46 628.31,379.63 629.51,376.42 630.71,379.33 631.91,373.75 633.11,374.94 634.31,376.88 635.51,376.45 636.70,376.54 637.90,365.11 639.10,375.14 640.30,378.45 641.50,376.66 642.70,371.05 643.89,375.97 645.09,375.61 646.29,376.15 647.49,373.65 648.69,372.28 649.89,371.90 651.08,383.84 652.28,380.49 653.48,389.43 654.68,369.56 655.88,367.72 657.08,366.54 658.27,373.15 659.47,367.28 660.67,374.06 661.87,374.47 663.07,382.60 664.27,378.15 665.46,376.98 666.66,368.20 667.86,363.85 669.06,376.06" fill="none" stroke="#2aa35a" stroke-width="0.8" stroke-linejoin="round"/>
<polyline points="490.50,407.74 491.70,407.95 492.90,410.15 494.10,412.14 495.29,410.11 496.49,411.54 497.69,409.19 498.89,408.82 500.09,408.91 501.29,408.88 502.48,407.51 503.68,410.48 504.88,406.67 506.08,412.04 507.28,408.40 508.48,407.71 509.67,410.19 510.87,411.87 512.07,407.19 513.27,409.94 514.47,393.82 515.67,381.94 516.86,411.32 518.06,405.38 519.26,389.96 520.46,396.32 521.66,400.98 522.86,384.65 524.05,391.44 525.25,403.17 526.45,399.06 527.65,389.04 528.85,382.79 530.05,407.99 531.25,392.99 532.44,397.19 533.64,406.28 534.84,395.76 536.04,405.31 537.24,398.22 538.44,383.87 539.63,391.22 540.83,389.44 542.03,390.64 543.23,392.27 544.43,388.15 545.63,402.38 546.82,397.01 548.02,388.94 549.22,399.46 550.42,397.52 551.62,386.57 552.82,384.39 554.01,398.63 555.21,400.02 556.41,390.70 557.61,392.78 558.81,399.06 560.01,390.61 561.20,390.89 562.40,394.03 563.60,375.00 564.80,385.52 566.00,389.14 567.20,387.74 568.40,374.83 569.59,387.25 570.79,399.35 571.99,392.42 573.19,394.06 574.39,398.33 575.59,392.82 576.78,392.87 577.98,394.92 579.18,397.79 580.38,389.02 581.58,405.18 582.78,389.05 583.97,394.48 585.17,392.71 586.37,410.38 587.57,383.33 588.77,406.08 589.97,400.31 591.16,390.24 592.36,398.58 593.56,397.26 594.76,409.44 595.96,409.01 597.16,410.23 598.36,410.45 599.55,409.36 600.75,405.83 601.95,406.84 603.15,410.01 604.35,406.46 605.55,408.80 606.74,409.97 607.94,407.64 609.14,410.43 610.34,411.80 611.54,405.84 612.74,412.33 613.93,407.41 615.13,411.70 616.33,408.60 617.53,408.95 618.73,409.45 619.93,413.08 621.12,408.76 622.32,408.61 623.52,410.40 624.72,408.67 625.92,406.47 627.12,410.02 628.31,408.00 629.51,410.92 630.71,407.74 631.91,407.20 633.11,403.38 634.31,406.65 635.51,407.63 636.70,405.61 637.90,410.59 639.10,406.31 640.30,409.66 641.50,409.81 642.70,406.26 643.89,408.04 645.09,405.78 646.29,411.53 647.49,407.96 648.69,409.61 649.89,409.08 651.08,412.47 652.28,406.58 653.48,408.09 654.68,410.56 655.88,411.31 657.08,410.32 658.27,405.63 659.47,408.73 660.67,409.21 661.87,407.50 663.07,408.49 664.27,408.03 665.46,406.98 666.66,407.83 667.86,406.70 669.06,410.97" fill="none" stroke="#e3283a" stroke-width="0.8" stroke-linejoin="round"/>
<polyline points="490.50,477.62 491.70,475.82 492.90,474.53 494.10,477.20 495.29,475.80 496.49,475.19 497.69,478.28 498.89,478.49 500.09,470.97 501.29,478.77 502.48,472.99 503.68,476.21 504.88,472.32 506.08,478.18 507.28,474.97 508.48,475.48 509.67,477.03 510.87,475.54 512.07,478.54 513.27,476.63 514.47,459.78 515.67,453.89 516.86,454.56 518.06,443.52 519.26,450.64 520.46,480.94 521.66,462.13 522.86,477.10 524.05,461.97 525.25,452.49 526.45,470.94 527.65,469.47 528.85,457.00 530.05,461.07 531.25,443.46 532.44,455.32 533.64,453.35 534.84,441.89 536.04,463.07 537.24,458.37 538.44,467.69 539.63,455.92 540.83,448.61 542.03,445.46 543.23,458.69 544.43,465.04 545.63,465.56 546.82,471.48 548.02,457.20 549.22,445.53 550.42,480.67 551.62,478.84 552.82,445.12 554.01,473.50 555.21,455.21 556.41,470.19 557.61,450.95 558.81,450.94 560.01,456.72 561.20,450.53 562.40,457.83 563.60,452.99 564.80,441.10 566.00,447.94 567.20,464.50 568.40,465.87 569.59,460.54 570.79,460.44 571.99,457.61 573.19,463.98 574.39,452.12 575.59,457.91 576.78,454.85 577.98,458.20 579.18,452.46 580.38,469.55 581.58,443.33 582.78,454.98 583.97,454.00 585.17,452.47 586.37,448.02 587.57,451.28 588.77,455.99 589.97,459.93 591.16,473.74 592.36,456.19 593.56,461.16 594.76,461.17 595.96,472.11 597.16,472.88 598.36,474.86 599.55,478.89 600.75,473.77 601.95,471.19 603.15,474.11 604.35,471.91 605.55,478.56 606.74,473.53 607.94,473.76 609.14,480.57 610.34,480.95 611.54,478.41 612.74,476.16 613.93,475.12 615.13,477.02 616.33,476.57 617.53,476.70 618.73,476.14 619.93,474.74 621.12,474.99 622.32,476.54 623.52,475.66 624.72,477.65 625.92,474.14 627.12,477.80 628.31,471.77 629.51,476.45 630.71,475.61 631.91,478.52 633.11,477.35 634.31,475.92 635.51,476.33 636.70,478.13 637.90,479.65 639.10,476.27 640.30,475.95 641.50,474.83 642.70,472.87 643.89,477.26 645.09,481.99 646.29,476.78 647.49,481.57 648.69,480.00 649.89,473.48 651.08,474.78 652.28,478.19 653.48,478.17 654.68,476.63 655.88,481.32 657.08,475.02 658.27,477.36 659.47,471.19 660.67,479.36 661.87,473.55 663.07,478.29 664.27,473.50 665.46,479.13 666.66,474.30 667.86,477.61 669.06,478.70" fill="none" stroke="#3b60b0" stroke-width="0.8" stroke-linejoin="round"/>
<path d="M490.50,356.50 L668.50,356.50 L668.50,419.50 L490.50,419.50 Z" fill="none" stroke="#2a2a2a" stroke-width="1.0"/>
<path d="M490.50,425.50 L668.50,425.50 L668.50,488.50 L490.50,488.50 Z" fill="none" stroke="#2a2a2a" stroke-width="1.0"/>
<line x1="487.00" y1="419.50" x2="490.50" y2="419.50" stroke="#222" stroke-width="1.0"/>
<text x="486.00" y="422.40" font-size="8" text-anchor="end" font-weight="normal" fill="#151515" stroke="#151515" stroke-width="0.18">0</text>
<line x1="487.00" y1="398.50" x2="490.50" y2="398.50" stroke="#222" stroke-width="1.0"/>
<text x="486.00" y="401.40" font-size="8" text-anchor="end" font-weight="normal" fill="#151515" stroke="#151515" stroke-width="0.18">200</text>
<line x1="487.00" y1="377.50" x2="490.50" y2="377.50" stroke="#222" stroke-width="1.0"/>
<text x="486.00" y="380.40" font-size="8" text-anchor="end" font-weight="normal" fill="#151515" stroke="#151515" stroke-width="0.18">400</text>
<line x1="487.00" y1="356.50" x2="490.50" y2="356.50" stroke="#222" stroke-width="1.0"/>
<text x="486.00" y="359.40" font-size="8" text-anchor="end" font-weight="normal" fill="#151515" stroke="#151515" stroke-width="0.18">600</text>
<line x1="487.00" y1="488.50" x2="490.50" y2="488.50" stroke="#222" stroke-width="1.0"/>
<text x="486.00" y="491.40" font-size="8" text-anchor="end" font-weight="normal" fill="#151515" stroke="#151515" stroke-width="0.18">0</text>
<line x1="487.00" y1="475.90" x2="490.50" y2="475.90" stroke="#222" stroke-width="1.0"/>
<text x="486.00" y="478.80" font-size="8" text-anchor="end" font-weight="normal" fill="#151515" stroke="#151515" stroke-width="0.18">0.2</text>
<line x1="487.00" y1="463.30" x2="490.50" y2="463.30" stroke="#222" stroke-width="1.0"/>
<text x="486.00" y="466.20" font-size="8" text-anchor="end" font-weight="normal" fill="#151515" stroke="#151515" stroke-width="0.18">0.4</text>
<line x1="487.00" y1="450.70" x2="490.50" y2="450.70" stroke="#222" stroke-width="1.0"/>
<text x="486.00" y="453.60" font-size="8" text-anchor="end" font-weight="normal" fill="#151515" stroke="#151515" stroke-width="0.18">0.6</text>
<line x1="487.00" y1="438.10" x2="490.50" y2="438.10" stroke="#222" stroke-width="1.0"/>
<text x="486.00" y="441.00" font-size="8" text-anchor="end" font-weight="normal" fill="#151515" stroke="#151515" stroke-width="0.18">0.8</text>
<line x1="487.00" y1="425.50" x2="490.50" y2="425.50" stroke="#222" stroke-width="1.0"/>
<text x="486.00" y="428.40" font-size="8" text-anchor="end" font-weight="normal" fill="#151515" stroke="#151515" stroke-width="0.18">1</text>
<line x1="490.50" y1="419.50" x2="490.50" y2="422.00" stroke="#222" stroke-width="1.0"/>
<line x1="490.50" y1="488.50" x2="490.50" y2="491.00" stroke="#222" stroke-width="1.0"/>
<text x="490.50" y="499.10" font-size="8" text-anchor="middle" font-weight="normal" fill="#151515" stroke="#151515" stroke-width="0.18">0</text>
<line x1="546.30" y1="419.50" x2="546.30" y2="422.00" stroke="#222" stroke-width="1.0"/>
<line x1="546.30" y1="488.50" x2="546.30" y2="491.00" stroke="#222" stroke-width="1.0"/>
<text x="546.30" y="499.10" font-size="8" text-anchor="middle" font-weight="normal" fill="#151515" stroke="#151515" stroke-width="0.18">2</text>
<line x1="602.10" y1="419.50" x2="602.10" y2="422.00" stroke="#222" stroke-width="1.0"/>
<line x1="602.10" y1="488.50" x2="602.10" y2="491.00" stroke="#222" stroke-width="1.0"/>
<text x="602.10" y="499.10" font-size="8" text-anchor="middle" font-weight="normal" fill="#151515" stroke="#151515" stroke-width="0.18">4</text>
<line x1="657.90" y1="419.50" x2="657.90" y2="422.00" stroke="#222" stroke-width="1.0"/>
<line x1="657.90" y1="488.50" x2="657.90" y2="491.00" stroke="#222" stroke-width="1.0"/>
<text x="657.90" y="499.10" font-size="8" text-anchor="middle" font-weight="normal" fill="#151515" stroke="#151515" stroke-width="0.18">6</text>
<text x="587.30" y="509.00" font-size="7.6" text-anchor="middle" font-weight="normal" fill="#151515" stroke="#151515" stroke-width="0.18">time (sec)</text>
<text x="459.00" y="389.80" font-size="7.2" text-anchor="middle" font-weight="normal" fill="#151515" stroke="#151515" stroke-width="0.18" transform="rotate(-90 459.0 389.8)">intensity</text>
<text x="466.50" y="389.80" font-size="7.2" text-anchor="middle" font-weight="normal" fill="#151515" stroke="#151515" stroke-width="0.18" transform="rotate(-90 466.5 389.8)">(arb.units)</text>
<text x="468.00" y="460.00" font-size="8" text-anchor="middle" font-weight="normal" fill="#151515" stroke="#151515" stroke-width="0.18" transform="rotate(-90 468.0 460.0)">FRET</text>
<line x1="517.00" y1="350.30" x2="584.00" y2="350.30" stroke="#c6c7c9" stroke-width="3.0"/>
<polygon points="507.40,350.30 517.90,345.00 517.90,355.60" fill="#c6c7c9" stroke="none" stroke-width="1"/>
<polygon points="593.20,350.30 582.70,345.00 582.70,355.60" fill="#c6c7c9" stroke="none" stroke-width="1"/>
<text x="547.80" y="346.60" font-size="8.3" text-anchor="middle" font-weight="normal" fill="#555" stroke="#555" stroke-width="0.18">On</text>
<line x1="50.30" y1="380.70" x2="50.30" y2="503.50" stroke="#333" stroke-width="0.9"/>
<line x1="50.30" y1="503.50" x2="203.30" y2="503.50" stroke="#333" stroke-width="0.9"/>
<line x1="47.80" y1="503.80" x2="50.30" y2="503.80" stroke="#333" stroke-width="0.8"/>
<text x="45.60" y="505.70" font-size="5.4" text-anchor="end" font-weight="normal" fill="#333" stroke="#333" stroke-width="0.18">-0.1</text>
<line x1="47.80" y1="487.40" x2="50.30" y2="487.40" stroke="#333" stroke-width="0.8"/>
<text x="45.60" y="489.30" font-size="5.4" text-anchor="end" font-weight="normal" fill="#333" stroke="#333" stroke-width="0.18">0.0</text>
<line x1="47.80" y1="471.00" x2="50.30" y2="471.00" stroke="#333" stroke-width="0.8"/>
<text x="45.60" y="472.90" font-size="5.4" text-anchor="end" font-weight="normal" fill="#333" stroke="#333" stroke-width="0.18">0.1</text>
<line x1="47.80" y1="454.60" x2="50.30" y2="454.60" stroke="#333" stroke-width="0.8"/>
<text x="45.60" y="456.50" font-size="5.4" text-anchor="end" font-weight="normal" fill="#333" stroke="#333" stroke-width="0.18">0.2</text>
<line x1="47.80" y1="438.20" x2="50.30" y2="438.20" stroke="#333" stroke-width="0.8"/>
<text x="45.60" y="440.10" font-size="5.4" text-anchor="end" font-weight="normal" fill="#333" stroke="#333" stroke-width="0.18">0.3</text>
<line x1="47.80" y1="421.80" x2="50.30" y2="421.80" stroke="#333" stroke-width="0.8"/>
<text x="45.60" y="423.70" font-size="5.4" text-anchor="end" font-weight="normal" fill="#333" stroke="#333" stroke-width="0.18">0.4</text>
<line x1="47.80" y1="405.40" x2="50.30" y2="405.40" stroke="#333" stroke-width="0.8"/>
<text x="45.60" y="407.30" font-size="5.4" text-anchor="end" font-weight="normal" fill="#333" stroke="#333" stroke-width="0.18">0.5</text>
<line x1="47.80" y1="389.00" x2="50.30" y2="389.00" stroke="#333" stroke-width="0.8"/>
<text x="45.60" y="390.90" font-size="5.4" text-anchor="end" font-weight="normal" fill="#333" stroke="#333" stroke-width="0.18">0.6</text>
<line x1="60.80" y1="503.50" x2="60.80" y2="505.50" stroke="#333" stroke-width="0.8"/>
<text x="60.80" y="511.60" font-size="5.4" text-anchor="middle" font-weight="normal" fill="#333" stroke="#333" stroke-width="0.18">0.0</text>
<line x1="81.20" y1="503.50" x2="81.20" y2="505.50" stroke="#333" stroke-width="0.8"/>
<text x="81.20" y="511.60" font-size="5.4" text-anchor="middle" font-weight="normal" fill="#333" stroke="#333" stroke-width="0.18">0.2</text>
<line x1="101.60" y1="503.50" x2="101.60" y2="505.50" stroke="#333" stroke-width="0.8"/>
<text x="101.60" y="511.60" font-size="5.4" text-anchor="middle" font-weight="normal" fill="#333" stroke="#333" stroke-width="0.18">0.4</text>
<line x1="122.00" y1="503.50" x2="122.00" y2="505.50" stroke="#333" stroke-width="0.8"/>
<text x="122.00" y="511.60" font-size="5.4" text-anchor="middle" font-weight="normal" fill="#333" stroke="#333" stroke-width="0.18">0.6</text>
<line x1="142.40" y1="503.50" x2="142.40" y2="505.50" stroke="#333" stroke-width="0.8"/>
<text x="142.40" y="511.60" font-size="5.4" text-anchor="middle" font-weight="normal" fill="#333" stroke="#333" stroke-width="0.18">0.8</text>
<line x1="162.80" y1="503.50" x2="162.80" y2="505.50" stroke="#333" stroke-width="0.8"/>
<text x="162.80" y="511.60" font-size="5.4" text-anchor="middle" font-weight="normal" fill="#333" stroke="#333" stroke-width="0.18">1.0</text>
<line x1="183.20" y1="503.50" x2="183.20" y2="505.50" stroke="#333" stroke-width="0.8"/>
<text x="183.20" y="511.60" font-size="5.4" text-anchor="middle" font-weight="normal" fill="#333" stroke="#333" stroke-width="0.18">1.2</text>
<line x1="203.60" y1="503.50" x2="203.60" y2="505.50" stroke="#333" stroke-width="0.8"/>
<text x="203.60" y="511.60" font-size="5.4" text-anchor="middle" font-weight="normal" fill="#333" stroke="#333" stroke-width="0.18">1.4</text>
<text x="121.20" y="527.00" font-size="10.5" text-anchor="middle" font-weight="normal" fill="#151515" stroke="#151515" stroke-width="0.18">Tau (s)</text>
<text x="28.00" y="442.40" font-size="10.1" text-anchor="middle" font-weight="normal" fill="#151515" stroke="#151515" stroke-width="0.18" transform="rotate(-90 28.0 442.4)">Auto-correlation (arb.units)</text>
<rect x="139.00" y="387.40" width="4.90" height="4.90" fill="#1eb4e8" stroke="none" stroke-width="1"/>
<text x="147.70" y="393.10" font-size="8.8" text-anchor="start" font-weight="normal" fill="#151515" stroke="#151515" stroke-width="0.18">112 bp (on)</text>
<rect x="139.00" y="400.60" width="4.90" height="4.90" fill="#e8323f" stroke="none" stroke-width="1"/>
<text x="147.70" y="406.30" font-size="8.8" text-anchor="start" font-weight="normal" fill="#151515" stroke="#151515" stroke-width="0.18">59 bp (on)</text>
<rect x="139.00" y="413.70" width="4.90" height="4.90" fill="#4a4a4a" stroke="none" stroke-width="1"/>
<text x="147.70" y="419.40" font-size="8.8" text-anchor="start" font-weight="normal" fill="#151515" stroke="#151515" stroke-width="0.18">42 bp (on)</text>
<rect x="139.00" y="426.80" width="4.90" height="4.90" fill="#b9b9b9" stroke="none" stroke-width="1"/>
<text x="147.70" y="432.50" font-size="8.8" text-anchor="start" font-weight="normal" fill="#151515" stroke="#151515" stroke-width="0.18">112 bp (off)</text>
<rect x="62.36" y="473.09" width="3.00" height="3.00" fill="#b8b8b8" stroke="none" stroke-width="1"/>
<rect x="65.78" y="476.97" width="3.00" height="3.00" fill="#b8b8b8" stroke="none" stroke-width="1"/>
<rect x="69.19" y="475.75" width="3.00" height="3.00" fill="#b8b8b8" stroke="none" stroke-width="1"/>
<rect x="72.61" y="475.14" width="3.00" height="3.00" fill="#b8b8b8" stroke="none" stroke-width="1"/>
<rect x="76.03" y="475.65" width="3.00" height="3.00" fill="#b8b8b8" stroke="none" stroke-width="1"/>
<rect x="79.44" y="475.71" width="3.00" height="3.00" fill="#b8b8b8" stroke="none" stroke-width="1"/>
<rect x="82.86" y="478.03" width="3.00" height="3.00" fill="#b8b8b8" stroke="none" stroke-width="1"/>
<rect x="86.28" y="478.02" width="3.00" height="3.00" fill="#b8b8b8" stroke="none" stroke-width="1"/>
<rect x="89.70" y="476.96" width="3.00" height="3.00" fill="#b8b8b8" stroke="none" stroke-width="1"/>
<rect x="93.11" y="477.92" width="3.00" height="3.00" fill="#b8b8b8" stroke="none" stroke-width="1"/>
<rect x="96.53" y="476.47" width="3.00" height="3.00" fill="#b8b8b8" stroke="none" stroke-width="1"/>
<rect x="99.95" y="477.87" width="3.00" height="3.00" fill="#b8b8b8" stroke="none" stroke-width="1"/>
<rect x="103.36" y="478.07" width="3.00" height="3.00" fill="#b8b8b8" stroke="none" stroke-width="1"/>
<rect x="106.78" y="478.02" width="3.00" height="3.00" fill="#b8b8b8" stroke="none" stroke-width="1"/>
<rect x="110.20" y="478.75" width="3.00" height="3.00" fill="#b8b8b8" stroke="none" stroke-width="1"/>
<rect x="113.62" y="478.57" width="3.00" height="3.00" fill="#b8b8b8" stroke="none" stroke-width="1"/>
<rect x="117.03" y="479.34" width="3.00" height="3.00" fill="#b8b8b8" stroke="none" stroke-width="1"/>
<rect x="120.45" y="478.94" width="3.00" height="3.00" fill="#b8b8b8" stroke="none" stroke-width="1"/>
<rect x="123.87" y="479.41" width="3.00" height="3.00" fill="#b8b8b8" stroke="none" stroke-width="1"/>
<rect x="127.28" y="478.91" width="3.00" height="3.00" fill="#b8b8b8" stroke="none" stroke-width="1"/>
<rect x="130.70" y="480.37" width="3.00" height="3.00" fill="#b8b8b8" stroke="none" stroke-width="1"/>
<rect x="134.12" y="480.52" width="3.00" height="3.00" fill="#b8b8b8" stroke="none" stroke-width="1"/>
<rect x="137.53" y="479.00" width="3.00" height="3.00" fill="#b8b8b8" stroke="none" stroke-width="1"/>
<rect x="140.95" y="479.27" width="3.00" height="3.00" fill="#b8b8b8" stroke="none" stroke-width="1"/>
<rect x="144.37" y="480.31" width="3.00" height="3.00" fill="#b8b8b8" stroke="none" stroke-width="1"/>
<rect x="147.78" y="479.77" width="3.00" height="3.00" fill="#b8b8b8" stroke="none" stroke-width="1"/>
<rect x="151.20" y="480.50" width="3.00" height="3.00" fill="#b8b8b8" stroke="none" stroke-width="1"/>
<rect x="154.62" y="478.03" width="3.00" height="3.00" fill="#b8b8b8" stroke="none" stroke-width="1"/>
<rect x="158.04" y="481.03" width="3.00" height="3.00" fill="#b8b8b8" stroke="none" stroke-width="1"/>
<rect x="161.45" y="478.39" width="3.00" height="3.00" fill="#b8b8b8" stroke="none" stroke-width="1"/>
<rect x="164.87" y="480.52" width="3.00" height="3.00" fill="#b8b8b8" stroke="none" stroke-width="1"/>
<rect x="168.29" y="479.54" width="3.00" height="3.00" fill="#b8b8b8" stroke="none" stroke-width="1"/>
<rect x="171.70" y="480.14" width="3.00" height="3.00" fill="#b8b8b8" stroke="none" stroke-width="1"/>
<rect x="175.12" y="480.27" width="3.00" height="3.00" fill="#b8b8b8" stroke="none" stroke-width="1"/>
<rect x="178.54" y="479.22" width="3.00" height="3.00" fill="#b8b8b8" stroke="none" stroke-width="1"/>
<rect x="181.96" y="479.35" width="3.00" height="3.00" fill="#b8b8b8" stroke="none" stroke-width="1"/>
<rect x="185.37" y="480.29" width="3.00" height="3.00" fill="#b8b8b8" stroke="none" stroke-width="1"/>
<rect x="188.79" y="480.82" width="3.00" height="3.00" fill="#b8b8b8" stroke="none" stroke-width="1"/>
<rect x="189.86" y="480.98" width="3.00" height="3.00" fill="#b8b8b8" stroke="none" stroke-width="1"/>
<rect x="62.36" y="413.26" width="3.00" height="3.00" fill="#444" stroke="none" stroke-width="1"/>
<rect x="65.78" y="432.43" width="3.00" height="3.00" fill="#444" stroke="none" stroke-width="1"/>
<rect x="69.19" y="447.32" width="3.00" height="3.00" fill="#444" stroke="none" stroke-width="1"/>
<rect x="72.61" y="457.82" width="3.00" height="3.00" fill="#444" stroke="none" stroke-width="1"/>
<rect x="76.03" y="464.67" width="3.00" height="3.00" fill="#444" stroke="none" stroke-width="1"/>
<rect x="79.44" y="470.35" width="3.00" height="3.00" fill="#444" stroke="none" stroke-width="1"/>
<rect x="82.86" y="473.29" width="3.00" height="3.00" fill="#444" stroke="none" stroke-width="1"/>
<rect x="86.28" y="478.40" width="3.00" height="3.00" fill="#444" stroke="none" stroke-width="1"/>
<rect x="89.70" y="479.62" width="3.00" height="3.00" fill="#444" stroke="none" stroke-width="1"/>
<rect x="93.11" y="482.03" width="3.00" height="3.00" fill="#444" stroke="none" stroke-width="1"/>
<rect x="96.53" y="481.17" width="3.00" height="3.00" fill="#444" stroke="none" stroke-width="1"/>
<rect x="99.95" y="481.56" width="3.00" height="3.00" fill="#444" stroke="none" stroke-width="1"/>
<rect x="103.36" y="484.08" width="3.00" height="3.00" fill="#444" stroke="none" stroke-width="1"/>
<rect x="106.78" y="483.94" width="3.00" height="3.00" fill="#444" stroke="none" stroke-width="1"/>
<rect x="110.20" y="483.44" width="3.00" height="3.00" fill="#444" stroke="none" stroke-width="1"/>
<rect x="113.62" y="485.37" width="3.00" height="3.00" fill="#444" stroke="none" stroke-width="1"/>
<rect x="117.03" y="486.19" width="3.00" height="3.00" fill="#444" stroke="none" stroke-width="1"/>
<rect x="120.45" y="484.39" width="3.00" height="3.00" fill="#444" stroke="none" stroke-width="1"/>
<rect x="123.87" y="485.02" width="3.00" height="3.00" fill="#444" stroke="none" stroke-width="1"/>
<rect x="127.28" y="485.80" width="3.00" height="3.00" fill="#444" stroke="none" stroke-width="1"/>
<rect x="130.70" y="484.21" width="3.00" height="3.00" fill="#444" stroke="none" stroke-width="1"/>
<rect x="134.12" y="485.46" width="3.00" height="3.00" fill="#444" stroke="none" stroke-width="1"/>
<rect x="137.53" y="487.48" width="3.00" height="3.00" fill="#444" stroke="none" stroke-width="1"/>
<rect x="140.95" y="485.41" width="3.00" height="3.00" fill="#444" stroke="none" stroke-width="1"/>
<rect x="144.37" y="485.82" width="3.00" height="3.00" fill="#444" stroke="none" stroke-width="1"/>
<rect x="147.78" y="483.93" width="3.00" height="3.00" fill="#444" stroke="none" stroke-width="1"/>
<rect x="151.20" y="485.80" width="3.00" height="3.00" fill="#444" stroke="none" stroke-width="1"/>
<rect x="154.62" y="485.99" width="3.00" height="3.00" fill="#444" stroke="none" stroke-width="1"/>
<rect x="158.04" y="485.37" width="3.00" height="3.00" fill="#444" stroke="none" stroke-width="1"/>
<rect x="161.45" y="485.56" width="3.00" height="3.00" fill="#444" stroke="none" stroke-width="1"/>
<rect x="164.87" y="487.19" width="3.00" height="3.00" fill="#444" stroke="none" stroke-width="1"/>
<rect x="168.29" y="485.69" width="3.00" height="3.00" fill="#444" stroke="none" stroke-width="1"/>
<rect x="171.70" y="486.13" width="3.00" height="3.00" fill="#444" stroke="none" stroke-width="1"/>
<rect x="175.12" y="484.42" width="3.00" height="3.00" fill="#444" stroke="none" stroke-width="1"/>
<rect x="178.54" y="483.45" width="3.00" height="3.00" fill="#444" stroke="none" stroke-width="1"/>
<rect x="181.96" y="486.91" width="3.00" height="3.00" fill="#444" stroke="none" stroke-width="1"/>
<rect x="185.37" y="486.76" width="3.00" height="3.00" fill="#444" stroke="none" stroke-width="1"/>
<rect x="188.79" y="486.64" width="3.00" height="3.00" fill="#444" stroke="none" stroke-width="1"/>
<rect x="62.36" y="394.06" width="3.00" height="3.00" fill="#e8323f" stroke="none" stroke-width="1"/>
<rect x="65.78" y="417.80" width="3.00" height="3.00" fill="#e8323f" stroke="none" stroke-width="1"/>
<rect x="69.19" y="432.45" width="3.00" height="3.00" fill="#e8323f" stroke="none" stroke-width="1"/>
<rect x="72.61" y="443.55" width="3.00" height="3.00" fill="#e8323f" stroke="none" stroke-width="1"/>
<rect x="76.03" y="455.43" width="3.00" height="3.00" fill="#e8323f" stroke="none" stroke-width="1"/>
<rect x="79.44" y="463.17" width="3.00" height="3.00" fill="#e8323f" stroke="none" stroke-width="1"/>
<rect x="82.86" y="469.38" width="3.00" height="3.00" fill="#e8323f" stroke="none" stroke-width="1"/>
<rect x="86.28" y="471.13" width="3.00" height="3.00" fill="#e8323f" stroke="none" stroke-width="1"/>
<rect x="89.70" y="474.57" width="3.00" height="3.00" fill="#e8323f" stroke="none" stroke-width="1"/>
<rect x="93.11" y="480.27" width="3.00" height="3.00" fill="#e8323f" stroke="none" stroke-width="1"/>
<rect x="96.53" y="482.63" width="3.00" height="3.00" fill="#e8323f" stroke="none" stroke-width="1"/>
<rect x="99.95" y="482.68" width="3.00" height="3.00" fill="#e8323f" stroke="none" stroke-width="1"/>
<rect x="103.36" y="483.14" width="3.00" height="3.00" fill="#e8323f" stroke="none" stroke-width="1"/>
<rect x="106.78" y="484.32" width="3.00" height="3.00" fill="#e8323f" stroke="none" stroke-width="1"/>
<rect x="110.20" y="486.00" width="3.00" height="3.00" fill="#e8323f" stroke="none" stroke-width="1"/>
<rect x="113.62" y="486.21" width="3.00" height="3.00" fill="#e8323f" stroke="none" stroke-width="1"/>
<rect x="117.03" y="487.10" width="3.00" height="3.00" fill="#e8323f" stroke="none" stroke-width="1"/>
<rect x="120.45" y="488.39" width="3.00" height="3.00" fill="#e8323f" stroke="none" stroke-width="1"/>
<rect x="123.87" y="486.30" width="3.00" height="3.00" fill="#e8323f" stroke="none" stroke-width="1"/>
<rect x="127.28" y="488.44" width="3.00" height="3.00" fill="#e8323f" stroke="none" stroke-width="1"/>
<rect x="130.70" y="491.06" width="3.00" height="3.00" fill="#e8323f" stroke="none" stroke-width="1"/>
<rect x="134.12" y="490.58" width="3.00" height="3.00" fill="#e8323f" stroke="none" stroke-width="1"/>
<rect x="137.53" y="491.77" width="3.00" height="3.00" fill="#e8323f" stroke="none" stroke-width="1"/>
<rect x="140.95" y="490.34" width="3.00" height="3.00" fill="#e8323f" stroke="none" stroke-width="1"/>
<rect x="144.37" y="489.35" width="3.00" height="3.00" fill="#e8323f" stroke="none" stroke-width="1"/>
<rect x="147.78" y="491.74" width="3.00" height="3.00" fill="#e8323f" stroke="none" stroke-width="1"/>
<rect x="151.20" y="489.44" width="3.00" height="3.00" fill="#e8323f" stroke="none" stroke-width="1"/>
<rect x="154.62" y="488.52" width="3.00" height="3.00" fill="#e8323f" stroke="none" stroke-width="1"/>
<rect x="158.04" y="490.24" width="3.00" height="3.00" fill="#e8323f" stroke="none" stroke-width="1"/>
<rect x="161.45" y="491.78" width="3.00" height="3.00" fill="#e8323f" stroke="none" stroke-width="1"/>
<rect x="164.87" y="491.50" width="3.00" height="3.00" fill="#e8323f" stroke="none" stroke-width="1"/>
<rect x="168.29" y="491.00" width="3.00" height="3.00" fill="#e8323f" stroke="none" stroke-width="1"/>
<rect x="171.70" y="491.95" width="3.00" height="3.00" fill="#e8323f" stroke="none" stroke-width="1"/>
<rect x="175.12" y="491.92" width="3.00" height="3.00" fill="#e8323f" stroke="none" stroke-width="1"/>
<rect x="178.54" y="490.96" width="3.00" height="3.00" fill="#e8323f" stroke="none" stroke-width="1"/>
<rect x="181.96" y="490.88" width="3.00" height="3.00" fill="#e8323f" stroke="none" stroke-width="1"/>
<rect x="185.37" y="490.11" width="3.00" height="3.00" fill="#e8323f" stroke="none" stroke-width="1"/>
<rect x="188.79" y="491.89" width="3.00" height="3.00" fill="#e8323f" stroke="none" stroke-width="1"/>
<rect x="62.36" y="403.90" width="3.00" height="3.00" fill="#2d62c0" stroke="none" stroke-width="1"/>
<rect x="65.78" y="414.23" width="3.00" height="3.00" fill="#2d62c0" stroke="none" stroke-width="1"/>
<rect x="69.19" y="422.95" width="3.00" height="3.00" fill="#2d62c0" stroke="none" stroke-width="1"/>
<rect x="72.61" y="431.90" width="3.00" height="3.00" fill="#2d62c0" stroke="none" stroke-width="1"/>
<rect x="76.03" y="436.01" width="3.00" height="3.00" fill="#2d62c0" stroke="none" stroke-width="1"/>
<rect x="79.44" y="443.68" width="3.00" height="3.00" fill="#2d62c0" stroke="none" stroke-width="1"/>
<rect x="82.86" y="446.45" width="3.00" height="3.00" fill="#2d62c0" stroke="none" stroke-width="1"/>
<rect x="86.28" y="451.44" width="3.00" height="3.00" fill="#2d62c0" stroke="none" stroke-width="1"/>
<rect x="89.70" y="457.07" width="3.00" height="3.00" fill="#2d62c0" stroke="none" stroke-width="1"/>
<rect x="93.11" y="459.85" width="3.00" height="3.00" fill="#2d62c0" stroke="none" stroke-width="1"/>
<rect x="96.53" y="460.36" width="3.00" height="3.00" fill="#2d62c0" stroke="none" stroke-width="1"/>
<rect x="99.95" y="463.65" width="3.00" height="3.00" fill="#2d62c0" stroke="none" stroke-width="1"/>
<rect x="103.36" y="466.91" width="3.00" height="3.00" fill="#2d62c0" stroke="none" stroke-width="1"/>
<rect x="106.78" y="468.40" width="3.00" height="3.00" fill="#2d62c0" stroke="none" stroke-width="1"/>
<rect x="110.20" y="470.00" width="3.00" height="3.00" fill="#2d62c0" stroke="none" stroke-width="1"/>
<rect x="113.62" y="472.35" width="3.00" height="3.00" fill="#2d62c0" stroke="none" stroke-width="1"/>
<rect x="117.03" y="473.00" width="3.00" height="3.00" fill="#2d62c0" stroke="none" stroke-width="1"/>
<rect x="120.45" y="474.50" width="3.00" height="3.00" fill="#2d62c0" stroke="none" stroke-width="1"/>
<rect x="123.87" y="475.19" width="3.00" height="3.00" fill="#2d62c0" stroke="none" stroke-width="1"/>
<rect x="127.28" y="475.11" width="3.00" height="3.00" fill="#2d62c0" stroke="none" stroke-width="1"/>
<rect x="130.70" y="477.20" width="3.00" height="3.00" fill="#2d62c0" stroke="none" stroke-width="1"/>
<rect x="134.12" y="476.15" width="3.00" height="3.00" fill="#2d62c0" stroke="none" stroke-width="1"/>
<rect x="137.53" y="477.28" width="3.00" height="3.00" fill="#2d62c0" stroke="none" stroke-width="1"/>
<rect x="140.95" y="477.09" width="3.00" height="3.00" fill="#2d62c0" stroke="none" stroke-width="1"/>
<rect x="144.37" y="477.36" width="3.00" height="3.00" fill="#2d62c0" stroke="none" stroke-width="1"/>
<rect x="147.78" y="477.36" width="3.00" height="3.00" fill="#2d62c0" stroke="none" stroke-width="1"/>
<rect x="151.20" y="478.27" width="3.00" height="3.00" fill="#2d62c0" stroke="none" stroke-width="1"/>
<rect x="154.62" y="478.45" width="3.00" height="3.00" fill="#2d62c0" stroke="none" stroke-width="1"/>
<rect x="158.04" y="479.55" width="3.00" height="3.00" fill="#2d62c0" stroke="none" stroke-width="1"/>
<rect x="161.45" y="479.01" width="3.00" height="3.00" fill="#2d62c0" stroke="none" stroke-width="1"/>
<rect x="164.87" y="480.63" width="3.00" height="3.00" fill="#2d62c0" stroke="none" stroke-width="1"/>
<rect x="168.29" y="480.13" width="3.00" height="3.00" fill="#2d62c0" stroke="none" stroke-width="1"/>
<rect x="171.70" y="479.28" width="3.00" height="3.00" fill="#2d62c0" stroke="none" stroke-width="1"/>
<rect x="175.12" y="480.18" width="3.00" height="3.00" fill="#2d62c0" stroke="none" stroke-width="1"/>
<rect x="178.54" y="479.79" width="3.00" height="3.00" fill="#2d62c0" stroke="none" stroke-width="1"/>
<rect x="181.96" y="481.36" width="3.00" height="3.00" fill="#2d62c0" stroke="none" stroke-width="1"/>
<rect x="185.37" y="479.04" width="3.00" height="3.00" fill="#2d62c0" stroke="none" stroke-width="1"/>
<rect x="188.79" y="481.02" width="3.00" height="3.00" fill="#2d62c0" stroke="none" stroke-width="1"/>
<polyline points="63.86,424.26 64.91,428.99 65.95,433.35 67.00,437.39 68.04,441.12 69.09,444.57 70.13,447.75 71.18,450.70 72.23,453.42 73.27,455.93 74.32,458.26 75.36,460.41 76.41,462.39 77.45,464.22 78.50,465.92 79.55,467.49 80.59,468.93 81.64,470.27 82.68,471.51 83.73,472.65 84.77,473.71 85.82,474.68 86.87,475.59 87.91,476.42 88.96,477.19 90.00,477.90 91.05,478.56 92.09,479.17 93.14,479.73 94.19,480.25 95.23,480.73 96.28,481.17 97.32,481.58 98.37,481.96 99.41,482.31 100.46,482.64 101.51,482.94 102.55,483.21 103.60,483.47 104.64,483.70 105.69,483.92 106.73,484.12 107.78,484.31 108.83,484.48 109.87,484.64 110.92,484.79 111.96,484.92 113.01,485.05 114.05,485.17 115.10,485.27 116.15,485.37 117.19,485.46 118.24,485.55 119.28,485.63 120.33,485.70 121.37,485.77 122.42,485.83 123.47,485.88 124.51,485.94 125.56,485.99 126.60,486.03 127.65,486.07 128.69,486.11 129.74,486.15 130.79,486.18 131.83,486.21 132.88,486.24 133.92,486.26 134.97,486.29 136.01,486.31 137.06,486.33 138.11,486.35 139.15,486.37 140.20,486.38 141.24,486.40 142.29,486.41 143.33,486.42 144.38,486.44 145.43,486.45 146.47,486.46 147.52,486.47 148.56,486.48 149.61,486.48 150.65,486.49 151.70,486.50 152.75,486.50 153.79,486.51 154.84,486.51 155.88,486.52 156.93,486.52 157.97,486.53 159.02,486.53 160.07,486.54 161.11,486.54 162.16,486.54 163.20,486.55 164.25,486.55 165.29,486.55 166.34,486.55 167.39,486.55 168.43,486.56 169.48,486.56 170.52,486.56 171.57,486.56 172.61,486.56 173.66,486.56 174.71,486.57 175.75,486.57 176.80,486.57 177.84,486.57 178.89,486.57 179.93,486.57 180.98,486.57 182.03,486.57 183.07,486.57 184.12,486.57 185.16,486.57 186.21,486.57 187.25,486.57 188.30,486.57" fill="none" stroke="#555" stroke-width="0.8" stroke-linejoin="round"/>
<polyline points="63.86,407.04 64.91,412.46 65.95,417.52 67.00,422.24 68.04,426.65 69.09,430.78 70.13,434.63 71.18,438.22 72.23,441.58 73.27,444.71 74.32,447.64 75.36,450.38 76.41,452.93 77.45,455.32 78.50,457.54 79.55,459.62 80.59,461.57 81.64,463.38 82.68,465.08 83.73,466.66 84.77,468.14 85.82,469.52 86.87,470.81 87.91,472.01 88.96,473.14 90.00,474.19 91.05,475.17 92.09,476.09 93.14,476.94 94.19,477.74 95.23,478.49 96.28,479.19 97.32,479.84 98.37,480.44 99.41,481.01 100.46,481.54 101.51,482.04 102.55,482.50 103.60,482.93 104.64,483.34 105.69,483.71 106.73,484.06 107.78,484.39 108.83,484.70 109.87,484.99 110.92,485.25 111.96,485.50 113.01,485.74 114.05,485.96 115.10,486.16 116.15,486.35 117.19,486.53 118.24,486.69 119.28,486.85 120.33,486.99 121.37,487.13 122.42,487.26 123.47,487.37 124.51,487.48 125.56,487.59 126.60,487.68 127.65,487.77 128.69,487.86 129.74,487.93 130.79,488.01 131.83,488.08 132.88,488.14 133.92,488.20 134.97,488.25 136.01,488.31 137.06,488.35 138.11,488.40 139.15,488.44 140.20,488.48 141.24,488.52 142.29,488.55 143.33,488.59 144.38,488.62 145.43,488.64 146.47,488.67 147.52,488.69 148.56,488.72 149.61,488.74 150.65,488.76 151.70,488.78 152.75,488.79 153.79,488.81 154.84,488.83 155.88,488.84 156.93,488.85 157.97,488.87 159.02,488.88 160.07,488.89 161.11,488.90 162.16,488.91 163.20,488.92 164.25,488.92 165.29,488.93 166.34,488.94 167.39,488.95 168.43,488.95 169.48,488.96 170.52,488.96 171.57,488.97 172.61,488.97 173.66,488.98 174.71,488.98 175.75,488.99 176.80,488.99 177.84,488.99 178.89,489.00 179.93,489.00 180.98,489.00 182.03,489.00 183.07,489.01 184.12,489.01 185.16,489.01 186.21,489.01 187.25,489.01 188.30,489.02" fill="none" stroke="#e8323f" stroke-width="1.0" stroke-linejoin="round"/>
<polyline points="63.86,407.04 64.91,410.19 65.95,413.22 67.00,416.11 68.04,418.89 69.09,421.55 70.13,424.10 71.18,426.54 72.23,428.88 73.27,431.12 74.32,433.27 75.36,435.32 76.41,437.30 77.45,439.19 78.50,441.00 79.55,442.73 80.59,444.39 81.64,445.99 82.68,447.51 83.73,448.97 84.77,450.38 85.82,451.72 86.87,453.00 87.91,454.24 88.96,455.42 90.00,456.55 91.05,457.63 92.09,458.67 93.14,459.67 94.19,460.62 95.23,461.54 96.28,462.41 97.32,463.25 98.37,464.06 99.41,464.83 100.46,465.56 101.51,466.27 102.55,466.95 103.60,467.60 104.64,468.22 105.69,468.82 106.73,469.39 107.78,469.94 108.83,470.46 109.87,470.96 110.92,471.45 111.96,471.91 113.01,472.35 114.05,472.77 115.10,473.18 116.15,473.57 117.19,473.94 118.24,474.30 119.28,474.64 120.33,474.97 121.37,475.28 122.42,475.58 123.47,475.87 124.51,476.15 125.56,476.41 126.60,476.67 127.65,476.91 128.69,477.14 129.74,477.37 130.79,477.58 131.83,477.78 132.88,477.98 133.92,478.17 134.97,478.35 136.01,478.52 137.06,478.69 138.11,478.85 139.15,479.00 140.20,479.14 141.24,479.28 142.29,479.42 143.33,479.54 144.38,479.67 145.43,479.78 146.47,479.90 147.52,480.01 148.56,480.11 149.61,480.21 150.65,480.30 151.70,480.39 152.75,480.48 153.79,480.57 154.84,480.65 155.88,480.72 156.93,480.80 157.97,480.87 159.02,480.93 160.07,481.00 161.11,481.06 162.16,481.12 163.20,481.18 164.25,481.23 165.29,481.28 166.34,481.33 167.39,481.38 168.43,481.43 169.48,481.47 170.52,481.51 171.57,481.55 172.61,481.59 173.66,481.63 174.71,481.67 175.75,481.70 176.80,481.73 177.84,481.76 178.89,481.79 179.93,481.82 180.98,481.85 182.03,481.88 183.07,481.90 184.12,481.93 185.16,481.95 186.21,481.97 187.25,481.99 188.30,482.01" fill="none" stroke="#2d62c0" stroke-width="1.0" stroke-linejoin="round"/>
<rect x="82.14" y="432.18" width="2.20" height="2.20" fill="#1eb4e8" stroke="none" stroke-width="1"/>
<line x1="266.40" y1="382.00" x2="266.40" y2="506.50" stroke="#222" stroke-width="1.0"/>
<line x1="266.40" y1="506.50" x2="422.20" y2="506.50" stroke="#444" stroke-width="1.3"/>
<line x1="262.80" y1="506.50" x2="266.40" y2="506.50" stroke="#222" stroke-width="1.2"/>
<text x="261.00" y="508.90" font-size="6.8" text-anchor="end" font-weight="normal" fill="#151515" stroke="#151515" stroke-width="0.18">0.10</text>
<line x1="262.80" y1="490.00" x2="266.40" y2="490.00" stroke="#222" stroke-width="1.2"/>
<text x="261.00" y="492.40" font-size="6.8" text-anchor="end" font-weight="normal" fill="#151515" stroke="#151515" stroke-width="0.18">0.12</text>
<line x1="262.80" y1="473.50" x2="266.40" y2="473.50" stroke="#222" stroke-width="1.2"/>
<text x="261.00" y="475.90" font-size="6.8" text-anchor="end" font-weight="normal" fill="#151515" stroke="#151515" stroke-width="0.18">0.14</text>
<line x1="262.80" y1="457.00" x2="266.40" y2="457.00" stroke="#222" stroke-width="1.2"/>
<text x="261.00" y="459.40" font-size="6.8" text-anchor="end" font-weight="normal" fill="#151515" stroke="#151515" stroke-width="0.18">0.16</text>
<line x1="262.80" y1="440.50" x2="266.40" y2="440.50" stroke="#222" stroke-width="1.2"/>
<text x="261.00" y="442.90" font-size="6.8" text-anchor="end" font-weight="normal" fill="#151515" stroke="#151515" stroke-width="0.18">0.18</text>
<line x1="262.80" y1="424.00" x2="266.40" y2="424.00" stroke="#222" stroke-width="1.2"/>
<text x="261.00" y="426.40" font-size="6.8" text-anchor="end" font-weight="normal" fill="#151515" stroke="#151515" stroke-width="0.18">0.20</text>
<line x1="262.80" y1="407.50" x2="266.40" y2="407.50" stroke="#222" stroke-width="1.2"/>
<text x="261.00" y="409.90" font-size="6.8" text-anchor="end" font-weight="normal" fill="#151515" stroke="#151515" stroke-width="0.18">0.22</text>
<line x1="262.80" y1="391.00" x2="266.40" y2="391.00" stroke="#222" stroke-width="1.2"/>
<text x="261.00" y="393.40" font-size="6.8" text-anchor="end" font-weight="normal" fill="#151515" stroke="#151515" stroke-width="0.18">0.24</text>
<line x1="275.60" y1="506.50" x2="275.60" y2="509.50" stroke="#222" stroke-width="1.0"/>
<text x="275.60" y="515.40" font-size="6.6" text-anchor="middle" font-weight="normal" fill="#151515" stroke="#151515" stroke-width="0.18">40</text>
<line x1="293.80" y1="506.50" x2="293.80" y2="509.50" stroke="#222" stroke-width="1.0"/>
<text x="293.80" y="515.40" font-size="6.6" text-anchor="middle" font-weight="normal" fill="#151515" stroke="#151515" stroke-width="0.18">50</text>
<line x1="312.00" y1="506.50" x2="312.00" y2="509.50" stroke="#222" stroke-width="1.0"/>
<text x="312.00" y="515.40" font-size="6.6" text-anchor="middle" font-weight="normal" fill="#151515" stroke="#151515" stroke-width="0.18">60</text>
<line x1="330.20" y1="506.50" x2="330.20" y2="509.50" stroke="#222" stroke-width="1.0"/>
<text x="330.20" y="515.40" font-size="6.6" text-anchor="middle" font-weight="normal" fill="#151515" stroke="#151515" stroke-width="0.18">70</text>
<line x1="348.40" y1="506.50" x2="348.40" y2="509.50" stroke="#222" stroke-width="1.0"/>
<text x="348.40" y="515.40" font-size="6.6" text-anchor="middle" font-weight="normal" fill="#151515" stroke="#151515" stroke-width="0.18">80</text>
<line x1="366.60" y1="506.50" x2="366.60" y2="509.50" stroke="#222" stroke-width="1.0"/>
<text x="366.60" y="515.40" font-size="6.6" text-anchor="middle" font-weight="normal" fill="#151515" stroke="#151515" stroke-width="0.18">90</text>
<line x1="384.80" y1="506.50" x2="384.80" y2="509.50" stroke="#222" stroke-width="1.0"/>
<text x="384.80" y="515.40" font-size="6.6" text-anchor="middle" font-weight="normal" fill="#151515" stroke="#151515" stroke-width="0.18">100</text>
<line x1="403.00" y1="506.50" x2="403.00" y2="509.50" stroke="#222" stroke-width="1.0"/>
<text x="403.00" y="515.40" font-size="6.6" text-anchor="middle" font-weight="normal" fill="#151515" stroke="#151515" stroke-width="0.18">110</text>
<line x1="421.20" y1="506.50" x2="421.20" y2="509.50" stroke="#222" stroke-width="1.0"/>
<text x="421.20" y="515.40" font-size="6.6" text-anchor="middle" font-weight="normal" fill="#151515" stroke="#151515" stroke-width="0.18">120</text>
<text x="342.40" y="529.80" font-size="8.2" text-anchor="middle" font-weight="normal" fill="#151515" stroke="#151515" stroke-width="0.18">dsRNA length (bp)</text>
<text x="237.20" y="452.00" font-size="8.2" text-anchor="middle" font-weight="normal" fill="#151515" stroke="#151515" stroke-width="0.18" transform="rotate(-90 237.2 452.0)">Sliding time (sec)</text>
<line x1="279.24" y1="484.64" x2="406.64" y2="400.49" stroke="#5b6368" stroke-width="2.9"/>
<line x1="279.24" y1="488.35" x2="279.24" y2="475.15" stroke="#222" stroke-width="0.9"/>
<line x1="277.44" y1="488.35" x2="281.04" y2="488.35" stroke="#222" stroke-width="0.9"/>
<line x1="277.44" y1="475.15" x2="281.04" y2="475.15" stroke="#222" stroke-width="0.9"/>
<rect x="277.74" y="480.25" width="3.00" height="3.00" fill="#222" stroke="none" stroke-width="1"/>
<line x1="310.18" y1="471.03" x2="310.18" y2="460.30" stroke="#222" stroke-width="0.9"/>
<line x1="308.38" y1="471.03" x2="311.98" y2="471.03" stroke="#222" stroke-width="0.9"/>
<line x1="308.38" y1="460.30" x2="311.98" y2="460.30" stroke="#222" stroke-width="0.9"/>
<rect x="308.68" y="464.57" width="3.00" height="3.00" fill="#222" stroke="none" stroke-width="1"/>
<line x1="406.64" y1="407.50" x2="406.64" y2="391.00" stroke="#222" stroke-width="0.9"/>
<line x1="404.84" y1="407.50" x2="408.44" y2="407.50" stroke="#222" stroke-width="0.9"/>
<line x1="404.84" y1="391.00" x2="408.44" y2="391.00" stroke="#222" stroke-width="0.9"/>
<rect x="405.14" y="397.75" width="3.00" height="3.00" fill="#222" stroke="none" stroke-width="1"/>
</svg>
</body></html>
